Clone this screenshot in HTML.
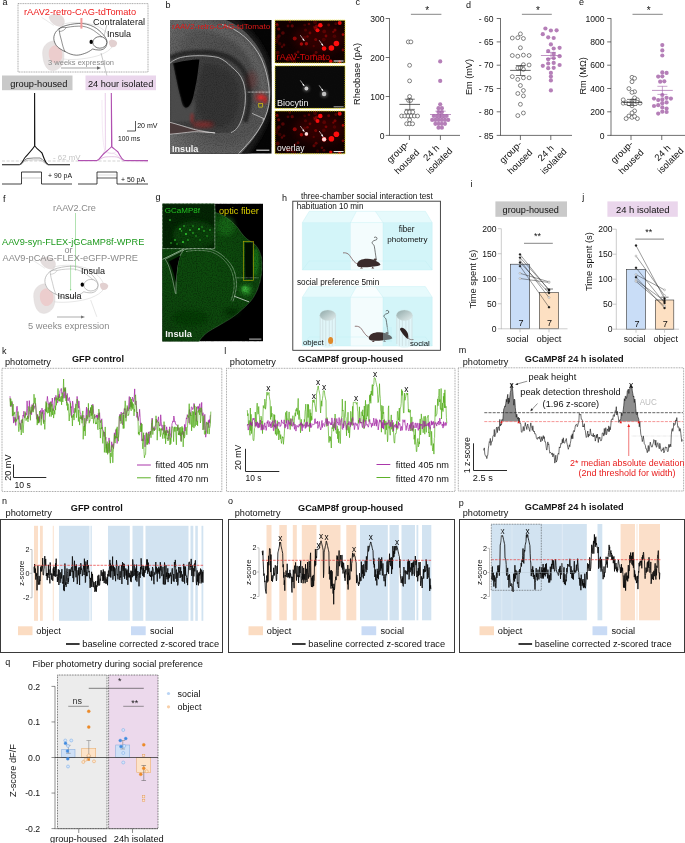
<!DOCTYPE html>
<html lang="en"><head><meta charset="utf-8"><title>Figure</title>
<style>
html,body{margin:0;padding:0;background:#fff;}
body{width:685px;height:843px;overflow:hidden;}
svg{display:block;}
svg text{font-family:"Liberation Sans",Arial,Helvetica,sans-serif;}
</style></head><body>
<svg width="685" height="843" viewBox="0 0 685 843">
<rect x="0" y="0" width="685" height="843" fill="#ffffff"/>
<text x="2.50" y="5.20" font-size="9.00" fill="#111" text-anchor="start">a</text>
<rect x="18.00" y="3.60" width="130.00" height="68.40" fill="none" stroke="#666" stroke-width="0.55" stroke-dasharray="1.1 0.6"/>
<g transform="translate(0,0) scale(1.0)" opacity="1.0">
<path d="M48.7,17 C50,13.5 57,13 61.5,15.5 C65.5,18.5 65.8,24 62,26.6 C57,27.5 50.5,24 48.7,17 Z" fill="#e4dddd" stroke="none" stroke-width="0.6"/>
<path d="M42.6,53 C42.4,46 48,41 54,41 C58,41 61,43 62.5,47 C64.5,53 64.5,60 62,65 C59,70 53,72 48.5,69.5 C44.5,66.5 42.8,60 42.6,53 Z" fill="#e7e2e2" stroke="#d9d3d3" stroke-width="0.4"/>
<path d="M48.7,53 C48.7,48 53,44.5 57.5,45.5 C61.5,47.5 63,53 62,58 C60.5,62 57,64 53.5,63 C50.5,61.5 48.7,58 48.7,53 Z" fill="#eccdcd" stroke="none" stroke-width="0.6"/>
<path d="M109,41 C111,39 116,39.5 117.2,43 C117,46.5 113.5,48 111,47 C109.3,45.5 108.5,43 109,41 Z" fill="#e2d0d0" stroke="none" stroke-width="0.6"/>
<path d="M41.6,17.4 C46,20 50,23 53.8,25.5" fill="none" stroke="#cfcfcf" stroke-width="0.45"/>
<path d="M62,24.5 C72,21 88,22 98,26.5 C105,30 110,35.5 112,40" fill="none" stroke="#cfcfcf" stroke-width="0.5"/>
<path d="M63,59 C74,60.5 90,58.5 100,55 C106,52.5 110,50 112,47" fill="none" stroke="#cfcfcf" stroke-width="0.5"/>
<path d="M53.8,38.8 C53.5,33 58,27.5 66,25.5 C72,23.8 78,23.3 82.4,23.5 C88,24 93,26 96.7,28.6 C100,31 103,34 104.9,36.8 C106.3,38.8 107,40.5 107,41.9 C107,44.5 106.3,46.5 104.9,48 C103.3,49.5 101,50.2 98.8,50 C96.5,50 94.5,49.6 92.7,49 C90,51 87.5,52.5 84.5,53.5 C81.5,54.6 79,55.2 76.3,55.2 C72.5,55 69,53.8 66.1,52.1 C63.5,51 61,49.5 58.9,48 C57,46.5 55.6,44.8 54.9,42.9 C54.2,41.5 53.9,40.2 53.8,38.8 Z" fill="#fff" stroke="#222" stroke-width="0.6"/>
<path d="M58.9,28.8 C59.5,33 60.3,37 61.6,40.9 C62.5,45 63.5,49 65.2,52" fill="none" stroke="#222" stroke-width="0.5"/>
<path d="M58.9,28.8 C61,27.5 64,27 66,27.6 C72,26.3 78,26 82.4,26.2 C88,27 93,29.5 96.7,32.7 C100.5,35.5 104,38.5 106,40.9" fill="none" stroke="#222" stroke-width="0.5"/>
<path d="M59.3,31.5 C62,31.5 65,30 66,27.6" fill="none" stroke="#222" stroke-width="0.4"/>
<ellipse cx="99.8" cy="42.4" rx="7" ry="5.8" fill="#fff" stroke="#222" stroke-width="0.6"/>
<ellipse cx="91.2" cy="41.9" rx="1.7" ry="2.1" fill="#000"/>
</g>
<text x="24.00" y="15.00" font-size="9.22" fill="#ee1c1c">rAAV2-retro-CAG-tdTomato</text>
<line x1="81.40" y1="18.00" x2="81.40" y2="28.60" stroke="#f29a9a" stroke-width="2"/>
<text x="93.00" y="25.10" font-size="9.08" fill="#111">Contralateral</text>
<text x="107.00" y="36.50" font-size="8.99" fill="#111">Insula</text>
<text x="48.00" y="64.70" font-size="7.52" fill="#8a8a8a">3 weeks expression</text>
<line x1="61.00" y1="68.00" x2="98.00" y2="68.00" stroke="#666" stroke-width="0.6"/>
<path d="M97,66.3 L101,68 L97,69.7 Z" fill="#666" stroke="none" stroke-width="0.6"/>
<path d="M107,24.5 L104,36" fill="none" stroke="#777" stroke-width="0.4"/>
<path d="M101,53 L107,76" fill="none" stroke="#777" stroke-width="0.4"/>
<rect x="2.00" y="75.50" width="70.50" height="14.70" fill="#c9c9c9" stroke="none" stroke-width="0.6"/>
<text x="10.30" y="86.80" font-size="9.24" fill="#111">group-housed</text>
<rect x="85.50" y="75.50" width="70.50" height="14.70" fill="#ead6ec" stroke="none" stroke-width="0.6"/>
<text x="88.00" y="86.80" font-size="9.18" fill="#111">24 hour isolated</text>
<line x1="2.00" y1="161.00" x2="148.00" y2="161.00" stroke="#b5b5b5" stroke-width="0.6" stroke-dasharray="3 1.6"/>
<text x="53.00" y="159.50" font-size="7.85" fill="#c4c4c4">- 62 mV</text>
<path d="M2,164.8 L19,164.8 C22,164.5 23,160 25,157.5 C29,153 32,150 34.6,146 L34.6,93 L34.8,146 C37,149 40,151 42,153 C44,158 45,163 48,164.6 L70,164.8" fill="none" stroke="#111" stroke-width="1.1"/>
<path d="M19,164.8 C22,164 24,159.5 27,158.6 C31,158 36,157.8 40,158 C43,159 45,163.5 48,164.6" fill="none" stroke="#333" stroke-width="0.6"/>
<path d="M19,164.8 C22,164.5 24,161 27,160.2 C31,159.8 36,159.6 40,160 C43,161 45,164 48,164.7" fill="none" stroke="#999" stroke-width="0.5"/>
<path d="M78,161.5 L97,161.5 C99,160 101,156 103,154 C104,152 105,150 105.3,148 L105.3,93 L105.6,150 C108,153 111,154 114,153.5 C118,155 121,160 123,161.5 L148,161.8" fill="none" stroke="#ead0ea" stroke-width="0.7"/>
<path d="M102,100 C102,130 103,150 106,152.5 C109,154 113,153 116,152" fill="none" stroke="#f0dcf0" stroke-width="0.6"/>
<path d="M78,160.5 L97,160.5 C100,159.5 101,156 104,153.5 C107,151 110,148.5 111.6,146.5 L111.3,93 L111.9,147 C114,149 116,150 118,152 C120,156 122,160 124.5,160.5 L148,160.6" fill="none" stroke="#b050b0" stroke-width="1.1"/>
<path d="M97,160.5 C100,159.8 102,157.5 105,157 C110,156.6 114,156.6 117,157 C120,158 122,160 124.5,160.4" fill="none" stroke="#c68ac6" stroke-width="0.5"/>
<path d="M135.5,121 L135.5,131 L127,131" fill="none" stroke="#111" stroke-width="0.7"/>
<text x="137.20" y="128.30" font-size="7.06" fill="#111">20 mV</text>
<text x="118.00" y="140.70" font-size="6.71" fill="#111">100 ms</text>
<path d="M2,184 L21.5,184 L21.5,172 L41.5,172 L41.5,184 L72,184" fill="none" stroke="#111" stroke-width="0.8"/>
<line x1="21.50" y1="178.00" x2="41.50" y2="178.00" stroke="#888" stroke-width="0.5"/>
<text x="48.00" y="178.30" font-size="6.91" fill="#111">+ 90 pA</text>
<path d="M78,184 L97,184 L97,172 L117,172 L117,184 L148,184" fill="none" stroke="#111" stroke-width="0.8"/>
<path d="M97,178 L117,178" fill="none" stroke="#111" stroke-width="0.7"/>
<line x1="97.00" y1="175.00" x2="117.00" y2="175.00" stroke="#aaa" stroke-width="0.4"/>
<text x="121.00" y="181.70" font-size="6.91" fill="#111">+ 50 pA</text>
<text x="165.50" y="7.50" font-size="9.00" fill="#111" text-anchor="start">b</text>
<defs>
<clipPath id="cb"><rect x="170" y="20" width="101.7" height="133.7"/></clipPath>
<filter id="bl1" x="-30%" y="-30%" width="160%" height="160%"><feGaussianBlur stdDeviation="1"/></filter>
<filter id="bl2" x="-50%" y="-50%" width="200%" height="200%"><feGaussianBlur stdDeviation="2.2"/></filter>
<filter id="bl4" x="-50%" y="-50%" width="200%" height="200%"><feGaussianBlur stdDeviation="4"/></filter>
<filter id="bl05" x="-50%" y="-50%" width="200%" height="200%"><feGaussianBlur stdDeviation="0.55"/></filter>
<filter id="grain" x="0" y="0" width="100%" height="100%"><feTurbulence type="fractalNoise" baseFrequency="0.9" numOctaves="2" seed="3"/><feColorMatrix type="matrix" values="0 0 0 0 0  0 0 0 0 0  0 0 0 0 0  0 0 0 1.4 -0.55"/></filter>
<radialGradient id="gbr" cx="0.55" cy="0.45" r="0.75"><stop offset="0" stop-color="#484848"/><stop offset="0.6" stop-color="#565656"/><stop offset="1" stop-color="#707070"/></radialGradient>
</defs>
<g clip-path="url(#cb)">
<rect x="170.00" y="20.00" width="101.70" height="133.70" fill="#050505" stroke="none" stroke-width="0.6"/>
<path d="M170,16 L232,16 C250,26 266,46 272,70 C278,96 272,126 246,158 L170,158 Z" fill="#1c1c1c" stroke="none" stroke-width="0.6" filter="url(#bl2)"/>
<path d="M170,20 L226,20 C242,26 257,41 264.5,60 C270,75 272,92 269,106 C266,122 257,136 241,153.7 L170,153.7 Z" fill="url(#gbr)" stroke="none" stroke-width="0.6" filter="url(#bl05)"/>
<path d="M170,24 C195,22 225,26 245,45 C258,60 264,80 264,95" fill="none" stroke="#6a6a6a" stroke-width="9" filter="url(#bl2)" opacity="0.7"/>
<path d="M170,58 C180,53 195,51.5 210,52.5 C228,54 243,63 247.5,80 C250,92 250,108 245,122" fill="none" stroke="#262626" stroke-width="5" filter="url(#bl1)" opacity="0.9"/>
<path d="M170,63.2 C173,60.5 177,58.5 180.6,57.5 C187,56 193,55.7 199.4,55.7 C206,55.7 212,56.2 218.3,57.5 C223,59.5 227.5,62.5 230.8,66.3 C236,70.5 241,75 243.3,82 C246.5,92 246.3,108 241,121 C238,128 235,131 231,132.5 L215,133 L170,122.3 Z" fill="#404040" stroke="none" stroke-width="0.6"/>
<path d="M203,64 C222,63 236,73 239,90 C241,108 234,124 222,128 C207,127 198,118 196,105 C197,90 200,76 203,64 Z" fill="#363636" stroke="none" stroke-width="0.6" filter="url(#bl2)"/>
<rect x="170.00" y="20.00" width="101.70" height="133.70" fill="#d8d8d8" stroke="none" stroke-width="0.6" filter="url(#grain)" opacity="0.35"/>
<path d="M170,122.3 C178,124.5 186,127 193.1,129.2 C200,131 208,132.3 215.1,132.9 C208,132.5 200,131.5 193.1,131.7 C186,132.5 178,133.5 170,134.2 Z" fill="#4a3a3a" stroke="none" stroke-width="0.6"/>
<path d="M173,63.5 C180,61 192,59.5 199.4,59.4 C198.8,65 198,70 197.5,75.1 C196.5,82 195.2,88 193.8,94 C193,98 192,101.5 190.6,104 C189.3,106.5 187.5,108 185.6,107.8 C184.3,107.5 183.2,106.5 182.5,105.3 C181.7,103 181,100.5 180.6,97.8 C179,92 177.7,86.5 176.8,81.4 C175.3,75 174,69 173,63.5 Z" fill="#020202" stroke="none" stroke-width="0.6" filter="url(#bl05)"/>
<path d="M170,64 L173,63.5 C175,75 178,90 181,100 C182.5,105 184,108 186,109 C190,108 192,104 194,98 C196,108 194,116 192,121 L170,122 Z" fill="#4e4e4e" stroke="none" stroke-width="0.6" filter="url(#bl1)" opacity="0.85"/>
<ellipse cx="260.5" cy="97.5" rx="5.5" ry="4.5" fill="#e81818" opacity="0.5" filter="url(#bl2)"/>
<ellipse cx="261" cy="97.5" rx="2.6" ry="2.1" fill="#ff2a2a" opacity="0.7" filter="url(#bl1)"/>
<ellipse cx="265" cy="100" rx="2" ry="4" fill="#f01010" opacity="0.45" filter="url(#bl1)"/>
<ellipse cx="203" cy="124.5" rx="11" ry="2.4" fill="#e01010" opacity="0.45" filter="url(#bl2)"/>
<ellipse cx="192" cy="118" rx="2" ry="5" fill="#e01010" opacity="0.3" filter="url(#bl1)"/>
<ellipse cx="252" cy="80" rx="5" ry="9" fill="#a01010" opacity="0.18" filter="url(#bl2)"/>
<path d="M222,24.5 C238,28.5 253,42 261,58 C267.5,72 270.8,90 268.8,105 C265.5,122 256,136 238.5,153.7" fill="none" stroke="#f2f2f2" stroke-width="0.6"/>
<path d="M170,63.2 C173,60.5 177,58.5 180.6,57.5 C187,56 193,55.7 199.4,55.7 C206,55.7 212,56.2 218.3,57.5 C223,59.5 227.5,62.5 230.8,66.3 C236,70.5 241,75 243.3,82 C246.5,92 246.3,108 241,121 C238,128 235,131 231,132.5" fill="none" stroke="#f2f2f2" stroke-width="0.6"/>
<path d="M170,122.3 C178,124.5 186,127 193.1,129.2 C200,131 208,132.3 215.1,132.9 C208,132.5 200,131.5 193.1,131.7 C186,132.5 178,133.5 170,134.2" fill="none" stroke="#f2f2f2" stroke-width="0.6"/>
<line x1="247.80" y1="92.10" x2="269.40" y2="92.10" stroke="#fff" stroke-width="0.7" stroke-dasharray="0.9 0.5"/>
<rect x="258.80" y="103.30" width="3.80" height="3.80" fill="none" stroke="#f0e000" stroke-width="0.6"/>
<path d="M252.2,113.4 L263.7,118.6 L262.8,120.3" fill="none" stroke="#f2f2f2" stroke-width="0.6"/>
<text x="172.00" y="28.60" font-size="8.08" fill="#e01818">rAAV2-retro-CAG-tdTomato</text>
<text x="172.00" y="151.80" font-size="9.10" fill="#f4f4f4" font-weight="bold">Insula</text>
<line x1="256.30" y1="150.20" x2="269.40" y2="150.20" stroke="#fff" stroke-width="1"/>
</g>
<defs><clipPath id="cb1"><rect x="275" y="20.2" width="70" height="42.8"/></clipPath><clipPath id="cb2"><rect x="275" y="65.8" width="70" height="42.6"/></clipPath><clipPath id="cb3"><rect x="275" y="111" width="70" height="42.8"/></clipPath></defs>
<g clip-path="url(#cb1)">
<rect x="275.00" y="20.20" width="70.00" height="42.80" fill="#120000" stroke="none" stroke-width="0.6"/>
<rect x="275.00" y="20.20" width="70.00" height="42.80" fill="#c00000" stroke="none" stroke-width="0.6" filter="url(#grain)" opacity="0.4"/>
<ellipse cx="320" cy="38.2" rx="26" ry="14" fill="#a00000" opacity="0.22" filter="url(#bl4)"/>
<circle cx="320.3" cy="25.2" r="2.3" fill="#ff1010" opacity="1" filter="url(#bl05)"/>
<circle cx="317.5" cy="30.2" r="2.0" fill="#ff1010" opacity="0.95" filter="url(#bl05)"/>
<circle cx="339.7" cy="23" r="2.0" fill="#ff1010" opacity="0.9" filter="url(#bl05)"/>
<circle cx="336.4" cy="43.5" r="2.8" fill="#ff1010" opacity="1" filter="url(#bl05)"/>
<circle cx="331.4" cy="48" r="2.8" fill="#ff1010" opacity="1" filter="url(#bl05)"/>
<circle cx="324.1" cy="48.5" r="2.3" fill="#ff1010" opacity="1" filter="url(#bl05)"/>
<circle cx="294.7" cy="38.5" r="2.0" fill="#ff1010" opacity="0.5" filter="url(#bl05)"/>
<circle cx="301.4" cy="44" r="1.7" fill="#ff1010" opacity="0.6" filter="url(#bl05)"/>
<circle cx="306.4" cy="43.7" r="1.7" fill="#ff1010" opacity="0.55" filter="url(#bl05)"/>
<circle cx="330.8" cy="61.3" r="1.7" fill="#ff1010" opacity="0.9" filter="url(#bl05)"/>
<circle cx="339.7" cy="61.8" r="1.5" fill="#ff1010" opacity="0.7" filter="url(#bl05)"/>
<circle cx="278.7" cy="29" r="1.6" fill="#ff1010" opacity="0.35" filter="url(#bl05)"/>
<circle cx="343" cy="34.6" r="1.3" fill="#ff1010" opacity="0.6" filter="url(#bl05)"/>
<circle cx="288" cy="26" r="1.4" fill="#ff1010" opacity="0.25" filter="url(#bl05)"/>
<circle cx="310" cy="33" r="1.4" fill="#ff1010" opacity="0.3" filter="url(#bl05)"/>
<circle cx="298" cy="52" r="1.5" fill="#ff1010" opacity="0.3" filter="url(#bl05)"/>
<circle cx="314" cy="55" r="1.5" fill="#ff1010" opacity="0.3" filter="url(#bl05)"/>
<circle cx="326" cy="36" r="1.4" fill="#ff1010" opacity="0.35" filter="url(#bl05)"/>
<circle cx="284" cy="45" r="1.4" fill="#ff1010" opacity="0.25" filter="url(#bl05)"/>
<circle cx="335" cy="30" r="1.5" fill="#ff1010" opacity="0.35" filter="url(#bl05)"/>
<circle cx="309" cy="24" r="1.3" fill="#ff1010" opacity="0.3" filter="url(#bl05)"/>
<circle cx="322" cy="57" r="1.3" fill="#ff1010" opacity="0.3" filter="url(#bl05)"/>
<circle cx="343" cy="50" r="1.4" fill="#ff1010" opacity="0.4" filter="url(#bl05)"/>
<circle cx="291" cy="58" r="1.3" fill="#ff1010" opacity="0.25" filter="url(#bl05)"/>
<circle cx="307.5" cy="36.4" r="1.24" fill="#ff1010" opacity="0.31" filter="url(#bl05)"/>
<circle cx="276.4" cy="41.6" r="2.0" fill="#ff1010" opacity="0.14" filter="url(#bl05)"/>
<circle cx="313.7" cy="46.2" r="1.14" fill="#ff1010" opacity="0.2" filter="url(#bl05)"/>
<circle cx="323.8" cy="39.6" r="1.83" fill="#ff1010" opacity="0.15" filter="url(#bl05)"/>
<circle cx="292.2" cy="25.9" r="1.61" fill="#ff1010" opacity="0.32" filter="url(#bl05)"/>
<circle cx="316.1" cy="52.5" r="1.48" fill="#ff1010" opacity="0.28" filter="url(#bl05)"/>
<circle cx="282.9" cy="33.1" r="1.77" fill="#ff1010" opacity="0.28" filter="url(#bl05)"/>
<circle cx="304.7" cy="25.0" r="1.37" fill="#ff1010" opacity="0.17" filter="url(#bl05)"/>
<circle cx="295.1" cy="53.9" r="1.3" fill="#ff1010" opacity="0.32" filter="url(#bl05)"/>
<circle cx="335.8" cy="23.7" r="1.48" fill="#ff1010" opacity="0.23" filter="url(#bl05)"/>
<circle cx="277.6" cy="38.5" r="2.01" fill="#ff1010" opacity="0.14" filter="url(#bl05)"/>
<circle cx="316.6" cy="26.3" r="1.68" fill="#ff1010" opacity="0.32" filter="url(#bl05)"/>
<circle cx="289.8" cy="21.8" r="1.18" fill="#ff1010" opacity="0.24" filter="url(#bl05)"/>
<circle cx="277.2" cy="24.9" r="1.6" fill="#ff1010" opacity="0.32" filter="url(#bl05)"/>
<circle cx="304.6" cy="37.4" r="1.74" fill="#ff1010" opacity="0.14" filter="url(#bl05)"/>
<circle cx="315.4" cy="28.4" r="1.71" fill="#ff1010" opacity="0.33" filter="url(#bl05)"/>
<circle cx="279.7" cy="43.7" r="1.71" fill="#ff1010" opacity="0.15" filter="url(#bl05)"/>
<circle cx="294.2" cy="61.3" r="2.1" fill="#ff1010" opacity="0.15" filter="url(#bl05)"/>
<circle cx="324.0" cy="59.5" r="1.34" fill="#ff1010" opacity="0.25" filter="url(#bl05)"/>
<circle cx="278.9" cy="36.1" r="1.77" fill="#ff1010" opacity="0.25" filter="url(#bl05)"/>
<circle cx="328.7" cy="25.0" r="1.45" fill="#ff1010" opacity="0.31" filter="url(#bl05)"/>
<circle cx="315.7" cy="39.6" r="1.5" fill="#ff1010" opacity="0.34" filter="url(#bl05)"/>
<circle cx="315.1" cy="22.2" r="1.9" fill="#ff1010" opacity="0.19" filter="url(#bl05)"/>
<circle cx="305.5" cy="30.0" r="1.54" fill="#ff1010" opacity="0.19" filter="url(#bl05)"/>
<circle cx="282.0" cy="46.7" r="1.2" fill="#ff1010" opacity="0.29" filter="url(#bl05)"/>
<circle cx="277.7" cy="52.7" r="1.91" fill="#ff1010" opacity="0.23" filter="url(#bl05)"/>
<circle cx="324.2" cy="31.4" r="1.84" fill="#ff1010" opacity="0.21" filter="url(#bl05)"/>
<circle cx="291.7" cy="60.1" r="1.5" fill="#ff1010" opacity="0.2" filter="url(#bl05)"/>
<circle cx="334.5" cy="36.3" r="1.77" fill="#ff1010" opacity="0.16" filter="url(#bl05)"/>
<circle cx="333.3" cy="31.9" r="1.15" fill="#ff1010" opacity="0.33" filter="url(#bl05)"/>
<circle cx="287.7" cy="59.4" r="2.09" fill="#ff1010" opacity="0.25" filter="url(#bl05)"/>
<circle cx="276.8" cy="23.9" r="1.31" fill="#ff1010" opacity="0.21" filter="url(#bl05)"/>
<circle cx="317.6" cy="60.2" r="1.45" fill="#ff1010" opacity="0.15" filter="url(#bl05)"/>
<circle cx="314.2" cy="27.0" r="1.19" fill="#ff1010" opacity="0.24" filter="url(#bl05)"/>
</g>
<text x="276.40" y="60.40" font-size="9.25" fill="#d60808">rAAV-Tomato</text>
<line x1="333.60" y1="61.00" x2="343.60" y2="61.00" stroke="#fff" stroke-width="1"/>
<line x1="300.30" y1="35.20" x2="304.20" y2="40.70" stroke="#fff" stroke-width="0.6"/>
<path d="M304.49,41.11 L302.27,39.64 L303.83,38.53 Z" fill="#fff" stroke="none" stroke-width="0.6"/>
<line x1="319.20" y1="40.20" x2="323.00" y2="45.70" stroke="#fff" stroke-width="0.6"/>
<path d="M323.28,46.11 L321.09,44.61 L322.66,43.53 Z" fill="#fff" stroke="none" stroke-width="0.6"/>
<rect x="275.00" y="20.20" width="70.00" height="42.80" fill="none" stroke="#e8dc10" stroke-width="0.8" stroke-dasharray="1.4 0.7"/>
<g clip-path="url(#cb2)">
<rect x="275.00" y="65.80" width="70.00" height="42.60" fill="#0b0b0b" stroke="none" stroke-width="0.6"/>
<rect x="275.00" y="65.80" width="70.00" height="42.60" fill="#999" stroke="none" stroke-width="0.6" filter="url(#grain)" opacity="0.18"/>
<circle cx="306.4" cy="88.5" r="1.9" fill="#fff" filter="url(#bl05)"/><circle cx="306.4" cy="88.5" r="3.5" fill="#888" opacity="0.4" filter="url(#bl1)"/>
<circle cx="324.1" cy="94" r="2.2" fill="#e8e8e8" filter="url(#bl05)"/><circle cx="324.1" cy="94" r="3.8" fill="#888" opacity="0.4" filter="url(#bl1)"/>
</g>
<text x="277.00" y="106.10" font-size="9.02" fill="#f0f0f0">Biocytin</text>
<line x1="333.60" y1="106.80" x2="343.60" y2="106.80" stroke="#aaa" stroke-width="1"/>
<line x1="300.30" y1="80.40" x2="304.20" y2="85.90" stroke="#fff" stroke-width="0.6"/>
<path d="M304.49,86.31 L302.27,84.84 L303.83,83.73 Z" fill="#fff" stroke="none" stroke-width="0.6"/>
<line x1="319.20" y1="85.40" x2="323.00" y2="90.90" stroke="#fff" stroke-width="0.6"/>
<path d="M323.28,91.31 L321.09,89.81 L322.66,88.73 Z" fill="#fff" stroke="none" stroke-width="0.6"/>
<rect x="275.00" y="65.80" width="70.00" height="42.60" fill="none" stroke="#e8dc10" stroke-width="0.8" stroke-dasharray="1.4 0.7"/>
<g clip-path="url(#cb3)">
<rect x="275.00" y="111.00" width="70.00" height="42.80" fill="#120000" stroke="none" stroke-width="0.6"/>
<rect x="275.00" y="111.00" width="70.00" height="42.80" fill="#c00000" stroke="none" stroke-width="0.6" filter="url(#grain)" opacity="0.4"/>
<ellipse cx="320" cy="129" rx="26" ry="14" fill="#a00000" opacity="0.22" filter="url(#bl4)"/>
<circle cx="320.3" cy="116.0" r="2.3" fill="#ff1010" opacity="1" filter="url(#bl05)"/>
<circle cx="317.5" cy="121.0" r="2.0" fill="#ff1010" opacity="0.95" filter="url(#bl05)"/>
<circle cx="339.7" cy="113.8" r="2.0" fill="#ff1010" opacity="0.9" filter="url(#bl05)"/>
<circle cx="336.4" cy="134.3" r="2.8" fill="#ff1010" opacity="1" filter="url(#bl05)"/>
<circle cx="331.4" cy="138.8" r="2.8" fill="#ff1010" opacity="1" filter="url(#bl05)"/>
<circle cx="324.1" cy="139.3" r="2.3" fill="#ff1010" opacity="1" filter="url(#bl05)"/>
<circle cx="294.7" cy="129.3" r="2.0" fill="#ff1010" opacity="0.5" filter="url(#bl05)"/>
<circle cx="301.4" cy="134.8" r="1.7" fill="#ff1010" opacity="0.6" filter="url(#bl05)"/>
<circle cx="306.4" cy="134.5" r="1.7" fill="#ff1010" opacity="0.55" filter="url(#bl05)"/>
<circle cx="330.8" cy="152.1" r="1.7" fill="#ff1010" opacity="0.9" filter="url(#bl05)"/>
<circle cx="339.7" cy="152.6" r="1.5" fill="#ff1010" opacity="0.7" filter="url(#bl05)"/>
<circle cx="278.7" cy="119.8" r="1.6" fill="#ff1010" opacity="0.35" filter="url(#bl05)"/>
<circle cx="343" cy="125.4" r="1.3" fill="#ff1010" opacity="0.6" filter="url(#bl05)"/>
<circle cx="288" cy="116.8" r="1.4" fill="#ff1010" opacity="0.25" filter="url(#bl05)"/>
<circle cx="310" cy="123.8" r="1.4" fill="#ff1010" opacity="0.3" filter="url(#bl05)"/>
<circle cx="298" cy="142.8" r="1.5" fill="#ff1010" opacity="0.3" filter="url(#bl05)"/>
<circle cx="314" cy="145.8" r="1.5" fill="#ff1010" opacity="0.3" filter="url(#bl05)"/>
<circle cx="326" cy="126.8" r="1.4" fill="#ff1010" opacity="0.35" filter="url(#bl05)"/>
<circle cx="284" cy="135.8" r="1.4" fill="#ff1010" opacity="0.25" filter="url(#bl05)"/>
<circle cx="335" cy="120.8" r="1.5" fill="#ff1010" opacity="0.35" filter="url(#bl05)"/>
<circle cx="309" cy="114.8" r="1.3" fill="#ff1010" opacity="0.3" filter="url(#bl05)"/>
<circle cx="322" cy="147.8" r="1.3" fill="#ff1010" opacity="0.3" filter="url(#bl05)"/>
<circle cx="343" cy="140.8" r="1.4" fill="#ff1010" opacity="0.4" filter="url(#bl05)"/>
<circle cx="291" cy="148.8" r="1.3" fill="#ff1010" opacity="0.25" filter="url(#bl05)"/>
<circle cx="307.5" cy="127.19999999999999" r="1.24" fill="#ff1010" opacity="0.31" filter="url(#bl05)"/>
<circle cx="276.4" cy="132.4" r="2.0" fill="#ff1010" opacity="0.14" filter="url(#bl05)"/>
<circle cx="313.7" cy="137.0" r="1.14" fill="#ff1010" opacity="0.2" filter="url(#bl05)"/>
<circle cx="323.8" cy="130.4" r="1.83" fill="#ff1010" opacity="0.15" filter="url(#bl05)"/>
<circle cx="292.2" cy="116.69999999999999" r="1.61" fill="#ff1010" opacity="0.32" filter="url(#bl05)"/>
<circle cx="316.1" cy="143.3" r="1.48" fill="#ff1010" opacity="0.28" filter="url(#bl05)"/>
<circle cx="282.9" cy="123.9" r="1.77" fill="#ff1010" opacity="0.28" filter="url(#bl05)"/>
<circle cx="304.7" cy="115.8" r="1.37" fill="#ff1010" opacity="0.17" filter="url(#bl05)"/>
<circle cx="295.1" cy="144.7" r="1.3" fill="#ff1010" opacity="0.32" filter="url(#bl05)"/>
<circle cx="335.8" cy="114.5" r="1.48" fill="#ff1010" opacity="0.23" filter="url(#bl05)"/>
<circle cx="277.6" cy="129.3" r="2.01" fill="#ff1010" opacity="0.14" filter="url(#bl05)"/>
<circle cx="316.6" cy="117.1" r="1.68" fill="#ff1010" opacity="0.32" filter="url(#bl05)"/>
<circle cx="289.8" cy="112.6" r="1.18" fill="#ff1010" opacity="0.24" filter="url(#bl05)"/>
<circle cx="277.2" cy="115.69999999999999" r="1.6" fill="#ff1010" opacity="0.32" filter="url(#bl05)"/>
<circle cx="304.6" cy="128.2" r="1.74" fill="#ff1010" opacity="0.14" filter="url(#bl05)"/>
<circle cx="315.4" cy="119.19999999999999" r="1.71" fill="#ff1010" opacity="0.33" filter="url(#bl05)"/>
<circle cx="279.7" cy="134.5" r="1.71" fill="#ff1010" opacity="0.15" filter="url(#bl05)"/>
<circle cx="294.2" cy="152.1" r="2.1" fill="#ff1010" opacity="0.15" filter="url(#bl05)"/>
<circle cx="324.0" cy="150.3" r="1.34" fill="#ff1010" opacity="0.25" filter="url(#bl05)"/>
<circle cx="278.9" cy="126.9" r="1.77" fill="#ff1010" opacity="0.25" filter="url(#bl05)"/>
<circle cx="328.7" cy="115.8" r="1.45" fill="#ff1010" opacity="0.31" filter="url(#bl05)"/>
<circle cx="315.7" cy="130.4" r="1.5" fill="#ff1010" opacity="0.34" filter="url(#bl05)"/>
<circle cx="315.1" cy="113.0" r="1.9" fill="#ff1010" opacity="0.19" filter="url(#bl05)"/>
<circle cx="305.5" cy="120.8" r="1.54" fill="#ff1010" opacity="0.19" filter="url(#bl05)"/>
<circle cx="282.0" cy="137.5" r="1.2" fill="#ff1010" opacity="0.29" filter="url(#bl05)"/>
<circle cx="277.7" cy="143.5" r="1.91" fill="#ff1010" opacity="0.23" filter="url(#bl05)"/>
<circle cx="324.2" cy="122.19999999999999" r="1.84" fill="#ff1010" opacity="0.21" filter="url(#bl05)"/>
<circle cx="291.7" cy="150.9" r="1.5" fill="#ff1010" opacity="0.2" filter="url(#bl05)"/>
<circle cx="334.5" cy="127.1" r="1.77" fill="#ff1010" opacity="0.16" filter="url(#bl05)"/>
<circle cx="333.3" cy="122.69999999999999" r="1.15" fill="#ff1010" opacity="0.33" filter="url(#bl05)"/>
<circle cx="287.7" cy="150.2" r="2.09" fill="#ff1010" opacity="0.25" filter="url(#bl05)"/>
<circle cx="276.8" cy="114.69999999999999" r="1.31" fill="#ff1010" opacity="0.21" filter="url(#bl05)"/>
<circle cx="317.6" cy="151.0" r="1.45" fill="#ff1010" opacity="0.15" filter="url(#bl05)"/>
<circle cx="314.2" cy="117.8" r="1.19" fill="#ff1010" opacity="0.24" filter="url(#bl05)"/>
<circle cx="306.4" cy="133.9" r="1.8" fill="#ffe0e0" filter="url(#bl05)"/>
<circle cx="324.1" cy="139.4" r="2.1" fill="#ffd8d8" filter="url(#bl05)"/>
</g>
<text x="277.00" y="151.30" font-size="8.53" fill="#f0f0f0">overlay</text>
<line x1="333.60" y1="151.60" x2="343.60" y2="151.60" stroke="#fff" stroke-width="1"/>
<line x1="300.30" y1="126.00" x2="304.20" y2="131.50" stroke="#fff" stroke-width="0.6"/>
<path d="M304.49,131.91 L302.27,130.44 L303.83,129.33 Z" fill="#fff" stroke="none" stroke-width="0.6"/>
<line x1="319.20" y1="131.00" x2="323.00" y2="136.50" stroke="#fff" stroke-width="0.6"/>
<path d="M323.28,136.91 L321.09,135.41 L322.66,134.33 Z" fill="#fff" stroke="none" stroke-width="0.6"/>
<rect x="275.00" y="111.00" width="70.00" height="42.80" fill="none" stroke="#e8dc10" stroke-width="0.8" stroke-dasharray="1.4 0.7"/>
<text x="355.50" y="5.00" font-size="9.00" fill="#111" text-anchor="start">c</text>
<line x1="389.50" y1="18.20" x2="389.50" y2="135.40" stroke="#333" stroke-width="0.7"/>
<line x1="389.15" y1="135.40" x2="460.00" y2="135.40" stroke="#333" stroke-width="0.7"/>
<line x1="385.70" y1="18.50" x2="389.50" y2="18.50" stroke="#333" stroke-width="0.7"/>
<text x="384.50" y="21.60" font-size="8.60" fill="#111" text-anchor="end">300</text>
<line x1="385.70" y1="57.50" x2="389.50" y2="57.50" stroke="#333" stroke-width="0.7"/>
<text x="384.50" y="60.60" font-size="8.60" fill="#111" text-anchor="end">200</text>
<line x1="385.70" y1="96.50" x2="389.50" y2="96.50" stroke="#333" stroke-width="0.7"/>
<text x="384.50" y="99.60" font-size="8.60" fill="#111" text-anchor="end">100</text>
<line x1="385.70" y1="135.40" x2="389.50" y2="135.40" stroke="#333" stroke-width="0.7"/>
<text x="384.50" y="138.50" font-size="8.60" fill="#111" text-anchor="end">0</text>
<line x1="409.40" y1="135.40" x2="409.40" y2="140.00" stroke="#333" stroke-width="0.7"/>
<line x1="440.40" y1="135.40" x2="440.40" y2="140.00" stroke="#333" stroke-width="0.7"/>
<text transform="translate(360.00,105.00) rotate(-90)" font-size="9.22" fill="#111">Rheobase (pA)</text>
<line x1="410.90" y1="14.30" x2="441.40" y2="14.30" stroke="#333" stroke-width="0.6"/>
<text x="427.30" y="14.20" font-size="10.00" fill="#111" text-anchor="middle">*</text>
<text transform="translate(399.95,154.05) rotate(-45)" font-size="9.35" fill="#111" text-anchor="middle">group-</text>
<text transform="translate(409.10,164.00) rotate(-45)" font-size="9.35" fill="#111" text-anchor="middle">housed</text>
<text transform="translate(433.50,155.00) rotate(-45)" font-size="9.35" fill="#111" text-anchor="middle">24 h</text>
<text transform="translate(441.60,163.00) rotate(-45)" font-size="9.35" fill="#111" text-anchor="middle">isolated</text>
<circle cx="408.30" cy="41.90" r="1.95" fill="#fff" stroke="#222" stroke-width="0.55"/>
<circle cx="410.90" cy="41.90" r="1.95" fill="#fff" stroke="#222" stroke-width="0.55"/>
<circle cx="409.60" cy="65.30" r="1.95" fill="#fff" stroke="#222" stroke-width="0.55"/>
<circle cx="409.60" cy="80.90" r="1.95" fill="#fff" stroke="#222" stroke-width="0.55"/>
<circle cx="409.60" cy="96.50" r="1.95" fill="#fff" stroke="#222" stroke-width="0.55"/>
<circle cx="408.60" cy="100.40" r="1.95" fill="#fff" stroke="#222" stroke-width="0.55"/>
<circle cx="410.60" cy="100.40" r="1.95" fill="#fff" stroke="#222" stroke-width="0.55"/>
<circle cx="406.40" cy="112.10" r="1.95" fill="#fff" stroke="#222" stroke-width="0.55"/>
<circle cx="409.60" cy="112.10" r="1.95" fill="#fff" stroke="#222" stroke-width="0.55"/>
<circle cx="412.80" cy="112.10" r="1.95" fill="#fff" stroke="#222" stroke-width="0.55"/>
<circle cx="401.60" cy="116.00" r="1.95" fill="#fff" stroke="#222" stroke-width="0.55"/>
<circle cx="404.80" cy="116.00" r="1.95" fill="#fff" stroke="#222" stroke-width="0.55"/>
<circle cx="408.00" cy="116.00" r="1.95" fill="#fff" stroke="#222" stroke-width="0.55"/>
<circle cx="411.20" cy="116.00" r="1.95" fill="#fff" stroke="#222" stroke-width="0.55"/>
<circle cx="414.40" cy="116.00" r="1.95" fill="#fff" stroke="#222" stroke-width="0.55"/>
<circle cx="417.60" cy="116.00" r="1.95" fill="#fff" stroke="#222" stroke-width="0.55"/>
<circle cx="409.60" cy="119.90" r="1.95" fill="#fff" stroke="#222" stroke-width="0.55"/>
<circle cx="406.60" cy="123.80" r="1.95" fill="#fff" stroke="#222" stroke-width="0.55"/>
<circle cx="409.60" cy="123.80" r="1.95" fill="#fff" stroke="#222" stroke-width="0.55"/>
<circle cx="412.60" cy="123.80" r="1.95" fill="#fff" stroke="#222" stroke-width="0.55"/>
<line x1="399.40" y1="104.40" x2="420.00" y2="104.40" stroke="#222" stroke-width="0.7"/>
<line x1="404.80" y1="99.20" x2="414.80" y2="99.20" stroke="#222" stroke-width="0.6"/>
<line x1="404.80" y1="109.40" x2="414.80" y2="109.40" stroke="#222" stroke-width="0.6"/>
<line x1="409.80" y1="99.20" x2="409.80" y2="109.40" stroke="#222" stroke-width="0.6"/>
<circle cx="440.20" cy="61.40" r="2.1" fill="#b57fb8" stroke="none" stroke-width="0.6"/>
<circle cx="440.20" cy="80.90" r="2.1" fill="#b57fb8" stroke="none" stroke-width="0.6"/>
<circle cx="440.20" cy="104.30" r="2.1" fill="#b57fb8" stroke="none" stroke-width="0.6"/>
<circle cx="438.50" cy="108.20" r="2.1" fill="#b57fb8" stroke="none" stroke-width="0.6"/>
<circle cx="441.90" cy="108.20" r="2.1" fill="#b57fb8" stroke="none" stroke-width="0.6"/>
<circle cx="438.50" cy="112.10" r="2.1" fill="#b57fb8" stroke="none" stroke-width="0.6"/>
<circle cx="441.90" cy="112.10" r="2.1" fill="#b57fb8" stroke="none" stroke-width="0.6"/>
<circle cx="433.80" cy="116.00" r="2.1" fill="#b57fb8" stroke="none" stroke-width="0.6"/>
<circle cx="437.00" cy="116.00" r="2.1" fill="#b57fb8" stroke="none" stroke-width="0.6"/>
<circle cx="440.20" cy="116.00" r="2.1" fill="#b57fb8" stroke="none" stroke-width="0.6"/>
<circle cx="443.40" cy="116.00" r="2.1" fill="#b57fb8" stroke="none" stroke-width="0.6"/>
<circle cx="446.60" cy="116.00" r="2.1" fill="#b57fb8" stroke="none" stroke-width="0.6"/>
<circle cx="432.20" cy="119.90" r="2.1" fill="#b57fb8" stroke="none" stroke-width="0.6"/>
<circle cx="435.40" cy="119.90" r="2.1" fill="#b57fb8" stroke="none" stroke-width="0.6"/>
<circle cx="438.60" cy="119.90" r="2.1" fill="#b57fb8" stroke="none" stroke-width="0.6"/>
<circle cx="441.80" cy="119.90" r="2.1" fill="#b57fb8" stroke="none" stroke-width="0.6"/>
<circle cx="445.00" cy="119.90" r="2.1" fill="#b57fb8" stroke="none" stroke-width="0.6"/>
<circle cx="448.20" cy="119.90" r="2.1" fill="#b57fb8" stroke="none" stroke-width="0.6"/>
<circle cx="435.40" cy="123.80" r="2.1" fill="#b57fb8" stroke="none" stroke-width="0.6"/>
<circle cx="438.60" cy="123.80" r="2.1" fill="#b57fb8" stroke="none" stroke-width="0.6"/>
<circle cx="441.80" cy="123.80" r="2.1" fill="#b57fb8" stroke="none" stroke-width="0.6"/>
<circle cx="445.00" cy="123.80" r="2.1" fill="#b57fb8" stroke="none" stroke-width="0.6"/>
<circle cx="438.50" cy="127.70" r="2.1" fill="#b57fb8" stroke="none" stroke-width="0.6"/>
<circle cx="441.90" cy="127.70" r="2.1" fill="#b57fb8" stroke="none" stroke-width="0.6"/>
<line x1="430.00" y1="114.50" x2="451.00" y2="114.50" stroke="#a565ab" stroke-width="0.7"/>
<line x1="435.30" y1="111.20" x2="445.70" y2="111.20" stroke="#a565ab" stroke-width="0.6"/>
<line x1="435.30" y1="117.70" x2="445.70" y2="117.70" stroke="#a565ab" stroke-width="0.6"/>
<line x1="440.50" y1="111.20" x2="440.50" y2="117.70" stroke="#a565ab" stroke-width="0.6"/>
<text x="466.00" y="8.00" font-size="9.00" fill="#111" text-anchor="start">d</text>
<line x1="500.50" y1="18.20" x2="500.50" y2="135.40" stroke="#333" stroke-width="0.7"/>
<line x1="500.15" y1="135.40" x2="572.00" y2="135.40" stroke="#333" stroke-width="0.7"/>
<line x1="496.70" y1="18.50" x2="500.50" y2="18.50" stroke="#333" stroke-width="0.7"/>
<text x="493.50" y="21.60" font-size="8.60" fill="#111" text-anchor="end">- 60</text>
<line x1="496.70" y1="41.90" x2="500.50" y2="41.90" stroke="#333" stroke-width="0.7"/>
<text x="493.50" y="45.00" font-size="8.60" fill="#111" text-anchor="end">- 65</text>
<line x1="496.70" y1="65.20" x2="500.50" y2="65.20" stroke="#333" stroke-width="0.7"/>
<text x="493.50" y="68.30" font-size="8.60" fill="#111" text-anchor="end">- 70</text>
<line x1="496.70" y1="88.50" x2="500.50" y2="88.50" stroke="#333" stroke-width="0.7"/>
<text x="493.50" y="91.60" font-size="8.60" fill="#111" text-anchor="end">- 75</text>
<line x1="496.70" y1="111.80" x2="500.50" y2="111.80" stroke="#333" stroke-width="0.7"/>
<text x="493.50" y="114.90" font-size="8.60" fill="#111" text-anchor="end">- 80</text>
<line x1="496.70" y1="135.40" x2="500.50" y2="135.40" stroke="#333" stroke-width="0.7"/>
<text x="493.50" y="138.50" font-size="8.60" fill="#111" text-anchor="end">- 85</text>
<line x1="520.40" y1="135.40" x2="520.40" y2="140.00" stroke="#333" stroke-width="0.7"/>
<line x1="550.80" y1="135.40" x2="550.80" y2="140.00" stroke="#333" stroke-width="0.7"/>
<text transform="translate(472.30,95.00) rotate(-90)" font-size="9.13" fill="#111">Em (mV)</text>
<line x1="521.90" y1="14.30" x2="551.80" y2="14.30" stroke="#333" stroke-width="0.6"/>
<text x="538.00" y="14.20" font-size="10.00" fill="#111" text-anchor="middle">*</text>
<text transform="translate(512.85,154.45) rotate(-45)" font-size="9.35" fill="#111" text-anchor="middle">group-</text>
<text transform="translate(522.20,164.00) rotate(-45)" font-size="9.35" fill="#111" text-anchor="middle">housed</text>
<text transform="translate(547.90,155.20) rotate(-45)" font-size="9.35" fill="#111" text-anchor="middle">24 h</text>
<text transform="translate(555.90,163.40) rotate(-45)" font-size="9.35" fill="#111" text-anchor="middle">isolated</text>
<circle cx="520.40" cy="33.90" r="1.95" fill="#fff" stroke="#222" stroke-width="0.55"/>
<circle cx="512.30" cy="38.00" r="1.95" fill="#fff" stroke="#222" stroke-width="0.55"/>
<circle cx="517.80" cy="37.70" r="1.95" fill="#fff" stroke="#222" stroke-width="0.55"/>
<circle cx="523.40" cy="38.50" r="1.95" fill="#fff" stroke="#222" stroke-width="0.55"/>
<circle cx="520.40" cy="47.80" r="1.95" fill="#fff" stroke="#222" stroke-width="0.55"/>
<circle cx="512.30" cy="55.50" r="1.95" fill="#fff" stroke="#222" stroke-width="0.55"/>
<circle cx="517.80" cy="56.20" r="1.95" fill="#fff" stroke="#222" stroke-width="0.55"/>
<circle cx="523.40" cy="55.10" r="1.95" fill="#fff" stroke="#222" stroke-width="0.55"/>
<circle cx="529.10" cy="55.50" r="1.95" fill="#fff" stroke="#222" stroke-width="0.55"/>
<circle cx="523.40" cy="64.70" r="1.95" fill="#fff" stroke="#222" stroke-width="0.55"/>
<circle cx="529.10" cy="65.00" r="1.95" fill="#fff" stroke="#222" stroke-width="0.55"/>
<circle cx="517.80" cy="68.10" r="1.95" fill="#fff" stroke="#222" stroke-width="0.55"/>
<circle cx="523.40" cy="69.30" r="1.95" fill="#fff" stroke="#222" stroke-width="0.55"/>
<circle cx="520.40" cy="67.80" r="1.95" fill="#fff" stroke="#222" stroke-width="0.55"/>
<circle cx="512.30" cy="76.60" r="1.95" fill="#fff" stroke="#222" stroke-width="0.55"/>
<circle cx="517.80" cy="79.40" r="1.95" fill="#fff" stroke="#222" stroke-width="0.55"/>
<circle cx="523.40" cy="77.80" r="1.95" fill="#fff" stroke="#222" stroke-width="0.55"/>
<circle cx="529.10" cy="77.80" r="1.95" fill="#fff" stroke="#222" stroke-width="0.55"/>
<circle cx="520.40" cy="85.50" r="1.95" fill="#fff" stroke="#222" stroke-width="0.55"/>
<circle cx="523.40" cy="90.50" r="1.95" fill="#fff" stroke="#222" stroke-width="0.55"/>
<circle cx="517.80" cy="93.50" r="1.95" fill="#fff" stroke="#222" stroke-width="0.55"/>
<circle cx="523.40" cy="95.90" r="1.95" fill="#fff" stroke="#222" stroke-width="0.55"/>
<circle cx="520.40" cy="104.30" r="1.95" fill="#fff" stroke="#222" stroke-width="0.55"/>
<circle cx="523.40" cy="113.00" r="1.95" fill="#fff" stroke="#222" stroke-width="0.55"/>
<circle cx="517.80" cy="115.60" r="1.95" fill="#fff" stroke="#222" stroke-width="0.55"/>
<line x1="510.10" y1="70.40" x2="530.70" y2="70.40" stroke="#222" stroke-width="0.7"/>
<line x1="515.80" y1="65.50" x2="525.40" y2="65.50" stroke="#222" stroke-width="0.6"/>
<line x1="515.80" y1="75.50" x2="525.40" y2="75.50" stroke="#222" stroke-width="0.6"/>
<line x1="520.60" y1="65.50" x2="520.60" y2="75.50" stroke="#222" stroke-width="0.6"/>
<circle cx="545.40" cy="28.50" r="2.1" fill="#b57fb8" stroke="none" stroke-width="0.6"/>
<circle cx="550.90" cy="30.50" r="2.1" fill="#b57fb8" stroke="none" stroke-width="0.6"/>
<circle cx="556.60" cy="30.30" r="2.1" fill="#b57fb8" stroke="none" stroke-width="0.6"/>
<circle cx="542.80" cy="34.20" r="2.1" fill="#b57fb8" stroke="none" stroke-width="0.6"/>
<circle cx="548.20" cy="37.30" r="2.1" fill="#b57fb8" stroke="none" stroke-width="0.6"/>
<circle cx="553.70" cy="38.00" r="2.1" fill="#b57fb8" stroke="none" stroke-width="0.6"/>
<circle cx="550.90" cy="44.40" r="2.1" fill="#b57fb8" stroke="none" stroke-width="0.6"/>
<circle cx="553.70" cy="48.50" r="2.1" fill="#b57fb8" stroke="none" stroke-width="0.6"/>
<circle cx="559.60" cy="47.80" r="2.1" fill="#b57fb8" stroke="none" stroke-width="0.6"/>
<circle cx="548.20" cy="51.10" r="2.1" fill="#b57fb8" stroke="none" stroke-width="0.6"/>
<circle cx="553.70" cy="53.90" r="2.1" fill="#b57fb8" stroke="none" stroke-width="0.6"/>
<circle cx="559.60" cy="56.20" r="2.1" fill="#b57fb8" stroke="none" stroke-width="0.6"/>
<circle cx="553.70" cy="58.10" r="2.1" fill="#b57fb8" stroke="none" stroke-width="0.6"/>
<circle cx="548.20" cy="59.30" r="2.1" fill="#b57fb8" stroke="none" stroke-width="0.6"/>
<circle cx="548.20" cy="63.50" r="2.1" fill="#b57fb8" stroke="none" stroke-width="0.6"/>
<circle cx="553.70" cy="62.90" r="2.1" fill="#b57fb8" stroke="none" stroke-width="0.6"/>
<circle cx="542.80" cy="65.80" r="2.1" fill="#b57fb8" stroke="none" stroke-width="0.6"/>
<circle cx="559.60" cy="65.00" r="2.1" fill="#b57fb8" stroke="none" stroke-width="0.6"/>
<circle cx="548.20" cy="68.20" r="2.1" fill="#b57fb8" stroke="none" stroke-width="0.6"/>
<circle cx="553.70" cy="67.80" r="2.1" fill="#b57fb8" stroke="none" stroke-width="0.6"/>
<circle cx="550.90" cy="72.90" r="2.1" fill="#b57fb8" stroke="none" stroke-width="0.6"/>
<circle cx="550.90" cy="76.60" r="2.1" fill="#b57fb8" stroke="none" stroke-width="0.6"/>
<circle cx="550.90" cy="80.40" r="2.1" fill="#b57fb8" stroke="none" stroke-width="0.6"/>
<circle cx="550.90" cy="90.40" r="2.1" fill="#b57fb8" stroke="none" stroke-width="0.6"/>
<line x1="540.90" y1="55.50" x2="561.30" y2="55.50" stroke="#a565ab" stroke-width="0.7"/>
<line x1="546.00" y1="52.40" x2="556.00" y2="52.40" stroke="#a565ab" stroke-width="0.6"/>
<line x1="546.00" y1="58.50" x2="556.00" y2="58.50" stroke="#a565ab" stroke-width="0.6"/>
<line x1="551.00" y1="52.40" x2="551.00" y2="58.50" stroke="#a565ab" stroke-width="0.6"/>
<text x="579.00" y="4.50" font-size="9.00" fill="#111" text-anchor="start">e</text>
<line x1="611.00" y1="18.20" x2="611.00" y2="135.40" stroke="#333" stroke-width="0.7"/>
<line x1="610.65" y1="135.40" x2="686.00" y2="135.40" stroke="#333" stroke-width="0.7"/>
<line x1="607.20" y1="18.50" x2="611.00" y2="18.50" stroke="#333" stroke-width="0.7"/>
<text x="604.50" y="21.60" font-size="8.60" fill="#111" text-anchor="end">1000</text>
<line x1="607.20" y1="41.90" x2="611.00" y2="41.90" stroke="#333" stroke-width="0.7"/>
<text x="604.50" y="45.00" font-size="8.60" fill="#111" text-anchor="end">800</text>
<line x1="607.20" y1="65.20" x2="611.00" y2="65.20" stroke="#333" stroke-width="0.7"/>
<text x="604.50" y="68.30" font-size="8.60" fill="#111" text-anchor="end">600</text>
<line x1="607.20" y1="88.50" x2="611.00" y2="88.50" stroke="#333" stroke-width="0.7"/>
<text x="604.50" y="91.60" font-size="8.60" fill="#111" text-anchor="end">400</text>
<line x1="607.20" y1="111.80" x2="611.00" y2="111.80" stroke="#333" stroke-width="0.7"/>
<text x="604.50" y="114.90" font-size="8.60" fill="#111" text-anchor="end">200</text>
<line x1="607.20" y1="135.40" x2="611.00" y2="135.40" stroke="#333" stroke-width="0.7"/>
<text x="604.50" y="138.50" font-size="8.60" fill="#111" text-anchor="end">0</text>
<line x1="631.00" y1="135.40" x2="631.00" y2="140.00" stroke="#333" stroke-width="0.7"/>
<line x1="661.75" y1="135.40" x2="661.75" y2="140.00" stroke="#333" stroke-width="0.7"/>
<text transform="translate(586.00,94.50) rotate(-90)" font-size="9.19" fill="#111">Rm (MΩ)</text>
<line x1="632.50" y1="14.30" x2="662.75" y2="14.30" stroke="#333" stroke-width="0.6"/>
<text x="648.77" y="14.20" font-size="10.00" fill="#111" text-anchor="middle">*</text>
<text transform="translate(624.15,154.25) rotate(-45)" font-size="9.35" fill="#111" text-anchor="middle">group-</text>
<text transform="translate(633.40,164.00) rotate(-45)" font-size="9.35" fill="#111" text-anchor="middle">housed</text>
<text transform="translate(664.70,155.00) rotate(-45)" font-size="9.35" fill="#111" text-anchor="middle">24 h</text>
<text transform="translate(672.70,162.80) rotate(-45)" font-size="9.35" fill="#111" text-anchor="middle">isolated</text>
<circle cx="632.00" cy="77.30" r="1.95" fill="#fff" stroke="#222" stroke-width="0.55"/>
<circle cx="634.60" cy="78.30" r="1.95" fill="#fff" stroke="#222" stroke-width="0.55"/>
<circle cx="632.00" cy="81.70" r="1.95" fill="#fff" stroke="#222" stroke-width="0.55"/>
<circle cx="628.90" cy="88.60" r="1.95" fill="#fff" stroke="#222" stroke-width="0.55"/>
<circle cx="634.60" cy="91.70" r="1.95" fill="#fff" stroke="#222" stroke-width="0.55"/>
<circle cx="632.00" cy="92.40" r="1.95" fill="#fff" stroke="#222" stroke-width="0.55"/>
<circle cx="634.60" cy="97.80" r="1.95" fill="#fff" stroke="#222" stroke-width="0.55"/>
<circle cx="623.20" cy="99.80" r="1.95" fill="#fff" stroke="#222" stroke-width="0.55"/>
<circle cx="637.40" cy="99.80" r="1.95" fill="#fff" stroke="#222" stroke-width="0.55"/>
<circle cx="632.00" cy="100.90" r="1.95" fill="#fff" stroke="#222" stroke-width="0.55"/>
<circle cx="623.20" cy="103.20" r="1.95" fill="#fff" stroke="#222" stroke-width="0.55"/>
<circle cx="626.10" cy="102.90" r="1.95" fill="#fff" stroke="#222" stroke-width="0.55"/>
<circle cx="628.90" cy="103.70" r="1.95" fill="#fff" stroke="#222" stroke-width="0.55"/>
<circle cx="632.00" cy="102.90" r="1.95" fill="#fff" stroke="#222" stroke-width="0.55"/>
<circle cx="637.40" cy="102.40" r="1.95" fill="#fff" stroke="#222" stroke-width="0.55"/>
<circle cx="640.10" cy="103.20" r="1.95" fill="#fff" stroke="#222" stroke-width="0.55"/>
<circle cx="632.00" cy="105.80" r="1.95" fill="#fff" stroke="#222" stroke-width="0.55"/>
<circle cx="634.60" cy="110.90" r="1.95" fill="#fff" stroke="#222" stroke-width="0.55"/>
<circle cx="632.00" cy="112.90" r="1.95" fill="#fff" stroke="#222" stroke-width="0.55"/>
<circle cx="628.90" cy="116.00" r="1.95" fill="#fff" stroke="#222" stroke-width="0.55"/>
<circle cx="632.00" cy="117.40" r="1.95" fill="#fff" stroke="#222" stroke-width="0.55"/>
<circle cx="626.10" cy="118.60" r="1.95" fill="#fff" stroke="#222" stroke-width="0.55"/>
<circle cx="637.40" cy="118.60" r="1.95" fill="#fff" stroke="#222" stroke-width="0.55"/>
<circle cx="634.60" cy="116.30" r="1.95" fill="#fff" stroke="#222" stroke-width="0.55"/>
<line x1="622.30" y1="102.50" x2="642.00" y2="102.50" stroke="#222" stroke-width="0.7"/>
<line x1="627.00" y1="99.40" x2="637.00" y2="99.40" stroke="#222" stroke-width="0.6"/>
<line x1="627.00" y1="105.50" x2="637.00" y2="105.50" stroke="#222" stroke-width="0.6"/>
<line x1="632.00" y1="99.40" x2="632.00" y2="105.50" stroke="#222" stroke-width="0.6"/>
<circle cx="662.30" cy="45.10" r="2.1" fill="#b57fb8" stroke="none" stroke-width="0.6"/>
<circle cx="662.30" cy="50.40" r="2.1" fill="#b57fb8" stroke="none" stroke-width="0.6"/>
<circle cx="662.30" cy="55.50" r="2.1" fill="#b57fb8" stroke="none" stroke-width="0.6"/>
<circle cx="662.30" cy="72.40" r="2.1" fill="#b57fb8" stroke="none" stroke-width="0.6"/>
<circle cx="666.60" cy="72.90" r="2.1" fill="#b57fb8" stroke="none" stroke-width="0.6"/>
<circle cx="658.20" cy="76.60" r="2.1" fill="#b57fb8" stroke="none" stroke-width="0.6"/>
<circle cx="662.30" cy="76.30" r="2.1" fill="#b57fb8" stroke="none" stroke-width="0.6"/>
<circle cx="660.20" cy="81.70" r="2.1" fill="#b57fb8" stroke="none" stroke-width="0.6"/>
<circle cx="664.30" cy="81.30" r="2.1" fill="#b57fb8" stroke="none" stroke-width="0.6"/>
<circle cx="662.30" cy="95.00" r="2.1" fill="#b57fb8" stroke="none" stroke-width="0.6"/>
<circle cx="654.00" cy="98.60" r="2.1" fill="#b57fb8" stroke="none" stroke-width="0.6"/>
<circle cx="658.20" cy="100.10" r="2.1" fill="#b57fb8" stroke="none" stroke-width="0.6"/>
<circle cx="662.30" cy="99.40" r="2.1" fill="#b57fb8" stroke="none" stroke-width="0.6"/>
<circle cx="666.60" cy="97.80" r="2.1" fill="#b57fb8" stroke="none" stroke-width="0.6"/>
<circle cx="670.90" cy="98.60" r="2.1" fill="#b57fb8" stroke="none" stroke-width="0.6"/>
<circle cx="662.30" cy="103.20" r="2.1" fill="#b57fb8" stroke="none" stroke-width="0.6"/>
<circle cx="666.60" cy="102.40" r="2.1" fill="#b57fb8" stroke="none" stroke-width="0.6"/>
<circle cx="654.00" cy="106.00" r="2.1" fill="#b57fb8" stroke="none" stroke-width="0.6"/>
<circle cx="658.20" cy="105.20" r="2.1" fill="#b57fb8" stroke="none" stroke-width="0.6"/>
<circle cx="662.30" cy="107.40" r="2.1" fill="#b57fb8" stroke="none" stroke-width="0.6"/>
<circle cx="666.60" cy="108.60" r="2.1" fill="#b57fb8" stroke="none" stroke-width="0.6"/>
<circle cx="658.20" cy="113.60" r="2.1" fill="#b57fb8" stroke="none" stroke-width="0.6"/>
<circle cx="662.30" cy="111.70" r="2.1" fill="#b57fb8" stroke="none" stroke-width="0.6"/>
<circle cx="666.60" cy="112.00" r="2.1" fill="#b57fb8" stroke="none" stroke-width="0.6"/>
<line x1="652.00" y1="90.40" x2="672.80" y2="90.40" stroke="#a565ab" stroke-width="0.7"/>
<line x1="657.40" y1="86.30" x2="667.40" y2="86.30" stroke="#a565ab" stroke-width="0.6"/>
<line x1="657.40" y1="94.40" x2="667.40" y2="94.40" stroke="#a565ab" stroke-width="0.6"/>
<line x1="662.40" y1="86.30" x2="662.40" y2="94.40" stroke="#a565ab" stroke-width="0.6"/>
<text x="3.00" y="202.00" font-size="9.00" fill="#111" text-anchor="start">f</text>
<text x="53.00" y="210.50" font-size="9.14" fill="#8a8a8a">rAAV2.Cre</text>
<g transform="translate(-8.9,242.8) scale(1.0)" opacity="1.0">
<path d="M48.7,17 C50,13.5 57,13 61.5,15.5 C65.5,18.5 65.8,24 62,26.6 C57,27.5 50.5,24 48.7,17 Z" fill="#e4dddd" stroke="none" stroke-width="0.6"/>
<path d="M42.6,53 C42.4,46 48,41 54,41 C58,41 61,43 62.5,47 C64.5,53 64.5,60 62,65 C59,70 53,72 48.5,69.5 C44.5,66.5 42.8,60 42.6,53 Z" fill="#e7e2e2" stroke="#d9d3d3" stroke-width="0.4"/>
<path d="M48.7,53 C48.7,48 53,44.5 57.5,45.5 C61.5,47.5 63,53 62,58 C60.5,62 57,64 53.5,63 C50.5,61.5 48.7,58 48.7,53 Z" fill="#eccdcd" stroke="none" stroke-width="0.6"/>
<path d="M109,41 C111,39 116,39.5 117.2,43 C117,46.5 113.5,48 111,47 C109.3,45.5 108.5,43 109,41 Z" fill="#e2d0d0" stroke="none" stroke-width="0.6"/>
<path d="M41.6,17.4 C46,20 50,23 53.8,25.5" fill="none" stroke="#cfcfcf" stroke-width="0.45"/>
<path d="M62,24.5 C72,21 88,22 98,26.5 C105,30 110,35.5 112,40" fill="none" stroke="#cfcfcf" stroke-width="0.5"/>
<path d="M63,59 C74,60.5 90,58.5 100,55 C106,52.5 110,50 112,47" fill="none" stroke="#cfcfcf" stroke-width="0.5"/>
<path d="M53.8,38.8 C53.5,33 58,27.5 66,25.5 C72,23.8 78,23.3 82.4,23.5 C88,24 93,26 96.7,28.6 C100,31 103,34 104.9,36.8 C106.3,38.8 107,40.5 107,41.9 C107,44.5 106.3,46.5 104.9,48 C103.3,49.5 101,50.2 98.8,50 C96.5,50 94.5,49.6 92.7,49 C90,51 87.5,52.5 84.5,53.5 C81.5,54.6 79,55.2 76.3,55.2 C72.5,55 69,53.8 66.1,52.1 C63.5,51 61,49.5 58.9,48 C57,46.5 55.6,44.8 54.9,42.9 C54.2,41.5 53.9,40.2 53.8,38.8 Z" fill="#fff" stroke="#9a9a9a" stroke-width="0.6"/>
<path d="M58.9,28.8 C59.5,33 60.3,37 61.6,40.9 C62.5,45 63.5,49 65.2,52" fill="none" stroke="#9a9a9a" stroke-width="0.5"/>
<path d="M58.9,28.8 C61,27.5 64,27 66,27.6 C72,26.3 78,26 82.4,26.2 C88,27 93,29.5 96.7,32.7 C100.5,35.5 104,38.5 106,40.9" fill="none" stroke="#9a9a9a" stroke-width="0.5"/>
<path d="M59.3,31.5 C62,31.5 65,30 66,27.6" fill="none" stroke="#9a9a9a" stroke-width="0.4"/>
<ellipse cx="99.8" cy="42.4" rx="7" ry="5.8" fill="#fff" stroke="#9a9a9a" stroke-width="0.6"/>
<ellipse cx="91.2" cy="41.9" rx="1.7" ry="2.1" fill="#000"/>
</g>
<line x1="75.50" y1="213.00" x2="75.50" y2="270.50" stroke="#7ccf7c" stroke-width="0.6"/>
<line x1="70.60" y1="265.40" x2="70.60" y2="289.50" stroke="#7ccf7c" stroke-width="0.6"/>
<circle cx="70.60" cy="289.80" r="0.7" fill="#7ccf7c" stroke="none" stroke-width="0.6"/>
<text x="2.00" y="244.80" font-size="9.20" fill="#1e9a1e">AAV9-syn-FLEX-jGCaMP8f-WPRE</text>
<text x="64.50" y="252.50" font-size="9.00" fill="#8a8a8a">or</text>
<text x="2.50" y="261.00" font-size="9.25" fill="#8a8a8a">AAV9-pCAG-FLEX-eGFP-WPRE</text>
<text x="81.00" y="273.50" font-size="8.99" fill="#111">Insula</text>
<text x="57.50" y="299.00" font-size="8.99" fill="#111">Insula</text>
<line x1="57.00" y1="317.00" x2="82.00" y2="317.00" stroke="#777" stroke-width="0.6"/>
<path d="M81,315.4 L85,317 L81,318.6 Z" fill="#777" stroke="none" stroke-width="0.6"/>
<path d="M90.7,300 L96.8,316.8" fill="none" stroke="#c0c0c0" stroke-width="0.4"/>
<text x="28.00" y="329.00" font-size="9.28" fill="#8a8a8a">5 weeks expression</text>
<text x="155.50" y="199.50" font-size="9.00" fill="#111" text-anchor="start">g</text>
<defs>
<clipPath id="cg"><rect x="162.3" y="203.6" width="100.7" height="137.8"/></clipPath>
<clipPath id="cgi"><rect x="162.3" y="203.6" width="52.5" height="45"/></clipPath>
<filter id="graing" x="0" y="0" width="100%" height="100%"><feTurbulence type="fractalNoise" baseFrequency="0.8" numOctaves="2" seed="7"/><feColorMatrix type="matrix" values="0 0 0 0 0  0 0 0 0 0  0 0 0 0 0  0 0 0 1.5 -0.6"/></filter>
<radialGradient id="ggr" cx="0.45" cy="0.5" r="0.7"><stop offset="0" stop-color="#0b4c0b"/><stop offset="0.7" stop-color="#0a450a"/><stop offset="1" stop-color="#083808"/></radialGradient>
</defs>
<g clip-path="url(#cg)">
<rect x="162.30" y="203.60" width="100.70" height="137.80" fill="#000" stroke="none" stroke-width="0.6"/>
<path d="M162,203 L214,203 L216,212.5 C222,214 230,219 238,228 C242,234 245,238 250,241 C256,244 260,250 261.5,258 C263,268 261,280 258,288 C255,296 252,300 248,304 C242,310 236,315 230,319 C222,324 214,328 208,332 C204,335 201,338 199,342 L162,342 Z" fill="url(#ggr)" stroke="none" stroke-width="0.6" filter="url(#bl05)"/>
<ellipse cx="226" cy="226" rx="9" ry="10" fill="#1d7a1d" opacity="0.6" filter="url(#bl2)"/>
<ellipse cx="246" cy="290" rx="5.5" ry="5" fill="#35b035" opacity="0.75" filter="url(#bl2)"/>
<ellipse cx="245" cy="289" rx="2.5" ry="2.2" fill="#50d050" opacity="0.7" filter="url(#bl1)"/>
<ellipse cx="256" cy="262" rx="3" ry="14" fill="#1f8a1f" opacity="0.6" filter="url(#bl1)"/>
<ellipse cx="190" cy="318" rx="18" ry="8" fill="#063806" opacity="0.6" filter="url(#bl2)"/>
<ellipse cx="232" cy="312" rx="8" ry="4" fill="#042a04" opacity="0.7" filter="url(#bl2)"/>
<rect x="162.30" y="203.60" width="100.70" height="137.80" fill="#021a02" stroke="none" stroke-width="0.6" filter="url(#graing)" opacity="0.5"/>
<path d="M245,243 L252.5,243 L252.5,279 L245.5,279 Z" fill="#010801" stroke="none" stroke-width="0.6" filter="url(#bl05)"/>
<path d="M165.2,259.3 C169,264 172,275 175.3,293 L176,293.8 C176,280 176.5,268 178.5,260 C180,255 182,252 183.7,250 Z" fill="#052c05" stroke="#dcefdc" stroke-width="0.45"/>
<path d="M168.8,261.5 L180.5,255.5 C177.8,262 176.6,270 176.2,283 C174,273 171.5,266.5 168.8,261.5 Z" fill="#000" stroke="none" stroke-width="0.6" filter="url(#bl05)"/>
<path d="M215.5,212.5 C222,214 230,219 238,228 C242,234 245,238 250,241 C256,244 260,250 261.5,258 C263,268 261,280 258,288 C255,296 252,300 248,304 C242,310 236,315 230,319 C222,324 214,328 208,332 C204,335 201,338 199,341.4" fill="none" stroke="#8fbf8f" stroke-width="0.4" stroke-dasharray="0.7 0.5"/>
<path d="M183.7,249.8 C193,248 203,248 211.3,249.5 C220,252 228,259 233,268 C237,277 237,286 235.5,292 C234.8,296 233.8,299 232.8,301.5" fill="none" stroke="#e8f4e8" stroke-width="0.55" stroke-dasharray="0.9 0.4"/>
<path d="M186,251.6 C194,250 203,250 210.5,251.6 C218.5,254 226,260.5 230.7,269 C234.5,277.5 234.8,286 233.4,292 C232.8,295.5 231.8,298.5 231,300.5" fill="none" stroke="#e8f4e8" stroke-width="0.45" stroke-dasharray="0.9 0.4"/>
<path d="M162.3,259.5 L183.3,249.2" fill="none" stroke="#e8f4e8" stroke-width="0.55"/>
<line x1="236.90" y1="277.80" x2="258.50" y2="277.80" stroke="#cfe8cf" stroke-width="0.45" stroke-dasharray="0.9 0.4"/>
<path d="M234.2,296.2 L249.1,301.9" fill="none" stroke="#f2f2f2" stroke-width="0.7"/>
<rect x="243.60" y="241.60" width="10.00" height="38.80" fill="none" stroke="#b8ac00" stroke-width="0.6"/>
<text x="165.30" y="336.90" font-size="9.21" fill="#f4f4f4" font-weight="bold">Insula</text>
<line x1="249.10" y1="339.10" x2="261.40" y2="339.10" stroke="#ddd" stroke-width="0.9"/>
</g>
<g clip-path="url(#cgi)">
<rect x="162.30" y="203.60" width="52.50" height="45.00" fill="#042604" stroke="none" stroke-width="0.6"/>
<ellipse cx="195" cy="235" rx="22" ry="14" fill="#0b4a0b" opacity="0.8" filter="url(#bl2)"/>
<rect x="162.30" y="203.60" width="52.50" height="45.00" fill="#0a5a0a" stroke="none" stroke-width="0.6" filter="url(#graing)" opacity="0.5"/>
<circle cx="180" cy="229" r="0.95" fill="#38e038" opacity="0.95"/>
<circle cx="181.5" cy="231" r="0.75" fill="#38e038" opacity="0.7"/>
<circle cx="184" cy="226" r="0.75" fill="#38e038" opacity="0.95"/>
<circle cx="190" cy="230" r="0.95" fill="#38e038" opacity="0.7"/>
<circle cx="193" cy="233" r="0.75" fill="#38e038" opacity="0.95"/>
<circle cx="196" cy="236" r="0.75" fill="#38e038" opacity="0.7"/>
<circle cx="199" cy="229" r="0.95" fill="#38e038" opacity="0.95"/>
<circle cx="202" cy="227" r="0.75" fill="#38e038" opacity="0.7"/>
<circle cx="204" cy="231" r="0.75" fill="#38e038" opacity="0.95"/>
<circle cx="175" cy="240" r="0.95" fill="#38e038" opacity="0.7"/>
<circle cx="171" cy="243" r="0.75" fill="#38e038" opacity="0.95"/>
<circle cx="177" cy="244" r="0.75" fill="#38e038" opacity="0.7"/>
<circle cx="183" cy="242" r="0.95" fill="#38e038" opacity="0.95"/>
<circle cx="207" cy="236" r="0.75" fill="#38e038" opacity="0.7"/>
<circle cx="210" cy="230" r="0.75" fill="#38e038" opacity="0.95"/>
<circle cx="170" cy="220" r="0.95" fill="#38e038" opacity="0.7"/>
<circle cx="188" cy="240" r="0.75" fill="#38e038" opacity="0.95"/>
<circle cx="193" cy="226" r="0.75" fill="#38e038" opacity="0.7"/>
<circle cx="186" cy="234" r="0.95" fill="#38e038" opacity="0.95"/>
<circle cx="200" cy="240" r="0.75" fill="#38e038" opacity="0.7"/>
</g>
<rect x="162.30" y="203.60" width="52.50" height="45.00" fill="none" stroke="#e8f4e8" stroke-width="0.6" stroke-dasharray="0.9 0.45"/>
<text x="164.70" y="212.90" font-size="8.04" fill="#22c222">GCaMP8f</text>
<text x="218.90" y="213.50" font-size="9.23" fill="#d8cc00">optic fiber</text>
<text x="282.00" y="200.50" font-size="9.00" fill="#111" text-anchor="start">h</text>
<text x="301.00" y="198.90" font-size="8.19" fill="#111">three-chamber social interaction test</text>
<rect x="292.80" y="201.20" width="147.60" height="149.10" fill="#fff" stroke="#333" stroke-width="0.9"/>
<text x="296.80" y="208.50" font-size="8.16" fill="#111">habituation 10 min</text>
<path d="M302.4,222.6 L309.2,211.3 L425.4,211.3 L432.2,222.6 Z" fill="#e6fafc" stroke="none" stroke-width="0.6"/>
<rect x="302.40" y="222.60" width="48.10" height="47.40" fill="#d3f5f9" stroke="none" stroke-width="0.6"/>
<rect x="383.00" y="222.60" width="49.20" height="47.40" fill="#d3f5f9" stroke="none" stroke-width="0.6"/>
<rect x="350.50" y="222.60" width="32.50" height="47.40" fill="#f3fcfd" stroke="none" stroke-width="0.6"/>
<path d="M350.5,222.6 L356.4,211.3 L375.4,211.3 L383,222.6 Z" fill="#f8feff" stroke="none" stroke-width="0.6"/>
<path d="M302.4,222.6 L432.2,222.6" fill="none" stroke="#bfeef3" stroke-width="0.4"/>
<path d="M302.4,222.6 L309.2,211.3 L425.4,211.3 L432.2,222.6" fill="none" stroke="#bfeef3" stroke-width="0.4"/>
<path d="M350.5,222.6 L350.5,270" fill="none" stroke="#bfeef3" stroke-width="0.4"/>
<path d="M383,222.6 L383,270" fill="none" stroke="#bfeef3" stroke-width="0.4"/>
<path d="M350.5,222.6 L356.4,211.3" fill="none" stroke="#bfeef3" stroke-width="0.4"/>
<path d="M383,222.6 L375.4,211.3" fill="none" stroke="#bfeef3" stroke-width="0.4"/>
<path d="M302.4,222.6 L302.4,270 L432.2,270 L432.2,222.6" fill="none" stroke="#bfeef3" stroke-width="0.4"/>
<path d="M302.4,270 L309.2,261 L425.4,261 L432.2,270" fill="none" stroke="#bfeef3" stroke-width="0.4"/>
<text x="406.60" y="232.00" font-size="8.15" fill="#111" text-anchor="middle">fiber</text>
<text x="387.30" y="242.30" font-size="8.06" fill="#111">photometry</text>
<g transform="translate(367.5,263.2) scale(1.0)">
<path d="M-9,1 C-14,0 -16,-6 -19,-9 C-21,-10.5 -23,-10.5 -24.5,-10.3" fill="none" stroke="#7a5a5a" stroke-width="0.8"/>
<path d="M-10.5,1.5 C-10.5,-2.5 -5,-4.6 0,-4.4 C4,-4.4 7,-3.5 9,-2 C11,-1.2 12.5,0.2 13,1.6 C11.5,2.8 9,3.2 6.5,3.4 C2,4.2 -4,4.4 -8,3.8 C-10,3.4 -10.5,2.5 -10.5,1.5 Z" fill="#3a2b2b" stroke="none" stroke-width="0.6"/>
<ellipse cx="7.6" cy="-3.4" rx="1.5" ry="1.3" fill="#4a3838"/>
<path d="M-6,3.8 L-7.5,5.3 L-4.5,5.3 Z M5,3.4 L4,5.2 L6.8,5.2 Z" fill="#5a4545" stroke="none" stroke-width="0.6"/>
<path d="M8.8,-3.5 C8,-9 7.5,-13 6.8,-17 C6,-20 3.5,-19 5,-21.5 C6.5,-23.5 9.5,-22.5 9.5,-24.5 C9.5,-26.5 7.5,-26.5 6.5,-25.5" fill="none" stroke="#222" stroke-width="0.6"/>
</g>
<text x="297.00" y="284.50" font-size="8.18" fill="#111">social preference 5min</text>
<path d="M302.4,297.2 L309.2,286.6 L425.4,286.6 L432.2,297.2 Z" fill="#e6fafc" stroke="none" stroke-width="0.6"/>
<rect x="302.40" y="297.20" width="48.10" height="48.80" fill="#d3f5f9" stroke="none" stroke-width="0.6"/>
<rect x="383.00" y="297.20" width="49.20" height="48.80" fill="#d3f5f9" stroke="none" stroke-width="0.6"/>
<rect x="350.50" y="297.20" width="32.50" height="48.80" fill="#f3fcfd" stroke="none" stroke-width="0.6"/>
<path d="M350.5,297.2 L356.4,286.6 L375.4,286.6 L383,297.2 Z" fill="#f8feff" stroke="none" stroke-width="0.6"/>
<path d="M302.4,297.2 L432.2,297.2" fill="none" stroke="#bfeef3" stroke-width="0.4"/>
<path d="M302.4,297.2 L309.2,286.6 L425.4,286.6 L432.2,297.2" fill="none" stroke="#bfeef3" stroke-width="0.4"/>
<path d="M350.5,297.2 L350.5,346" fill="none" stroke="#bfeef3" stroke-width="0.4"/>
<path d="M383,297.2 L383,346" fill="none" stroke="#bfeef3" stroke-width="0.4"/>
<path d="M350.5,297.2 L356.4,286.6" fill="none" stroke="#bfeef3" stroke-width="0.4"/>
<path d="M383,297.2 L375.4,286.6" fill="none" stroke="#bfeef3" stroke-width="0.4"/>
<path d="M302.4,297.2 L302.4,346 L432.2,346 L432.2,297.2" fill="none" stroke="#bfeef3" stroke-width="0.4"/>
<path d="M302.4,346 L309.2,337 L425.4,337 L432.2,346" fill="none" stroke="#bfeef3" stroke-width="0.4"/>
<defs><linearGradient id="cyl327" x1="0" y1="0" x2="1" y2="1"><stop offset="0" stop-color="#8fa8a8"/><stop offset="1" stop-color="#e4eeee"/></linearGradient></defs>
<path d="M319.8,315.2 L319.8,343.5 A8,4.16 0 0 0 335.8,343.5 L335.8,315.2 Z" fill="#e2f6f8" stroke="none" stroke-width="0.6" opacity="0.9"/>
<line x1="320.20" y1="315.20" x2="320.20" y2="344.00" stroke="#b8c6c8" stroke-width="0.4"/>
<line x1="322.80" y1="318.32" x2="322.80" y2="346.00" stroke="#b8c6c8" stroke-width="0.4"/>
<line x1="325.80" y1="318.32" x2="325.80" y2="346.00" stroke="#b8c6c8" stroke-width="0.4"/>
<line x1="329.30" y1="318.32" x2="329.30" y2="346.00" stroke="#b8c6c8" stroke-width="0.4"/>
<line x1="332.30" y1="318.32" x2="332.30" y2="346.00" stroke="#b8c6c8" stroke-width="0.4"/>
<line x1="335.40" y1="315.20" x2="335.40" y2="344.00" stroke="#b8c6c8" stroke-width="0.4"/>
<ellipse cx="327.8" cy="315.2" rx="8" ry="5.2" fill="url(#cyl327)" stroke="#c8d8d8" stroke-width="0.3"/>
<defs><linearGradient id="cyl404" x1="0" y1="0" x2="1" y2="1"><stop offset="0" stop-color="#8fa8a8"/><stop offset="1" stop-color="#e4eeee"/></linearGradient></defs>
<path d="M396.4,315.2 L396.4,343.5 A8,4.16 0 0 0 412.4,343.5 L412.4,315.2 Z" fill="#e2f6f8" stroke="none" stroke-width="0.6" opacity="0.9"/>
<line x1="396.80" y1="315.20" x2="396.80" y2="344.00" stroke="#b8c6c8" stroke-width="0.4"/>
<line x1="399.40" y1="318.32" x2="399.40" y2="346.00" stroke="#b8c6c8" stroke-width="0.4"/>
<line x1="402.40" y1="318.32" x2="402.40" y2="346.00" stroke="#b8c6c8" stroke-width="0.4"/>
<line x1="405.90" y1="318.32" x2="405.90" y2="346.00" stroke="#b8c6c8" stroke-width="0.4"/>
<line x1="408.90" y1="318.32" x2="408.90" y2="346.00" stroke="#b8c6c8" stroke-width="0.4"/>
<line x1="412.00" y1="315.20" x2="412.00" y2="344.00" stroke="#b8c6c8" stroke-width="0.4"/>
<ellipse cx="404.4" cy="315.2" rx="8" ry="5.2" fill="url(#cyl404)" stroke="#c8d8d8" stroke-width="0.3"/>
<ellipse cx="330.6" cy="340.6" rx="2.5" ry="3.5" fill="#e08a2a"/>
<g transform="translate(379.3,336.6) scale(1.0)">
<path d="M-9,1 C-14,0 -16,-6 -19,-9 C-21,-10.5 -23,-10.5 -24.5,-10.3" fill="none" stroke="#7a5a5a" stroke-width="0.8"/>
<path d="M-10.5,1.5 C-10.5,-2.5 -5,-4.6 0,-4.4 C4,-4.4 7,-3.5 9,-2 C11,-1.2 12.5,0.2 13,1.6 C11.5,2.8 9,3.2 6.5,3.4 C2,4.2 -4,4.4 -8,3.8 C-10,3.4 -10.5,2.5 -10.5,1.5 Z" fill="#3a2b2b" stroke="none" stroke-width="0.6"/>
<ellipse cx="7.6" cy="-3.4" rx="1.5" ry="1.3" fill="#4a3838"/>
<path d="M-6,3.8 L-7.5,5.3 L-4.5,5.3 Z M5,3.4 L4,5.2 L6.8,5.2 Z" fill="#5a4545" stroke="none" stroke-width="0.6"/>
<path d="M8.8,-3.5 C8,-9 7.5,-13 6.8,-17 C6,-20 3.5,-19 5,-21.5 C6.5,-23.5 9.5,-22.5 9.5,-24.5 C9.5,-26.5 7.5,-26.5 6.5,-25.5" fill="none" stroke="#222" stroke-width="0.6"/>
</g>
<rect x="383.00" y="327.00" width="9.00" height="15.00" fill="#bfeef3" stroke="none" stroke-width="0.6" opacity="0.35"/>
<g transform="translate(404.5,332.5) rotate(55) scale(0.55)">
<path d="M-10.5,1.5 C-10.5,-2.5 -5,-4.6 0,-4.4 C4,-4.4 7,-3.5 9,-2 C11,-1.2 12.5,0.2 13,1.6 C11.5,2.8 9,3.2 6.5,3.4 C2,4.2 -4,4.4 -8,3.8 C-10,3.4 -10.5,2.5 -10.5,1.5 Z" fill="#2e2222" stroke="none" stroke-width="0.6"/>
</g>
<path d="M407,337 C409,339.5 411,340 413.5,339.5" fill="none" stroke="#5a4545" stroke-width="0.6"/>
<text x="303.00" y="344.90" font-size="7.72" fill="#111">object</text>
<text x="410.00" y="345.80" font-size="7.74" fill="#111">social</text>
<text x="470.50" y="187.00" font-size="9.00" fill="#111" text-anchor="start">i</text>
<rect x="495.40" y="201.40" width="71.60" height="15.40" fill="#c9c9c9" stroke="none" stroke-width="0.6"/>
<text x="502.60" y="212.50" font-size="9.15" fill="#111">group-housed</text>
<rect x="510.40" y="264.20" width="19.20" height="64.60" fill="#c9ddf7" stroke="#333" stroke-width="0.6"/>
<rect x="539.40" y="292.50" width="19.20" height="36.30" fill="#fde0c2" stroke="#333" stroke-width="0.6"/>
<line x1="501.30" y1="228.70" x2="501.30" y2="328.80" stroke="#a8a8a8" stroke-width="0.6"/>
<line x1="501.00" y1="328.80" x2="567.50" y2="328.80" stroke="#a8a8a8" stroke-width="0.6"/>
<line x1="497.80" y1="228.70" x2="501.30" y2="228.70" stroke="#a8a8a8" stroke-width="0.6"/>
<text x="496.50" y="231.80" font-size="8.60" fill="#111" text-anchor="end">200</text>
<line x1="497.80" y1="253.72" x2="501.30" y2="253.72" stroke="#a8a8a8" stroke-width="0.6"/>
<text x="496.50" y="256.82" font-size="8.60" fill="#111" text-anchor="end">150</text>
<line x1="497.80" y1="278.75" x2="501.30" y2="278.75" stroke="#a8a8a8" stroke-width="0.6"/>
<text x="496.50" y="281.85" font-size="8.60" fill="#111" text-anchor="end">100</text>
<line x1="497.80" y1="303.77" x2="501.30" y2="303.77" stroke="#a8a8a8" stroke-width="0.6"/>
<text x="496.50" y="306.88" font-size="8.60" fill="#111" text-anchor="end">50</text>
<line x1="497.80" y1="328.80" x2="501.30" y2="328.80" stroke="#a8a8a8" stroke-width="0.6"/>
<text x="496.50" y="331.90" font-size="8.60" fill="#111" text-anchor="end">0</text>
<line x1="520.00" y1="328.80" x2="520.00" y2="332.30" stroke="#a8a8a8" stroke-width="0.6"/>
<line x1="549.00" y1="328.80" x2="549.00" y2="332.30" stroke="#a8a8a8" stroke-width="0.6"/>
<text transform="translate(475.50,308.50) rotate(-90)" font-size="9.25" fill="#111">Time spent (s)</text>
<line x1="549.00" y1="289.00" x2="549.00" y2="292.50" stroke="#222" stroke-width="0.6"/>
<line x1="545.00" y1="289.00" x2="553.00" y2="289.00" stroke="#222" stroke-width="0.6"/>
<line x1="520.00" y1="254.40" x2="549.00" y2="290.30" stroke="#222" stroke-width="0.45"/>
<line x1="520.00" y1="257.60" x2="549.00" y2="289.60" stroke="#222" stroke-width="0.45"/>
<line x1="520.00" y1="260.20" x2="549.00" y2="297.50" stroke="#222" stroke-width="0.45"/>
<line x1="520.00" y1="262.50" x2="549.00" y2="293.00" stroke="#222" stroke-width="0.45"/>
<line x1="520.00" y1="266.10" x2="549.00" y2="307.20" stroke="#222" stroke-width="0.45"/>
<line x1="520.00" y1="273.30" x2="549.00" y2="281.80" stroke="#222" stroke-width="0.45"/>
<line x1="520.00" y1="278.50" x2="549.00" y2="282.50" stroke="#222" stroke-width="0.45"/>
<circle cx="520.00" cy="254.40" r="0.95" fill="#111" stroke="#111" stroke-width="0.4"/>
<circle cx="520.00" cy="257.60" r="0.95" fill="#111" stroke="#111" stroke-width="0.4"/>
<circle cx="520.00" cy="260.20" r="0.95" fill="#fff" stroke="#777" stroke-width="0.4"/>
<circle cx="520.00" cy="262.50" r="0.95" fill="#111" stroke="#111" stroke-width="0.4"/>
<circle cx="520.00" cy="266.10" r="0.95" fill="#111" stroke="#111" stroke-width="0.4"/>
<circle cx="520.00" cy="273.30" r="0.95" fill="#fff" stroke="#777" stroke-width="0.4"/>
<circle cx="520.00" cy="278.50" r="0.95" fill="#fff" stroke="#777" stroke-width="0.4"/>
<circle cx="549.00" cy="290.30" r="0.95" fill="#111" stroke="#111" stroke-width="0.4"/>
<circle cx="549.00" cy="289.60" r="0.95" fill="#111" stroke="#111" stroke-width="0.4"/>
<circle cx="549.00" cy="297.50" r="0.95" fill="#fff" stroke="#777" stroke-width="0.4"/>
<circle cx="549.00" cy="293.00" r="0.95" fill="#111" stroke="#111" stroke-width="0.4"/>
<circle cx="549.00" cy="307.20" r="0.95" fill="#111" stroke="#111" stroke-width="0.4"/>
<circle cx="549.00" cy="281.80" r="0.95" fill="#fff" stroke="#777" stroke-width="0.4"/>
<circle cx="549.00" cy="282.50" r="0.95" fill="#fff" stroke="#777" stroke-width="0.4"/>
<text x="521.00" y="326.20" font-size="9.00" fill="#111" text-anchor="middle">7</text>
<text x="549.60" y="326.20" font-size="9.00" fill="#111" text-anchor="middle">7</text>
<line x1="524.00" y1="243.30" x2="552.80" y2="243.30" stroke="#333" stroke-width="0.6"/>
<text x="537.40" y="238.80" font-size="9.00" fill="#111" text-anchor="middle">**</text>
<text x="506.50" y="341.50" font-size="8.60" fill="#111">social</text>
<text x="536.50" y="341.50" font-size="9.37" fill="#111">object</text>
<text x="582.20" y="199.50" font-size="9.00" fill="#111" text-anchor="start">j</text>
<rect x="607.40" y="201.40" width="70.40" height="15.40" fill="#ead6ec" stroke="none" stroke-width="0.6"/>
<text x="616.00" y="212.50" font-size="9.45" fill="#111">24 h isolated</text>
<rect x="626.50" y="269.40" width="19.00" height="59.80" fill="#c9ddf7" stroke="#333" stroke-width="0.6"/>
<rect x="655.30" y="300.00" width="18.50" height="29.20" fill="#fde0c2" stroke="#333" stroke-width="0.6"/>
<line x1="616.30" y1="229.20" x2="616.30" y2="329.20" stroke="#a8a8a8" stroke-width="0.6"/>
<line x1="616.00" y1="329.20" x2="679.00" y2="329.20" stroke="#a8a8a8" stroke-width="0.6"/>
<line x1="612.80" y1="229.20" x2="616.30" y2="229.20" stroke="#a8a8a8" stroke-width="0.6"/>
<text x="612.50" y="232.30" font-size="8.60" fill="#111" text-anchor="end">200</text>
<line x1="612.80" y1="254.20" x2="616.30" y2="254.20" stroke="#a8a8a8" stroke-width="0.6"/>
<text x="612.50" y="257.30" font-size="8.60" fill="#111" text-anchor="end">150</text>
<line x1="612.80" y1="279.20" x2="616.30" y2="279.20" stroke="#a8a8a8" stroke-width="0.6"/>
<text x="612.50" y="282.30" font-size="8.60" fill="#111" text-anchor="end">100</text>
<line x1="612.80" y1="304.20" x2="616.30" y2="304.20" stroke="#a8a8a8" stroke-width="0.6"/>
<text x="612.50" y="307.30" font-size="8.60" fill="#111" text-anchor="end">50</text>
<line x1="612.80" y1="329.20" x2="616.30" y2="329.20" stroke="#a8a8a8" stroke-width="0.6"/>
<text x="612.50" y="332.30" font-size="8.60" fill="#111" text-anchor="end">0</text>
<line x1="636.00" y1="329.20" x2="636.00" y2="332.70" stroke="#a8a8a8" stroke-width="0.6"/>
<line x1="664.55" y1="329.20" x2="664.55" y2="332.70" stroke="#a8a8a8" stroke-width="0.6"/>
<text transform="translate(591.50,291.00) rotate(-90)" font-size="9.25" fill="#111">Time spent (s)</text>
<line x1="664.55" y1="297.20" x2="664.55" y2="300.00" stroke="#222" stroke-width="0.6"/>
<line x1="660.55" y1="297.20" x2="668.55" y2="297.20" stroke="#222" stroke-width="0.6"/>
<line x1="636.00" y1="245.50" x2="664.55" y2="298.80" stroke="#222" stroke-width="0.45"/>
<line x1="636.00" y1="256.00" x2="664.55" y2="295.50" stroke="#222" stroke-width="0.45"/>
<line x1="636.00" y1="267.80" x2="664.55" y2="303.00" stroke="#222" stroke-width="0.45"/>
<line x1="636.00" y1="274.60" x2="664.55" y2="289.90" stroke="#222" stroke-width="0.45"/>
<line x1="636.00" y1="277.20" x2="664.55" y2="308.00" stroke="#222" stroke-width="0.45"/>
<line x1="636.00" y1="281.40" x2="664.55" y2="306.00" stroke="#222" stroke-width="0.45"/>
<line x1="636.00" y1="280.00" x2="664.55" y2="301.00" stroke="#222" stroke-width="0.45"/>
<circle cx="636.00" cy="245.50" r="0.95" fill="#111" stroke="#111" stroke-width="0.4"/>
<circle cx="636.00" cy="256.00" r="0.95" fill="#fff" stroke="#777" stroke-width="0.4"/>
<circle cx="636.00" cy="267.80" r="0.95" fill="#111" stroke="#111" stroke-width="0.4"/>
<circle cx="636.00" cy="274.60" r="0.95" fill="#fff" stroke="#777" stroke-width="0.4"/>
<circle cx="636.00" cy="277.20" r="0.95" fill="#111" stroke="#111" stroke-width="0.4"/>
<circle cx="636.00" cy="281.40" r="0.95" fill="#fff" stroke="#777" stroke-width="0.4"/>
<circle cx="636.00" cy="280.00" r="0.95" fill="#fff" stroke="#777" stroke-width="0.4"/>
<circle cx="664.55" cy="298.80" r="0.95" fill="#111" stroke="#111" stroke-width="0.4"/>
<circle cx="664.55" cy="295.50" r="0.95" fill="#fff" stroke="#777" stroke-width="0.4"/>
<circle cx="664.55" cy="303.00" r="0.95" fill="#111" stroke="#111" stroke-width="0.4"/>
<circle cx="664.55" cy="289.90" r="0.95" fill="#fff" stroke="#777" stroke-width="0.4"/>
<circle cx="664.55" cy="308.00" r="0.95" fill="#111" stroke="#111" stroke-width="0.4"/>
<circle cx="664.55" cy="306.00" r="0.95" fill="#fff" stroke="#777" stroke-width="0.4"/>
<circle cx="664.55" cy="301.00" r="0.95" fill="#111" stroke="#111" stroke-width="0.4"/>
<text x="637.00" y="326.60" font-size="9.00" fill="#111" text-anchor="middle">7</text>
<text x="665.15" y="326.60" font-size="9.00" fill="#111" text-anchor="middle">7</text>
<line x1="635.30" y1="239.10" x2="664.00" y2="239.10" stroke="#333" stroke-width="0.6"/>
<text x="648.65" y="234.60" font-size="9.00" fill="#111" text-anchor="middle">**</text>
<text x="623.75" y="341.50" font-size="8.51" fill="#111">social</text>
<text x="653.50" y="341.50" font-size="9.18" fill="#111">object</text>
<text x="2.00" y="353.60" font-size="9.00" fill="#111" text-anchor="start">k</text>
<text x="5.00" y="365.30" font-size="9.20" fill="#111">photometry</text>
<text x="72.00" y="362.30" font-size="9.12" fill="#111" font-weight="bold">GFP control</text>
<rect x="2.00" y="368.30" width="219.80" height="123.20" fill="none" stroke="#555" stroke-width="0.6" stroke-dasharray="0.8 0.8"/>
<polyline points="10.0,396.2 10.4,401.5 10.9,406.8 11.3,405.9 11.8,404.6 12.2,402.4 12.7,410.6 13.1,414.6 13.6,423.1 14.0,417.1 14.5,421.4 14.9,420.0 15.4,417.5 15.8,425.5 16.3,413.5 16.7,406.8 17.2,406.2 17.6,410.8 18.1,415.7 18.5,419.3 19.0,415.6 19.4,421.1 19.9,424.1 20.3,423.8 20.8,429.7 21.2,420.6 21.7,420.1 22.1,423.0 22.6,419.7 23.0,415.1 23.5,416.3 23.9,411.2 24.4,417.8 24.8,416.9 25.3,416.1 25.7,413.0 26.2,415.2 26.6,412.9 27.1,400.9 27.5,408.7 28.0,413.9 28.4,418.6 28.9,416.3 29.3,400.6 29.8,408.7 30.2,414.2 30.7,411.8 31.1,410.5 31.6,414.7 32.0,404.6 32.5,410.2 32.9,411.3 33.4,403.2 33.8,409.4 34.3,406.4 34.7,407.3 35.2,406.3 35.6,403.4 36.1,409.5 36.5,418.7 37.0,419.4 37.5,414.3 37.9,420.7 38.4,416.7 38.8,422.8 39.3,416.3 39.7,421.7 40.2,413.3 40.6,410.4 41.1,414.2 41.5,418.8 42.0,408.1 42.4,413.9 42.9,410.9 43.3,410.2 43.8,422.2 44.2,415.1 44.7,412.2 45.1,409.1 45.6,411.1 46.0,407.6 46.5,404.1 46.9,401.8 47.4,396.4 47.8,400.2 48.3,402.9 48.7,405.6 49.2,409.3 49.6,402.5 50.1,411.3 50.5,404.9 51.0,401.3 51.4,406.4 51.9,403.1 52.3,398.0 52.8,402.8 53.2,410.9 53.7,408.9 54.1,407.2 54.6,397.4 55.0,400.4 55.5,397.6 55.9,395.3 56.4,397.4 56.8,397.9 57.3,403.1 57.7,402.6 58.2,395.8 58.6,398.6 59.1,394.2 59.5,397.7 60.0,390.7 60.4,390.4 60.9,389.9 61.3,388.4 61.8,393.2 62.2,392.4 62.7,393.9 63.1,398.4 63.6,395.0 64.0,387.4 64.5,395.0 64.9,398.2 65.4,389.8 65.8,396.8 66.3,398.8 66.7,403.0 67.2,393.4 67.6,398.7 68.1,400.9 68.5,399.2 69.0,397.7 69.4,397.4 69.9,402.3 70.3,401.5 70.8,408.0 71.2,406.5 71.7,417.4 72.1,408.8 72.6,401.1 73.0,404.0 73.5,412.7 73.9,413.2 74.4,413.2 74.8,412.2 75.3,411.0 75.7,407.5 76.2,402.8 76.6,402.7 77.1,396.4 77.5,400.0 78.0,400.9 78.4,408.1 78.9,401.1 79.3,405.3 79.8,409.6 80.2,413.1 80.7,413.1 81.1,416.7 81.6,419.4 82.0,415.6 82.5,420.2 82.9,415.3 83.4,416.1 83.8,415.7 84.3,427.1 84.7,426.2 85.2,423.2 85.6,422.8 86.1,413.1 86.5,407.1 87.0,420.9 87.4,409.8 87.9,409.5 88.3,408.0 88.8,411.5 89.2,417.3 89.7,410.6 90.1,413.0 90.6,408.2 91.0,411.5 91.5,413.4 91.9,415.0 92.4,413.3 92.8,404.2 93.3,408.3 93.7,413.8 94.2,414.4 94.6,418.5 95.1,417.0 95.5,416.5 96.0,416.9 96.4,414.9 96.9,417.8 97.3,415.0 97.8,419.4 98.2,413.5 98.7,414.5 99.1,417.4 99.6,412.7 100.0,420.2 100.5,422.7 100.9,420.8 101.4,419.8 101.8,418.8 102.3,424.9 102.7,430.3 103.2,430.3 103.6,433.1 104.1,436.6 104.5,431.9 105.0,434.8 105.4,439.6 105.9,437.2 106.3,448.4 106.8,443.7 107.2,446.8 107.7,453.1 108.1,452.7 108.6,449.4 109.0,437.9 109.5,444.1 109.9,451.1 110.4,451.6 110.8,451.5 111.3,448.7 111.7,441.8 112.2,447.3 112.6,445.2 113.1,443.8 113.5,448.8 114.0,443.0 114.4,432.8 114.9,438.8 115.3,437.1 115.8,429.6 116.2,431.0 116.7,435.3 117.1,443.5 117.6,436.9 118.0,437.5 118.5,436.9 118.9,431.1 119.4,417.4 119.8,414.4 120.3,421.1 120.7,417.5 121.2,412.1 121.6,415.2 122.1,423.7 122.5,424.7 123.0,419.6 123.4,412.5 123.9,414.0 124.3,408.7 124.8,410.0 125.2,408.5 125.7,417.8 126.1,415.8 126.6,413.0 127.0,410.1 127.5,407.3 127.9,411.1 128.4,410.6 128.8,402.8 129.3,396.5 129.7,408.8 130.2,403.8 130.6,401.9 131.1,406.9 131.5,404.9 132.0,400.6 132.4,397.2 132.9,398.8 133.3,401.7 133.8,399.5 134.2,397.4 134.7,388.9 135.1,403.1 135.6,404.7 136.0,400.9 136.5,405.3 136.9,417.4 137.4,412.1 137.8,417.2 138.3,420.7 138.7,416.6 139.2,416.4 139.6,409.3 140.1,417.2 140.5,425.4 141.0,422.8 141.4,433.0 141.9,440.9 142.3,438.8 142.8,441.0 143.2,440.1 143.7,440.2 144.1,435.1 144.6,439.9 145.0,446.9 145.5,441.4 145.9,433.5 146.4,432.6 146.8,435.4 147.3,439.7 147.7,440.5 148.2,433.1 148.6,431.9 149.1,444.2 149.5,436.8 150.0,431.7 150.4,434.2 150.8,434.4 151.3,430.2 151.7,420.9 152.2,418.0 152.6,430.3 153.1,430.7 153.5,429.8 154.0,426.7 154.4,430.4 154.9,429.1 155.3,429.0 155.8,429.4 156.2,419.0 156.7,420.2 157.1,422.5 157.6,420.2 158.0,420.0 158.5,416.8 158.9,422.7 159.4,425.9 159.8,424.9 160.3,425.5 160.7,414.8 161.2,421.8 161.6,426.5 162.1,427.8 162.5,430.4 163.0,424.9 163.4,429.0 163.9,432.9 164.3,430.2 164.8,425.0 165.2,435.2 165.7,431.4 166.1,433.5 166.6,426.8 167.0,429.5 167.5,432.7 167.9,430.8 168.4,431.4 168.8,439.6 169.3,435.0 169.7,426.8 170.2,432.7 170.6,435.0 171.1,437.5 171.5,434.8 172.0,423.7 172.4,423.2 172.9,420.9 173.3,421.8 173.8,416.0 174.2,417.3 174.7,422.1 175.1,421.5 175.6,424.3 176.0,424.3 176.5,424.6 176.9,425.4 177.4,425.3 177.8,429.5 178.3,427.5 178.7,430.3 179.2,434.8 179.6,431.5 180.1,432.5 180.5,432.9 181.0,440.8 181.4,435.2 181.9,432.5 182.3,434.6 182.8,431.0 183.2,431.4 183.7,436.6 184.1,435.0 184.6,424.4 185.0,430.9 185.5,427.9 185.9,423.2 186.4,417.8 186.8,419.0 187.3,414.6 187.7,416.5 188.2,417.2 188.6,417.1 189.1,423.1 189.5,409.4 190.0,413.8 190.4,414.7 190.9,415.5 191.3,407.1 191.8,406.8 192.2,407.6 192.7,409.6 193.1,408.9 193.6,407.4 194.0,403.4 194.5,407.2 194.9,406.0 195.4,415.0 195.8,412.6 196.3,421.4 196.7,414.4 197.2,407.7 197.6,406.5 198.1,408.6 198.5,406.5 199.0,411.3 199.4,404.9 199.9,403.7 200.3,410.5 200.8,412.3 201.2,411.9 201.7,402.4 202.1,413.9 202.6,415.7 203.0,412.7 203.5,424.9 203.9,429.7 204.4,423.2 204.8,414.3 205.3,425.8 205.7,437.2 206.2,432.8 206.6,432.0 207.1,423.2 207.5,423.4 208.0,424.4 208.4,420.4 208.9,427.8 209.3,419.5 209.8,422.8 210.2,415.4 210.7,415.1" fill="none" stroke="#a020a0" stroke-width="0.7" stroke-linejoin="round"/>
<polyline points="10.0,398.2 10.4,406.2 10.8,398.7 11.2,405.2 11.6,401.9 12.0,400.9 12.4,416.1 12.8,409.1 13.2,404.1 13.6,415.5 14.0,413.6 14.4,414.0 14.8,411.9 15.2,422.5 15.6,420.5 16.0,418.9 16.4,421.4 16.8,419.6 17.2,419.5 17.6,417.3 18.0,411.6 18.4,426.1 18.8,431.7 19.2,428.7 19.6,422.7 20.0,423.2 20.4,424.4 20.8,425.8 21.2,435.0 21.6,432.6 22.0,419.4 22.4,419.0 22.8,431.3 23.2,432.8 23.6,424.9 24.0,420.1 24.4,417.4 24.8,415.1 25.2,411.7 25.6,418.4 26.0,420.7 26.4,420.1 26.8,417.9 27.2,419.0 27.6,415.9 28.0,421.9 28.4,409.9 28.8,406.4 29.2,408.1 29.6,411.1 30.0,411.9 30.4,420.3 30.8,408.7 31.2,406.7 31.6,412.6 32.0,411.7 32.4,405.9 32.8,404.8 33.2,412.2 33.6,408.5 34.0,394.2 34.4,402.5 34.8,403.6 35.2,397.8 35.6,405.4 36.0,411.3 36.4,415.4 36.8,415.9 37.2,425.1 37.6,415.2 38.0,423.2 38.4,417.6 38.8,423.2 39.2,415.9 39.6,411.0 40.0,413.5 40.4,415.8 40.8,416.6 41.2,425.3 41.6,413.8 42.0,411.9 42.4,412.2 42.8,418.4 43.2,420.4 43.6,423.7 44.0,419.9 44.4,424.2 44.8,429.4 45.2,422.3 45.6,411.9 46.0,401.5 46.4,412.0 46.8,403.2 47.2,413.1 47.6,413.2 48.0,407.4 48.4,407.8 48.8,412.9 49.2,403.8 49.6,416.5 50.0,410.8 50.4,411.7 50.8,402.0 51.2,416.6 51.6,410.7 52.0,404.2 52.4,415.0 52.8,408.6 53.2,410.6 53.6,418.1 54.0,414.3 54.4,410.4 54.8,414.3 55.2,405.6 55.6,410.1 56.0,397.3 56.4,405.3 56.8,398.2 57.2,400.0 57.6,399.2 58.0,388.4 58.4,396.5 58.8,401.2 59.2,399.1 59.6,401.2 60.0,397.2 60.4,401.5 60.8,400.4 61.2,396.1 61.6,404.9 62.0,393.0 62.4,396.1 62.8,402.0 63.2,390.2 63.6,379.0 64.0,391.8 64.4,390.9 64.8,388.5 65.2,391.1 65.6,387.5 66.0,401.0 66.4,395.3 66.8,405.5 67.2,402.5 67.6,410.3 68.0,403.7 68.4,406.7 68.8,413.2 69.2,421.0 69.6,414.2 70.0,412.2 70.4,402.8 70.8,415.3 71.2,415.4 71.6,417.4 72.0,416.8 72.4,426.0 72.8,415.5 73.2,417.4 73.6,413.8 74.0,420.1 74.4,416.8 74.8,408.2 75.2,412.5 75.6,406.2 76.0,404.0 76.4,417.7 76.8,413.5 77.2,399.2 77.6,404.1 78.0,409.7 78.4,421.5 78.8,409.9 79.2,415.7 79.6,425.1 80.0,417.3 80.4,418.9 80.8,415.4 81.2,418.0 81.6,417.4 82.0,423.3 82.4,418.2 82.8,410.9 83.2,439.3 83.6,427.7 84.0,426.2 84.4,431.1 84.8,418.1 85.2,435.9 85.6,424.7 86.0,423.6 86.4,420.9 86.8,415.2 87.2,418.3 87.6,418.6 88.0,415.0 88.4,403.3 88.8,417.5 89.2,423.2 89.6,420.4 90.0,421.2 90.4,411.7 90.8,407.1 91.2,416.1 91.6,404.9 92.0,419.0 92.4,416.9 92.8,405.5 93.2,417.8 93.6,423.4 94.0,417.8 94.4,415.1 94.8,414.5 95.2,419.9 95.6,424.1 96.0,422.7 96.4,424.0 96.8,421.0 97.2,418.0 97.6,428.6 98.0,429.8 98.4,420.6 98.8,409.1 99.2,411.7 99.6,428.8 100.0,428.0 100.4,438.1 100.8,426.5 101.2,420.1 101.6,429.0 102.0,427.1 102.4,437.9 102.8,443.4 103.2,431.5 103.6,432.6 104.0,435.6 104.4,452.4 104.8,446.1 105.2,426.9 105.6,441.1 106.0,452.7 106.4,444.5 106.8,452.6 107.2,441.6 107.6,454.4 108.0,452.4 108.4,443.4 108.8,443.7 109.2,452.7 109.6,440.6 110.0,459.4 110.4,463.2 110.8,453.0 111.2,456.8 111.6,446.4 112.0,445.3 112.4,448.6 112.8,462.8 113.2,452.6 113.6,446.6 114.0,441.3 114.4,434.4 114.8,441.7 115.2,443.1 115.6,436.3 116.0,438.1 116.4,428.5 116.8,438.2 117.2,426.8 117.6,435.2 118.0,438.9 118.4,441.2 118.8,431.7 119.2,416.2 119.6,416.6 120.0,418.4 120.4,414.5 120.8,423.6 121.2,423.1 121.6,421.6 122.0,414.4 122.4,413.8 122.8,412.9 123.2,428.6 123.6,415.0 124.0,428.4 124.4,409.0 124.8,406.9 125.2,400.8 125.6,406.0 126.0,421.3 126.4,413.7 126.8,410.0 127.2,405.5 127.6,407.4 128.0,415.9 128.4,414.5 128.8,414.8 129.2,410.9 129.6,407.4 130.0,406.8 130.4,397.2 130.8,409.1 131.2,410.9 131.6,399.1 132.0,408.3 132.4,402.3 132.8,409.4 133.2,403.7 133.6,406.4 134.0,415.9 134.4,409.2 134.8,411.6 135.2,396.0 135.6,394.8 136.0,403.7 136.4,406.0 136.8,412.8 137.2,412.0 137.6,418.4 138.0,418.4 138.4,434.1 138.8,431.9 139.2,435.2 139.6,431.8 140.0,425.7 140.4,426.5 140.8,432.0 141.2,423.2 141.6,431.5 142.0,424.1 142.4,442.7 142.8,448.9 143.2,442.5 143.6,432.7 144.0,451.6 144.4,457.8 144.8,455.5 145.2,454.8 145.6,454.6 146.0,442.8 146.4,432.8 146.8,444.6 147.2,438.6 147.6,444.6 148.0,433.5 148.4,442.9 148.8,438.5 149.2,436.5 149.6,434.7 150.0,434.8 150.4,431.0 150.8,437.6 151.2,437.6 151.6,423.6 152.0,423.9 152.4,419.3 152.8,434.6 153.2,428.2 153.6,429.0 154.0,428.5 154.4,430.9 154.8,427.6 155.2,425.5 155.6,425.6 156.0,415.8 156.4,422.4 156.8,420.7 157.2,440.2 157.6,431.0 158.0,423.2 158.4,421.8 158.8,423.5 159.2,431.0 159.6,428.1 160.0,432.0 160.4,436.7 160.8,428.7 161.2,430.3 161.6,428.4 162.0,435.1 162.4,434.9 162.8,438.7 163.2,432.8 163.6,434.3 164.0,421.6 164.4,426.1 164.8,438.4 165.2,430.5 165.6,443.8 166.0,433.7 166.4,435.4 166.8,430.1 167.2,438.9 167.6,437.9 168.0,441.0 168.4,434.2 168.8,435.9 169.2,429.4 169.6,434.4 170.0,445.0 170.4,437.6 170.8,443.8 171.2,440.4 171.6,432.0 172.0,426.6 172.4,426.7 172.8,427.1 173.2,428.3 173.6,441.7 174.0,429.4 174.4,426.9 174.8,431.6 175.2,426.8 175.6,429.6 176.0,437.1 176.4,444.8 176.8,427.1 177.2,431.0 177.6,429.3 178.0,424.7 178.4,434.9 178.8,432.9 179.2,435.1 179.6,427.6 180.0,434.2 180.4,436.1 180.8,427.1 181.2,441.8 181.6,430.3 182.0,426.3 182.4,432.4 182.8,427.6 183.2,446.9 183.6,433.0 184.0,431.7 184.4,438.2 184.8,436.4 185.2,431.0 185.6,430.2 186.0,427.0 186.4,429.0 186.8,434.8 187.2,428.7 187.6,425.2 188.0,415.5 188.4,417.5 188.8,409.8 189.2,403.7 189.6,410.2 190.0,424.5 190.4,412.5 190.8,415.8 191.2,415.1 191.6,430.9 192.0,413.1 192.4,411.2 192.8,427.2 193.2,421.0 193.6,411.6 194.0,428.1 194.4,404.5 194.8,414.9 195.2,426.4 195.6,422.0 196.0,415.1 196.4,406.8 196.8,424.9 197.2,420.9 197.6,425.9 198.0,411.3 198.4,412.4 198.8,409.6 199.2,411.1 199.6,414.8 200.0,407.9 200.4,423.0 200.8,420.5 201.2,407.7 201.6,409.2 202.0,416.2 202.4,416.3 202.8,429.9 203.2,427.5 203.6,417.2 204.0,415.5 204.4,433.8 204.8,434.5 205.2,431.1 205.6,433.8 206.0,424.3 206.4,421.9 206.8,425.1 207.2,426.9 207.6,433.7 208.0,422.2 208.4,424.0 208.8,427.3 209.2,434.1 209.6,428.4 210.0,426.8 210.4,424.4 210.8,411.6" fill="none" stroke="#4aa810" stroke-width="0.65" stroke-linejoin="round"/>
<path d="M13.5,464.5 L13.5,477.5 L46.3,477.5" fill="none" stroke="#2a2a2a" stroke-width="1"/>
<text transform="translate(10.50,480.75) rotate(-90)" font-size="9.08" fill="#111">20 mV</text>
<text x="14.50" y="487.50" font-size="8.62" fill="#111">10 s</text>
<line x1="137.00" y1="465.00" x2="150.80" y2="465.00" stroke="#a020a0" stroke-width="0.9"/>
<line x1="137.00" y1="477.80" x2="150.80" y2="477.80" stroke="#4aa810" stroke-width="0.9"/>
<text x="155.50" y="468.30" font-size="9.17" fill="#111">fitted 405 nm</text>
<text x="155.50" y="481.80" font-size="9.17" fill="#111">fitted 470 nm</text>
<text x="224.30" y="353.50" font-size="9.00" fill="#111" text-anchor="start">l</text>
<text x="229.80" y="365.30" font-size="9.24" fill="#111">photometry</text>
<text x="298.00" y="362.30" font-size="9.20" fill="#111" font-weight="bold">GCaMP8f group-housed</text>
<rect x="226.50" y="368.30" width="228.50" height="123.20" fill="none" stroke="#555" stroke-width="0.6" stroke-dasharray="0.8 0.8"/>
<polyline points="247.3,410.1 247.7,415.9 248.1,413.6 248.4,425.3 248.8,423.7 249.2,420.4 249.6,430.4 250.0,435.3 250.3,408.0 250.7,430.7 251.1,414.3 251.5,433.6 251.9,424.2 252.2,421.8 252.6,426.8 253.0,439.2 253.4,440.5 253.8,440.7 254.1,437.7 254.5,428.5 254.9,427.5 255.3,412.0 255.7,421.3 256.0,420.6 256.4,425.5 256.8,407.2 257.2,403.1 257.6,410.7 257.9,414.2 258.3,413.7 258.7,406.5 259.1,413.7 259.5,417.9 259.8,427.3 260.2,423.1 260.6,424.4 261.0,416.1 261.4,417.7 261.7,423.6 262.1,421.0 262.5,433.6 262.9,416.7 263.3,405.5 263.6,407.9 264.0,408.2 264.4,408.2 264.8,399.1 265.2,401.7 265.5,409.2 265.9,406.6 266.3,401.6 266.7,392.3 267.1,392.3 267.4,392.3 267.8,395.3 268.2,393.5 268.6,393.4 269.0,392.4 269.3,396.4 269.7,399.1 270.1,401.0 270.5,419.5 270.9,414.3 271.2,406.3 271.6,416.8 272.0,413.2 272.4,425.1 272.8,427.3 273.1,423.3 273.5,426.1 273.9,414.3 274.3,422.6 274.7,414.9 275.0,427.3 275.4,434.3 275.8,425.3 276.2,431.0 276.6,435.6 276.9,430.9 277.3,420.6 277.7,434.3 278.1,433.6 278.5,428.8 278.8,440.0 279.2,430.7 279.6,430.9 280.0,437.1 280.4,438.9 280.7,434.6 281.1,440.8 281.5,443.4 281.9,440.6 282.3,436.5 282.6,437.8 283.0,437.0 283.4,444.3 283.8,439.9 284.2,435.9 284.5,429.9 284.9,426.1 285.3,417.0 285.7,412.4 286.1,415.7 286.4,423.1 286.8,410.9 287.2,419.4 287.6,418.8 288.0,420.5 288.3,421.3 288.7,421.0 289.1,411.9 289.5,425.9 289.9,426.1 290.2,429.6 290.6,418.5 291.0,421.5 291.4,426.1 291.8,422.2 292.1,419.9 292.5,420.2 292.9,415.7 293.3,421.9 293.7,423.6 294.0,425.4 294.4,420.2 294.8,415.3 295.2,412.7 295.6,416.2 295.9,409.5 296.3,411.2 296.7,408.0 297.1,408.3 297.5,414.5 297.8,407.2 298.2,398.4 298.6,416.3 299.0,419.6 299.4,410.5 299.7,416.5 300.1,418.9 300.5,432.8 300.9,427.2 301.3,419.3 301.6,424.5 302.0,425.5 302.4,423.7 302.8,425.5 303.2,424.9 303.5,425.4 303.9,425.8 304.3,419.4 304.7,421.8 305.1,411.2 305.4,409.7 305.8,404.1 306.2,416.0 306.6,423.9 307.0,426.2 307.3,412.3 307.7,404.2 308.1,417.6 308.5,404.5 308.9,413.6 309.2,425.0 309.6,431.7 310.0,409.4 310.4,425.9 310.8,412.8 311.1,420.7 311.5,416.2 311.9,419.8 312.3,408.1 312.7,400.0 313.0,400.4 313.4,402.4 313.8,399.8 314.2,399.8 314.6,403.3 314.9,405.2 315.3,407.1 315.7,409.0 316.1,411.8 316.5,394.4 316.8,392.5 317.2,390.6 317.6,388.7 318.0,386.0 318.4,386.1 318.7,389.4 319.1,390.8 319.5,393.2 319.9,395.1 320.3,407.9 320.6,413.0 321.0,406.5 321.4,400.8 321.8,406.3 322.2,400.2 322.5,398.3 322.9,395.7 323.3,390.8 323.7,390.8 324.1,390.8 324.4,390.8 324.8,395.1 325.2,397.0 325.6,398.9 326.0,400.8 326.3,425.2 326.7,426.4 327.1,417.6 327.5,420.4 327.9,425.2 328.2,426.3 328.6,436.4 329.0,442.6 329.4,436.3 329.8,437.6 330.1,441.1 330.5,436.7 330.9,440.5 331.3,448.0 331.7,433.3 332.0,427.5 332.4,428.8 332.8,424.6 333.2,424.2 333.6,431.2 333.9,427.5 334.3,422.4 334.7,428.3 335.1,414.0 335.5,423.0 335.8,428.0 336.2,433.1 336.6,433.6 337.0,425.6 337.4,426.5 337.7,438.8 338.1,428.8 338.5,442.7 338.9,431.7 339.3,431.2 339.6,433.5 340.0,443.6 340.4,443.4 340.8,425.8 341.2,422.6 341.5,416.9 341.9,417.0 342.3,399.1 342.7,411.1 343.1,410.0 343.4,424.7 343.8,426.3 344.2,425.1 344.6,414.0 345.0,410.4 345.3,400.9 345.7,416.6 346.1,418.2 346.5,435.8 346.9,425.3 347.2,430.3 347.6,422.4 348.0,412.2 348.4,427.7 348.8,433.0 349.1,426.6 349.5,437.7 349.9,430.7 350.3,426.5 350.7,411.3 351.0,412.5 351.4,424.1 351.8,418.5 352.2,425.6 352.6,406.3 352.9,420.6 353.3,402.3 353.7,402.3 354.1,402.3 354.5,402.6 354.8,402.3 355.2,402.3 355.6,402.3 356.0,402.6 356.4,404.3 356.7,403.7 357.1,402.3 357.5,410.0 357.9,411.9 358.3,423.5 358.6,420.2 359.0,422.3 359.4,406.8 359.8,417.5 360.2,422.6 360.5,422.8 360.9,423.1 361.3,411.9 361.7,412.0 362.1,412.4 362.4,416.0 362.8,409.8 363.2,423.3 363.6,415.6 364.0,428.9 364.3,406.0 364.7,421.6 365.1,410.0 365.5,400.3 365.9,421.2 366.2,418.3 366.6,419.0 367.0,404.3 367.4,416.3 367.8,408.4 368.1,405.7 368.5,404.3 368.9,421.6 369.3,404.7 369.7,395.2 370.0,401.3 370.4,393.8 370.8,403.3 371.2,391.0 371.6,394.8 371.9,389.4 372.3,384.5 372.7,395.7 373.1,385.0 373.5,385.5 373.8,384.8 374.2,377.9 374.6,377.8 375.0,377.8 375.4,378.8 375.7,380.7 376.1,382.6 376.5,384.5 376.9,386.4 377.3,387.4 377.6,394.2 378.0,402.6 378.4,402.1 378.8,397.1 379.2,393.6 379.5,383.7 379.9,394.1 380.3,398.5 380.7,410.8 381.1,411.9 381.4,432.2 381.8,405.3 382.2,419.5 382.6,414.7 383.0,406.1 383.3,413.7 383.7,412.2 384.1,425.2 384.5,419.6 384.9,428.5 385.2,434.4 385.6,421.7 386.0,420.8 386.4,429.9 386.8,423.3 387.1,431.5 387.5,441.8 387.9,438.8 388.3,408.1 388.7,405.8 389.0,428.4 389.4,426.1 389.8,430.9 390.2,435.2 390.6,421.9 390.9,420.1 391.3,414.9 391.7,429.3 392.1,426.1 392.5,423.4 392.8,431.8 393.2,422.4 393.6,433.0 394.0,441.2 394.4,443.1 394.7,443.0 395.1,435.4 395.5,433.5 395.9,433.8 396.3,432.8 396.6,421.3 397.0,429.6 397.4,411.5 397.8,411.2 398.2,417.1 398.5,420.3 398.9,416.6 399.3,408.0 399.7,421.6 400.1,409.8 400.4,407.9 400.8,406.9 401.2,403.3 401.6,389.4 402.0,395.4 402.3,390.8 402.7,393.1 403.1,403.9 403.5,413.1 403.9,412.7 404.2,403.0 404.6,393.1 405.0,400.3 405.4,398.4 405.8,396.5 406.1,394.6 406.5,393.1 406.9,393.1 407.3,395.0 407.7,393.1 408.0,401.4 408.4,412.1 408.8,409.0 409.2,412.3 409.6,411.5 409.9,412.3 410.3,409.9 410.7,431.0 411.1,425.9 411.5,425.7 411.8,416.9 412.2,430.1 412.6,428.5 413.0,431.4 413.4,425.6 413.7,430.4 414.1,439.3 414.5,434.9 414.9,444.4 415.3,429.2 415.6,438.1 416.0,445.2 416.4,451.8 416.8,451.4 417.2,443.3 417.5,441.3 417.9,438.4 418.3,446.9 418.7,445.9 419.1,441.6 419.4,444.1 419.8,424.0 420.2,418.9 420.6,434.9 421.0,429.6 421.3,413.9 421.7,418.7 422.1,418.5 422.5,422.4 422.9,430.3 423.2,432.8 423.6,428.7 424.0,416.4 424.4,427.9 424.8,434.2 425.1,416.2 425.5,416.3 425.9,429.0 426.3,432.3 426.7,425.4 427.0,418.7 427.4,416.8 427.8,416.7 428.2,415.2 428.6,432.9 428.9,431.9 429.3,437.0 429.7,432.0 430.1,427.0 430.5,432.7 430.8,437.1 431.2,445.4 431.6,431.3 432.0,439.3 432.4,447.1 432.7,450.9 433.1,449.6 433.5,443.6 433.9,454.1 434.3,438.3 434.6,437.5 435.0,414.7 435.4,405.3 435.8,416.4 436.2,415.2 436.5,414.8 436.9,413.9 437.3,407.5 437.7,398.9 438.1,405.7 438.4,396.9 438.8,395.6 439.2,389.0 439.6,402.0 440.0,399.5 440.3,409.2 440.7,409.6 441.1,388.5 441.5,418.9 441.9,408.4 442.2,410.1 442.6,402.9 443.0,411.6 443.4,396.3 443.8,402.7 444.1,393.0 444.5,407.9 444.9,389.8 445.3,403.8 445.7,407.9 446.0,406.3 446.4,417.5 446.8,423.2" fill="none" stroke="#4aa810" stroke-width="0.65" stroke-linejoin="round"/>
<polyline points="247.3,425.6 247.8,424.0 248.2,430.1 248.6,428.7 249.1,426.0 249.5,426.0 250.0,423.0 250.4,421.5 250.9,424.9 251.3,422.9 251.8,426.2 252.2,424.0 252.7,418.6 253.1,418.4 253.6,419.7 254.0,418.0 254.5,421.6 254.9,422.4 255.4,426.4 255.8,422.1 256.3,422.8 256.7,425.5 257.2,426.8 257.6,421.8 258.1,428.1 258.5,423.4 259.0,427.6 259.4,424.2 259.9,422.9 260.3,420.0 260.8,422.5 261.2,430.2 261.7,424.3 262.1,428.9 262.6,429.7 263.0,424.7 263.5,427.8 263.9,429.6 264.4,424.9 264.8,422.8 265.3,427.3 265.7,426.3 266.2,430.4 266.6,427.8 267.1,421.8 267.5,423.4 268.0,420.4 268.4,425.5 268.9,426.9 269.3,423.9 269.8,421.5 270.2,426.3 270.7,423.8 271.1,428.0 271.6,422.5 272.0,423.0 272.5,422.4 272.9,420.7 273.4,430.6 273.8,430.6 274.3,424.8 274.7,427.1 275.2,419.8 275.6,427.0 276.1,428.7 276.5,424.8 277.0,423.6 277.4,425.1 277.9,426.2 278.3,424.0 278.8,421.9 279.2,423.0 279.7,422.9 280.1,426.6 280.6,425.6 281.0,425.7 281.5,419.9 281.9,422.1 282.4,422.8 282.8,422.6 283.3,423.8 283.7,423.6 284.2,419.8 284.6,426.2 285.1,428.1 285.5,424.3 286.0,426.6 286.4,422.6 286.9,420.3 287.3,422.9 287.8,429.1 288.2,425.9 288.7,420.5 289.1,424.4 289.6,423.1 290.0,422.2 290.5,425.3 290.9,419.7 291.4,418.9 291.8,418.9 292.3,426.4 292.7,425.8 293.2,423.4 293.6,422.5 294.1,426.4 294.5,429.3 295.0,424.2 295.4,425.7 295.9,431.1 296.3,429.3 296.8,425.4 297.2,426.3 297.7,425.9 298.1,427.4 298.6,427.0 299.0,424.2 299.5,424.5 299.9,426.2 300.4,423.4 300.8,424.9 301.3,422.3 301.7,428.1 302.2,430.9 302.6,424.2 303.1,427.5 303.5,426.4 304.0,425.9 304.4,424.6 304.9,425.8 305.3,428.5 305.8,422.4 306.2,427.5 306.7,425.0 307.1,421.8 307.6,424.0 308.0,426.7 308.5,425.3 308.9,426.1 309.4,424.4 309.8,423.2 310.3,427.6 310.7,423.0 311.2,427.5 311.6,426.8 312.1,424.7 312.5,424.2 313.0,423.9 313.4,424.5 313.9,424.7 314.3,424.4 314.8,418.9 315.2,418.6 315.7,423.5 316.1,422.5 316.6,422.4 317.0,423.6 317.5,421.1 317.9,428.4 318.4,425.9 318.8,424.6 319.3,421.5 319.7,426.4 320.2,427.4 320.6,430.0 321.1,429.0 321.5,423.5 322.0,420.4 322.4,427.5 322.9,423.4 323.3,423.9 323.8,423.9 324.2,425.9 324.7,426.6 325.1,422.0 325.6,421.8 326.0,418.4 326.5,424.3 326.9,423.9 327.4,419.1 327.8,425.9 328.3,424.9 328.7,421.4 329.2,422.2 329.6,421.9 330.1,423.9 330.5,424.7 331.0,422.6 331.4,425.0 331.9,417.9 332.3,420.9 332.8,425.1 333.2,427.3 333.7,427.5 334.1,422.0 334.6,418.3 335.0,421.3 335.5,429.9 335.9,426.6 336.4,422.6 336.8,418.5 337.3,422.8 337.7,422.2 338.2,424.9 338.6,424.8 339.1,417.6 339.5,421.5 340.0,425.5 340.4,422.6 340.9,419.9 341.3,419.1 341.8,418.4 342.2,428.8 342.7,429.5 343.1,423.7 343.6,427.9 344.0,421.8 344.5,421.5 344.9,420.8 345.4,422.3 345.8,425.3 346.3,429.6 346.7,427.9 347.2,424.6 347.6,424.5 348.1,423.2 348.5,424.7 349.0,421.4 349.4,423.8 349.9,425.1 350.3,426.9 350.8,422.2 351.2,424.5 351.7,424.8 352.1,421.6 352.6,417.4 353.0,420.1 353.5,425.2 353.9,423.3 354.4,429.6 354.8,427.4 355.3,422.7 355.7,423.1 356.2,424.9 356.6,425.5 357.1,423.6 357.5,425.1 358.0,429.7 358.4,429.3 358.9,425.9 359.3,423.0 359.8,418.2 360.2,422.7 360.7,422.3 361.1,423.2 361.6,422.0 362.0,425.6 362.5,427.6 362.9,422.9 363.4,419.5 363.8,423.5 364.3,428.0 364.7,426.4 365.2,426.1 365.6,420.5 366.1,421.3 366.5,424.9 367.0,425.4 367.4,424.4 367.9,425.9 368.3,427.2 368.8,425.3 369.2,422.4 369.7,419.4 370.1,423.4 370.6,423.4 371.0,423.5 371.5,427.3 371.9,423.2 372.4,423.2 372.8,425.9 373.3,422.2 373.7,418.1 374.2,420.6 374.6,425.7 375.1,423.0 375.5,423.3 376.0,418.6 376.4,426.2 376.9,419.8 377.3,421.1 377.8,423.0 378.2,429.9 378.7,426.5 379.1,423.0 379.6,419.7 380.0,422.2 380.5,420.3 380.9,421.5 381.4,423.9 381.8,428.1 382.3,422.4 382.7,428.1 383.2,420.0 383.6,429.1 384.1,424.2 384.5,423.5 385.0,423.0 385.4,425.0 385.9,424.7 386.3,423.8 386.8,422.5 387.2,422.6 387.7,424.4 388.1,423.2 388.6,422.4 389.0,419.9 389.5,423.5 389.9,426.0 390.4,422.3 390.8,427.1 391.3,425.5 391.7,425.5 392.2,420.1 392.6,425.4 393.1,428.9 393.5,431.0 394.0,425.3 394.4,425.0 394.9,427.2 395.3,427.3 395.8,423.9 396.2,424.9 396.7,427.9 397.1,427.6 397.6,425.7 398.0,428.4 398.5,421.7 398.9,425.4 399.4,423.3 399.8,423.5 400.3,427.0 400.7,430.8 401.2,428.2 401.6,426.4 402.1,430.4 402.5,428.9 403.0,419.7 403.4,421.7 403.9,422.1 404.3,422.2 404.8,419.8 405.2,425.4 405.7,425.7 406.1,430.4 406.6,425.8 407.0,425.6 407.5,423.0 407.9,427.4 408.4,429.5 408.8,430.9 409.3,429.9 409.7,424.7 410.2,428.5 410.6,423.3 411.1,422.6 411.5,423.7 412.0,430.7 412.4,424.5 412.9,421.9 413.3,424.6 413.8,428.2 414.2,427.5 414.7,427.2 415.1,423.0 415.6,423.1 416.0,428.0 416.5,426.0 416.9,423.2 417.4,423.2 417.8,428.1 418.3,430.4 418.7,427.6 419.2,423.1 419.6,429.0 420.1,423.9 420.5,424.6 421.0,425.7 421.4,424.8 421.9,424.0 422.3,429.0 422.8,426.6 423.2,420.8 423.7,421.5 424.1,427.3 424.6,424.6 425.0,421.3 425.5,426.0 425.9,426.1 426.4,424.8 426.8,425.9 427.3,423.5 427.7,424.4 428.2,425.8 428.6,422.9 429.1,427.2 429.5,421.8 430.0,429.3 430.4,425.7 430.9,425.5 431.3,420.8 431.8,425.1 432.2,421.7 432.7,424.6 433.1,424.0 433.6,421.4 434.0,428.1 434.5,425.5 434.9,422.7 435.4,422.3 435.8,424.1 436.3,423.9 436.7,426.1 437.2,422.6 437.6,423.9 438.1,422.2 438.5,421.0 439.0,425.1 439.4,421.6 439.9,418.1 440.3,423.7 440.8,422.0 441.2,424.6 441.7,425.3 442.1,425.4 442.6,424.2 443.0,428.1 443.5,421.7 443.9,426.3 444.4,423.8 444.8,424.3 445.3,422.4 445.7,425.6 446.2,425.4 446.6,422.7" fill="none" stroke="#a020a0" stroke-width="0.7" stroke-linejoin="round"/>
<text x="268.40" y="391.20" font-size="8.40" fill="#000" text-anchor="middle">x</text>
<text x="313.90" y="398.70" font-size="8.40" fill="#000" text-anchor="middle">x</text>
<text x="318.10" y="384.90" font-size="8.40" fill="#000" text-anchor="middle">x</text>
<text x="324.00" y="389.70" font-size="8.40" fill="#000" text-anchor="middle">x</text>
<text x="356.00" y="401.20" font-size="8.40" fill="#000" text-anchor="middle">x</text>
<text x="375.20" y="376.70" font-size="8.40" fill="#000" text-anchor="middle">x</text>
<text x="406.40" y="392.00" font-size="8.40" fill="#000" text-anchor="middle">x</text>
<path d="M245.5,448.8 L245.5,471.5 L279.3,471.5" fill="none" stroke="#2a2a2a" stroke-width="1"/>
<text transform="translate(241.30,470.00) rotate(-90)" font-size="8.82" fill="#111">20 mV</text>
<text x="245.50" y="480.50" font-size="8.46" fill="#111">10 s</text>
<line x1="376.50" y1="464.50" x2="390.30" y2="464.50" stroke="#a020a0" stroke-width="0.9"/>
<line x1="376.50" y1="477.50" x2="390.30" y2="477.50" stroke="#4aa810" stroke-width="0.9"/>
<text x="395.80" y="468.30" font-size="9.20" fill="#111">fitted 405 nm</text>
<text x="395.80" y="481.80" font-size="9.20" fill="#111">fitted 470 nm</text>
<text x="458.70" y="353.00" font-size="9.00" fill="#111" text-anchor="start">m</text>
<text x="462.80" y="364.50" font-size="9.10" fill="#111">photometry</text>
<text x="524.80" y="361.50" font-size="9.18" fill="#111" font-weight="bold">GCaMP8f 24 h isolated</text>
<rect x="458.30" y="367.80" width="225.30" height="123.20" fill="none" stroke="#555" stroke-width="0.6" stroke-dasharray="0.8 0.8"/>
<polyline points="501.3,421.6 501.3,421.6 501.8,419.7 502.3,419.6 502.8,420.3 503.3,413.4 503.8,408.8 504.3,408.1 504.8,405.9 505.3,406.7 505.8,403.3 506.3,399.3 506.8,401.9 507.3,397.2 507.8,394.3 508.3,403.8 508.8,398.0 509.3,402.3 509.8,396.9 510.3,392.4 510.8,390.8 511.3,385.2 511.8,383.7 512.3,387.2 512.8,391.3 513.3,398.8 513.8,405.2 514.3,399.0 514.8,399.8 515.3,407.6 515.8,412.2 516.3,417.2 516.8,414.1 517.3,417.4 517.8,419.2 518.3,417.1 518.8,421.6 518.8,421.6" fill="#8e8e8e" stroke="none" stroke-width="0" stroke-linejoin="round"/>
<polyline points="620.6,421.6 620.8,418.6 621.3,412.9 621.8,415.7 622.3,413.5 622.8,412.7 623.3,409.5 623.8,405.2 624.3,398.7 624.8,400.9 625.3,396.4 625.8,395.9 626.3,398.5 626.8,397.2 627.3,390.8 627.8,390.7 628.3,389.1 628.8,393.5 629.3,389.7 629.8,388.6 630.3,385.5 630.8,384.7 631.3,388.0 631.8,386.0 632.3,390.9 632.8,393.6 633.3,396.8 633.8,396.0 634.3,402.5 634.8,399.0 635.3,402.3 635.8,408.7 636.3,414.3 636.8,414.6 637.3,412.3 637.8,416.5 638.3,417.8 638.8,419.1 638.9,421.6" fill="#8e8e8e" stroke="none" stroke-width="0" stroke-linejoin="round"/>
<line x1="484.30" y1="412.70" x2="683.00" y2="412.70" stroke="#222" stroke-width="0.7" stroke-dasharray="3 1.2"/>
<line x1="484.30" y1="421.60" x2="683.00" y2="421.60" stroke="#f06a6a" stroke-width="0.7" stroke-dasharray="3 1.2"/>
<line x1="631.80" y1="436.00" x2="683.00" y2="436.00" stroke="#aaa" stroke-width="0.4" stroke-dasharray="0.6 0.6"/>
<polyline points="483.3,450.3 483.8,450.0 484.3,447.9 484.8,454.1 485.3,455.4 485.8,456.3 486.3,455.8 486.8,458.6 487.3,456.4 487.8,455.0 488.3,448.9 488.8,445.3 489.3,441.7 489.8,442.5 490.3,438.4 490.8,445.4 491.3,443.1 491.8,441.0 492.3,441.2 492.8,436.5 493.3,435.7 493.8,436.2 494.3,429.5 494.8,436.8 495.3,434.1 495.8,433.9 496.3,428.3 496.8,427.1 497.3,432.6 497.8,427.8 498.3,426.7 498.8,428.3 499.3,430.6 499.8,419.4 500.3,426.1 500.8,424.2 501.3,425.1 501.8,419.7 502.3,419.6 502.8,420.3 503.3,413.4 503.8,408.8 504.3,408.1 504.8,405.9 505.3,406.7 505.8,403.3 506.3,399.3 506.8,401.9 507.3,397.2 507.8,394.3 508.3,403.8 508.8,398.0 509.3,402.3 509.8,396.9 510.3,392.4 510.8,390.8 511.3,385.2 511.8,383.7 512.3,387.2 512.8,391.3 513.3,398.8 513.8,405.2 514.3,399.0 514.8,399.8 515.3,407.6 515.8,412.2 516.3,417.2 516.8,414.1 517.3,417.4 517.8,419.2 518.3,417.1 518.8,422.0 519.3,418.0 519.8,423.3 520.3,422.8 520.8,424.2 521.3,431.5 521.8,432.4 522.3,430.7 522.8,430.1 523.3,426.5 523.8,431.1 524.3,430.6 524.8,426.2 525.3,422.6 525.8,426.1 526.3,426.5 526.8,429.5 527.3,425.0 527.8,424.0 528.3,427.3 528.8,427.4 529.3,429.9 529.8,431.4 530.3,426.5 530.8,422.9 531.3,427.1 531.8,427.2 532.3,430.5 532.8,425.8 533.3,429.4 533.8,432.0 534.3,431.2 534.8,434.0 535.3,433.7 535.8,434.1 536.3,437.5 536.8,438.8 537.3,439.4 537.8,437.7 538.3,437.0 538.8,438.5 539.3,438.8 539.8,436.4 540.3,439.2 540.8,441.9 541.3,439.3 541.8,436.7 542.3,440.7 542.8,438.2 543.3,435.6 543.8,438.7 544.3,436.7 544.8,441.7 545.3,441.5 545.8,443.8 546.3,448.2 546.8,450.1 547.3,447.7 547.8,441.9 548.3,444.7 548.8,443.9 549.3,449.4 549.8,453.2 550.3,452.4 550.8,452.6 551.3,453.2 551.8,454.6 552.3,452.9 552.8,456.9 553.3,455.6 553.8,453.7 554.3,457.2 554.8,463.1 555.3,460.3 555.8,455.2 556.3,462.1 556.8,460.8 557.3,459.6 557.8,454.4 558.3,453.3 558.8,454.3 559.3,446.9 559.8,448.0 560.3,447.5 560.8,443.3 561.3,443.9 561.8,444.1 562.3,439.3 562.8,443.0 563.3,437.8 563.8,442.8 564.3,443.2 564.8,442.9 565.3,440.5 565.8,440.4 566.3,438.5 566.8,442.6 567.3,444.5 567.8,447.2 568.3,449.3 568.8,447.5 569.3,444.8 569.8,446.7 570.3,443.3 570.8,440.8 571.3,435.5 571.8,438.8 572.3,433.8 572.8,438.7 573.3,431.7 573.8,430.5 574.3,431.8 574.8,429.5 575.3,426.0 575.8,424.9 576.3,424.3 576.8,424.5 577.3,426.7 577.8,425.3 578.3,422.8 578.8,422.5 579.3,413.4 579.8,414.6 580.3,415.1 580.8,414.3 581.3,419.4 581.8,419.3 582.3,419.7 582.8,426.9 583.3,425.8 583.8,426.9 584.3,423.7 584.8,430.0 585.3,430.4 585.8,435.3 586.3,437.5 586.8,437.0 587.3,433.3 587.8,431.0 588.3,437.2 588.8,434.1 589.3,435.7 589.8,435.3 590.3,428.9 590.8,432.5 591.3,434.8 591.8,435.9 592.3,435.4 592.8,436.5 593.3,433.4 593.8,437.0 594.3,435.0 594.8,436.3 595.3,441.1 595.8,438.7 596.3,434.8 596.8,437.8 597.3,434.0 597.8,437.7 598.3,442.5 598.8,437.4 599.3,438.6 599.8,437.1 600.3,439.7 600.8,440.9 601.3,440.7 601.8,438.9 602.3,433.0 602.8,433.0 603.3,433.3 603.8,436.1 604.3,428.5 604.8,434.6 605.3,431.4 605.8,427.7 606.3,434.8 606.8,433.4 607.3,428.9 607.8,430.5 608.3,431.5 608.8,425.9 609.3,431.6 609.8,427.3 610.3,429.8 610.8,425.4 611.3,419.7 611.8,419.4 612.3,418.6 612.8,419.8 613.3,415.2 613.8,414.6 614.3,416.5 614.8,413.5 615.3,410.7 615.8,411.5 616.3,406.7 616.8,415.0 617.3,411.3 617.8,415.3 618.3,417.0 618.8,422.4 619.3,421.0 619.8,419.8 620.3,420.6 620.8,418.6 621.3,412.9 621.8,415.7 622.3,413.5 622.8,412.7 623.3,409.5 623.8,405.2 624.3,398.7 624.8,400.9 625.3,396.4 625.8,395.9 626.3,398.5 626.8,397.2 627.3,390.8 627.8,390.7 628.3,389.1 628.8,393.5 629.3,389.7 629.8,388.6 630.3,385.5 630.8,384.7 631.3,388.0 631.8,386.0 632.3,390.9 632.8,393.6 633.3,396.8 633.8,396.0 634.3,402.5 634.8,399.0 635.3,402.3 635.8,408.7 636.3,414.3 636.8,414.6 637.3,412.3 637.8,416.5 638.3,417.8 638.8,419.1 639.3,426.8 639.8,421.5 640.3,428.3 640.8,434.2 641.3,435.8 641.8,437.4 642.3,441.6 642.8,439.7 643.3,435.9 643.8,439.5 644.3,443.8 644.8,444.4 645.3,445.3 645.8,448.6 646.3,448.6 646.8,450.7 647.3,452.7 647.8,449.6 648.3,445.5 648.8,451.4 649.3,449.9 649.8,445.6 650.3,442.1 650.8,444.7 651.3,446.1 651.8,447.2 652.3,446.9 652.8,444.3 653.3,443.2 653.8,439.6 654.3,440.3 654.8,441.0 655.3,445.3 655.8,440.1 656.3,447.3 656.8,447.0 657.3,443.5 657.8,442.7 658.3,445.2 658.8,446.9 659.3,448.8 659.8,443.3 660.3,445.8 660.8,449.2 661.3,451.4 661.8,451.0 662.3,449.3 662.8,449.8 663.3,447.6 663.8,452.9 664.3,452.1 664.8,450.3 665.3,446.9 665.8,447.1 666.3,448.1 666.8,447.4 667.3,451.2 667.8,451.8 668.3,450.9 668.8,444.4 669.3,447.4 669.8,444.9 670.3,444.1 670.8,446.8 671.3,434.9 671.8,429.8 672.3,428.5 672.8,431.3 673.3,429.0 673.8,422.9 674.3,425.4 674.8,424.8 675.3,424.3 675.8,419.9 676.3,421.0 676.8,417.6 677.3,422.5 677.8,427.3 678.3,426.7 678.8,427.0 679.3,431.2 679.8,428.3 680.3,428.7 680.8,433.3 681.3,437.9 681.8,441.5 682.3,439.4" fill="none" stroke="#111" stroke-width="0.6" stroke-linejoin="round"/>
<path d="M500.3,423.2 L502.7,423.2 L501.5,420.6 Z" fill="#e81c1c" stroke="none" stroke-width="0.6"/>
<path d="M517.4,423.2 L519.8000000000001,423.2 L518.6,420.6 Z" fill="#e81c1c" stroke="none" stroke-width="0.6"/>
<path d="M619.5999999999999,423.2 L622.0,423.2 L620.8,420.6 Z" fill="#e81c1c" stroke="none" stroke-width="0.6"/>
<path d="M637.5,423.2 L639.9000000000001,423.2 L638.7,420.6 Z" fill="#e81c1c" stroke="none" stroke-width="0.6"/>
<text x="511.70" y="387.70" font-size="8.40" fill="#000" text-anchor="middle">x</text>
<text x="631.10" y="387.70" font-size="8.40" fill="#000" text-anchor="middle">x</text>
<text x="528.50" y="380.30" font-size="9.24" fill="#111">peak height</text>
<line x1="527.20" y1="381.20" x2="516.50" y2="384.20" stroke="#222" stroke-width="0.5"/>
<path d="M515,384.7 L517.6,382.9 L518.1,385 Z" fill="#222" stroke="none" stroke-width="0.6"/>
<text x="520.30" y="395.40" font-size="9.22" fill="#111">peak detection threshold</text>
<text x="542.60" y="406.70" font-size="9.18" fill="#111">(1.96 z-score)</text>
<line x1="537.50" y1="403.50" x2="531.50" y2="410.00" stroke="#222" stroke-width="0.5"/>
<path d="M530.4,411.3 L531.2,408.3 L533.2,410 Z" fill="#222" stroke="none" stroke-width="0.6"/>
<text x="639.70" y="405.00" font-size="8.15" fill="#bcbcbc">AUC</text>
<line x1="628.75" y1="456.00" x2="628.75" y2="426.00" stroke="#e81c1c" stroke-width="0.6"/>
<path d="M628.75,423.8 L627.4,427 L630.1,427 Z" fill="#e81c1c" stroke="none" stroke-width="0.6"/>
<text x="570.00" y="465.50" font-size="8.92" fill="#e81c1c">2* median absolute deviation</text>
<text x="578.50" y="476.30" font-size="9.00" fill="#e81c1c">(2nd threshold for width)</text>
<path d="M473.5,443.3 L473.5,470.5 L507,470.5" fill="none" stroke="#2a2a2a" stroke-width="1"/>
<text transform="translate(469.50,473.25) rotate(-90)" font-size="8.81" fill="#111">1 z-score</text>
<text x="472.80" y="480.50" font-size="9.23" fill="#111">2.5 s</text>
<text x="2.00" y="503.80" font-size="9.00" fill="#111" text-anchor="start">n</text>
<text x="5.50" y="515.80" font-size="9.26" fill="#111">photometry</text>
<text x="70.80" y="510.50" font-size="9.15" fill="#111" font-weight="bold">GFP control</text>
<rect x="0.50" y="519.50" width="222.00" height="133.00" fill="#fff" stroke="#3a3a3a" stroke-width="1"/>
<rect x="34.00" y="525.80" width="4.00" height="95.00" fill="#fbdfc9" stroke="none" stroke-width="0.6"/>
<rect x="40.00" y="525.80" width="2.80" height="95.00" fill="#fbdfc9" stroke="none" stroke-width="0.6"/>
<rect x="52.80" y="525.80" width="0.90" height="95.00" fill="#fbdfc9" stroke="none" stroke-width="0.6"/>
<rect x="59.00" y="525.80" width="30.50" height="95.00" fill="#d2e3f1" stroke="none" stroke-width="0.6"/>
<rect x="90.50" y="525.80" width="1.30" height="95.00" fill="#d2e3f1" stroke="none" stroke-width="0.6"/>
<rect x="108.00" y="525.80" width="21.80" height="95.00" fill="#d2e3f1" stroke="none" stroke-width="0.6"/>
<rect x="132.50" y="525.80" width="10.80" height="95.00" fill="#d2e3f1" stroke="none" stroke-width="0.6"/>
<rect x="145.50" y="525.80" width="43.00" height="95.00" fill="#d2e3f1" stroke="none" stroke-width="0.6"/>
<rect x="190.50" y="525.80" width="2.80" height="95.00" fill="#d2e3f1" stroke="none" stroke-width="0.6"/>
<rect x="195.30" y="525.80" width="2.50" height="95.00" fill="#d2e3f1" stroke="none" stroke-width="0.6"/>
<rect x="201.50" y="525.80" width="1.80" height="95.00" fill="#d2e3f1" stroke="none" stroke-width="0.6"/>
<line x1="32.00" y1="549.50" x2="32.00" y2="597.80" stroke="#999" stroke-width="0.6"/>
<line x1="30.00" y1="549.50" x2="32.00" y2="549.50" stroke="#999" stroke-width="0.6"/>
<text x="29.50" y="552.10" font-size="7.20" fill="#111" text-anchor="end">2</text>
<line x1="30.00" y1="573.30" x2="32.00" y2="573.30" stroke="#999" stroke-width="0.6"/>
<text x="29.50" y="575.90" font-size="7.20" fill="#111" text-anchor="end">0</text>
<line x1="30.00" y1="597.80" x2="32.00" y2="597.80" stroke="#999" stroke-width="0.6"/>
<text x="29.50" y="600.40" font-size="7.20" fill="#111" text-anchor="end">-2</text>
<text transform="translate(24.00,585.75) rotate(-90)" font-size="7.63" fill="#111">z-score</text>
<polyline points="34.0,566.8 34.3,572.7 34.6,564.0 34.9,567.5 35.2,573.2 35.5,568.6 35.8,579.6 36.1,572.9 36.4,576.2 36.7,573.7 37.0,590.3 37.3,582.2 37.6,575.6 37.9,565.6 38.2,582.0 38.5,584.6 38.8,580.3 39.1,575.9 39.4,578.1 39.7,584.6 40.0,579.9 40.3,580.6 40.6,567.3 40.9,571.2 41.2,565.6 41.5,571.4 41.8,570.6 42.1,569.1 42.4,568.1 42.7,558.1 43.0,574.4 43.3,575.0 43.6,575.2 43.9,569.8 44.2,568.2 44.5,559.3 44.8,556.1 45.1,563.3 45.4,565.6 45.7,558.9 46.0,566.3 46.3,576.0 46.6,573.0 46.9,575.8 47.2,580.1 47.5,573.1 47.8,576.8 48.1,577.7 48.4,564.8 48.7,574.9 49.0,569.5 49.3,576.5 49.6,578.6 49.9,583.4 50.2,562.5 50.5,570.1 50.8,574.8 51.1,573.5 51.4,574.9 51.7,579.6 52.0,573.6 52.3,577.7 52.6,580.6 52.9,580.8 53.2,568.5 53.5,575.6 53.8,566.6 54.1,572.2 54.4,570.9 54.7,576.1 55.0,567.0 55.3,576.8 55.6,563.3 55.9,568.3 56.2,558.7 56.5,570.1 56.8,576.2 57.1,574.5 57.4,582.0 57.7,577.2 58.0,580.1 58.3,569.3 58.6,577.3 58.9,585.0 59.2,569.9 59.5,575.2 59.8,578.8 60.1,582.8 60.4,581.4 60.7,572.4 61.0,574.5 61.3,578.5 61.6,573.6 61.9,569.1 62.2,582.4 62.5,583.3 62.8,582.3 63.1,583.6 63.4,575.3 63.7,590.2 64.0,585.1 64.3,591.1 64.6,574.8 64.9,563.5 65.2,570.7 65.5,585.0 65.8,582.5 66.1,586.9 66.4,581.7 66.7,570.9 67.0,568.5 67.3,571.5 67.6,573.2 67.9,584.0 68.2,578.1 68.5,581.9 68.8,577.0 69.1,569.1 69.4,576.1 69.7,572.0 70.0,571.2 70.3,569.8 70.6,575.9 70.9,568.7 71.2,568.9 71.5,568.4 71.8,567.2 72.1,572.1 72.4,556.4 72.7,561.2 73.0,578.1 73.3,570.9 73.6,581.8 73.9,579.4 74.2,568.8 74.5,560.8 74.8,569.8 75.1,570.6 75.4,566.1 75.7,568.7 76.0,577.3 76.3,564.5 76.6,569.3 76.9,576.0 77.2,584.1 77.5,582.0 77.8,574.2 78.1,570.2 78.4,575.3 78.7,567.6 79.0,572.8 79.3,574.8 79.6,585.0 79.9,567.2 80.2,574.1 80.5,570.8 80.8,563.2 81.1,565.2 81.4,569.8 81.7,568.6 82.0,572.4 82.3,576.1 82.6,573.8 82.9,569.7 83.2,569.5 83.5,565.8 83.8,567.9 84.1,575.0 84.4,558.7 84.7,572.1 85.0,564.3 85.3,582.6 85.6,581.9 85.9,561.5 86.2,569.4 86.5,576.1 86.8,571.9 87.1,576.1 87.4,560.0 87.7,568.7 88.0,568.0 88.3,565.0 88.6,567.4 88.9,572.3 89.2,570.9 89.5,578.1 89.8,579.4 90.1,587.9 90.4,577.9 90.7,581.6 91.0,586.6 91.3,580.7 91.6,571.8 91.9,587.0 92.2,583.1 92.5,573.9 92.8,581.8 93.1,581.4 93.4,582.5 93.7,587.2 94.0,582.0 94.3,585.2 94.6,589.3 94.9,591.9 95.2,588.8 95.5,581.2 95.8,590.8 96.1,585.4 96.4,591.7 96.7,585.6 97.0,586.8 97.3,580.9 97.6,585.3 97.9,575.7 98.2,585.6 98.5,582.0 98.8,574.8 99.1,577.9 99.4,585.5 99.7,585.2 100.0,579.8 100.3,578.7 100.6,580.7 100.9,570.6 101.2,570.2 101.5,571.1 101.8,575.9 102.1,572.3 102.4,572.5 102.7,580.9 103.0,579.8 103.3,569.5 103.6,580.5 103.9,571.1 104.2,583.1 104.5,576.4 104.8,572.2 105.1,571.6 105.4,575.7 105.7,583.6 106.0,578.6 106.3,579.4 106.6,581.2 106.9,583.8 107.2,576.9 107.5,585.2 107.8,574.2 108.1,576.5 108.4,570.8 108.7,570.6 109.0,576.0 109.3,569.4 109.6,566.6 109.9,559.9 110.2,577.0 110.5,563.6 110.8,577.6 111.1,572.5 111.4,565.4 111.7,570.3 112.0,571.1 112.3,566.5 112.6,556.6 112.9,579.7 113.2,574.7 113.5,565.5 113.8,571.3 114.1,567.0 114.4,576.0 114.7,568.0 115.0,568.7 115.3,577.4 115.6,581.2 115.9,569.0 116.2,568.9 116.5,560.2 116.8,563.9 117.1,574.7 117.4,575.4 117.7,574.0 118.0,579.4 118.3,569.0 118.6,568.0 118.9,565.9 119.2,575.2 119.5,576.8 119.8,580.0 120.1,571.2 120.4,575.7 120.7,577.6 121.0,575.5 121.3,567.8 121.6,565.2 121.9,584.0 122.2,569.2 122.5,562.1 122.8,567.8 123.1,570.9 123.4,567.6 123.7,563.4 124.0,576.8 124.3,564.2 124.6,578.8 124.9,575.4 125.2,571.6 125.5,570.7 125.8,568.4 126.1,575.6 126.4,570.5 126.7,579.8 127.0,569.5 127.3,570.4 127.6,578.4 127.9,584.8 128.2,574.9 128.5,564.9 128.8,577.3 129.1,572.9 129.4,574.0 129.7,577.4 130.0,575.4 130.3,575.0 130.6,581.3 130.9,570.7 131.2,582.1 131.5,572.5 131.8,572.9 132.1,570.9 132.4,577.2 132.7,559.4 133.0,562.9 133.3,575.8 133.6,576.0 133.9,570.8 134.2,564.6 134.5,572.7 134.8,575.6 135.1,573.7 135.4,569.2 135.7,580.3 136.0,567.6 136.3,578.0 136.6,564.6 136.9,581.7 137.2,576.8 137.5,576.0 137.8,571.0 138.1,573.0 138.4,573.3 138.7,575.3 139.0,586.3 139.3,576.0 139.6,572.2 139.9,575.9 140.2,577.8 140.5,567.0 140.8,574.3 141.1,558.3 141.4,563.5 141.7,569.4 142.0,565.7 142.3,571.4 142.6,575.8 142.9,571.4 143.2,568.1 143.5,576.5 143.8,565.9 144.1,577.2 144.4,575.2 144.7,570.1 145.0,572.8 145.3,571.6 145.6,566.3 145.9,570.4 146.2,570.1 146.5,566.9 146.8,559.4 147.1,569.8 147.4,559.6 147.7,573.8 148.0,567.4 148.3,562.6 148.6,571.6 148.9,567.8 149.2,569.8 149.5,575.9 149.8,571.6 150.1,574.5 150.4,576.7 150.7,574.8 151.0,577.0 151.3,570.8 151.6,580.5 151.9,571.8 152.2,576.4 152.5,567.0 152.8,568.3 153.1,568.7 153.4,573.5 153.7,581.5 154.0,584.2 154.3,572.5 154.6,573.0 154.9,574.8 155.2,572.0 155.5,570.7 155.8,562.0 156.1,573.6 156.4,566.9 156.7,572.1 157.0,574.4 157.3,581.6 157.6,568.4 157.9,572.6 158.2,570.0 158.5,572.2 158.8,566.8 159.1,574.1 159.4,568.5 159.7,578.5 160.0,577.5 160.3,562.2 160.6,568.7 160.9,570.5 161.2,566.2 161.5,572.2 161.8,576.1 162.1,575.0 162.4,572.9 162.7,571.0 163.0,566.8 163.3,584.2 163.6,574.5 163.9,580.3 164.2,584.7 164.5,562.5 164.8,566.0 165.1,575.7 165.4,584.4 165.7,579.1 166.0,565.2 166.3,577.0 166.6,572.5 166.9,579.2 167.2,579.3 167.5,574.5 167.8,568.3 168.1,582.1 168.4,573.0 168.7,578.6 169.0,573.4 169.3,577.7 169.6,574.8 169.9,575.3 170.2,575.5 170.5,572.6 170.8,576.3 171.1,575.1 171.4,583.9 171.7,575.5 172.0,569.8 172.3,568.3 172.6,574.4 172.9,575.4 173.2,581.2 173.5,580.7 173.8,574.0 174.1,581.8 174.4,562.0 174.7,566.4 175.0,566.7 175.3,559.9 175.6,563.6 175.9,578.8 176.2,571.2 176.5,569.6 176.8,582.0 177.1,573.5 177.4,572.7 177.7,585.4 178.0,584.2 178.3,578.5 178.6,567.0 178.9,568.5 179.2,567.1 179.5,572.6 179.8,571.3 180.1,578.0 180.4,571.4 180.7,567.2 181.0,577.1 181.3,571.1 181.6,573.7 181.9,574.7 182.2,581.2 182.5,574.5 182.8,579.8 183.1,581.9 183.4,576.1 183.7,563.9 184.0,568.9 184.3,566.4 184.6,583.5 184.9,567.9 185.2,575.7 185.5,566.6 185.8,574.2 186.1,575.0 186.4,575.7 186.7,577.8 187.0,582.8 187.3,578.0 187.6,585.1 187.9,577.0 188.2,574.1 188.5,567.9 188.8,562.6 189.1,562.1 189.4,561.8 189.7,564.6 190.0,570.1 190.3,564.4 190.6,566.9 190.9,565.7 191.2,558.9 191.5,567.7 191.8,575.9 192.1,566.8 192.4,565.5 192.7,571.2 193.0,582.1 193.3,568.2 193.6,569.7 193.9,576.3 194.2,564.7 194.5,563.5 194.8,571.4 195.1,562.1 195.4,560.3 195.7,567.2 196.0,568.7 196.3,581.9 196.6,585.1 196.9,577.7 197.2,570.4 197.5,581.6 197.8,574.6 198.1,581.6 198.4,585.3 198.7,572.6 199.0,583.3 199.3,573.9 199.6,575.5 199.9,571.8 200.2,574.3 200.5,568.6 200.8,579.6 201.1,583.4 201.4,581.4 201.7,569.7 202.0,582.0 202.3,577.7 202.6,571.8 202.9,582.7 203.2,571.5 203.5,570.4" fill="none" stroke="#0a0a0a" stroke-width="0.85" stroke-linejoin="round"/>
<line x1="34.00" y1="565.30" x2="203.50" y2="565.30" stroke="#e83a3a" stroke-width="0.7" stroke-dasharray="2.6 1.1"/>
<rect x="18.00" y="626.30" width="14.50" height="8.90" fill="#fbdcc2" stroke="none" stroke-width="0.6"/>
<text x="36.30" y="633.90" font-size="9.18" fill="#111">object</text>
<rect x="131.00" y="626.30" width="14.70" height="8.90" fill="#c9dbf5" stroke="none" stroke-width="0.6"/>
<text x="150.00" y="633.90" font-size="9.23" fill="#111">social</text>
<line x1="66.00" y1="644.00" x2="79.60" y2="644.00" stroke="#0a0a0a" stroke-width="1.6"/>
<text x="82.30" y="647.30" font-size="9.25" fill="#111">baseline corrected z-scored trace</text>
<text x="228.00" y="504.00" font-size="9.00" fill="#111" text-anchor="start">o</text>
<text x="234.80" y="515.50" font-size="9.14" fill="#111">photometry</text>
<text x="298.00" y="510.50" font-size="9.20" fill="#111" font-weight="bold">GCaMP8f group-housed</text>
<rect x="228.50" y="519.50" width="226.00" height="133.00" fill="#fff" stroke="#3a3a3a" stroke-width="1"/>
<rect x="266.50" y="525.00" width="5.00" height="95.30" fill="#fbdfc9" stroke="none" stroke-width="0.6"/>
<rect x="279.30" y="525.00" width="7.50" height="95.30" fill="#fbdfc9" stroke="none" stroke-width="0.6"/>
<rect x="292.80" y="525.00" width="4.00" height="95.30" fill="#fbdfc9" stroke="none" stroke-width="0.6"/>
<rect x="301.80" y="525.00" width="14.70" height="95.30" fill="#fbdfc9" stroke="none" stroke-width="0.6"/>
<rect x="319.80" y="525.00" width="20.70" height="95.30" fill="#fbdfc9" stroke="none" stroke-width="0.6"/>
<rect x="346.30" y="525.00" width="10.00" height="95.30" fill="#fbdfc9" stroke="none" stroke-width="0.6"/>
<rect x="360.00" y="525.00" width="27.80" height="95.30" fill="#d2e3f1" stroke="none" stroke-width="0.6"/>
<rect x="389.50" y="525.00" width="9.30" height="95.30" fill="#d2e3f1" stroke="none" stroke-width="0.6"/>
<rect x="401.50" y="525.00" width="13.50" height="95.30" fill="#d2e3f1" stroke="none" stroke-width="0.6"/>
<rect x="416.50" y="525.00" width="1.80" height="95.30" fill="#d2e3f1" stroke="none" stroke-width="0.6"/>
<rect x="422.00" y="525.00" width="9.30" height="95.30" fill="#d2e3f1" stroke="none" stroke-width="0.6"/>
<line x1="259.00" y1="547.80" x2="259.00" y2="596.50" stroke="#999" stroke-width="0.6"/>
<line x1="257.00" y1="547.80" x2="259.00" y2="547.80" stroke="#999" stroke-width="0.6"/>
<text x="256.50" y="550.40" font-size="7.20" fill="#111" text-anchor="end">2</text>
<line x1="257.00" y1="572.00" x2="259.00" y2="572.00" stroke="#999" stroke-width="0.6"/>
<text x="256.50" y="574.60" font-size="7.20" fill="#111" text-anchor="end">0</text>
<line x1="257.00" y1="596.50" x2="259.00" y2="596.50" stroke="#999" stroke-width="0.6"/>
<text x="256.50" y="599.10" font-size="7.20" fill="#111" text-anchor="end">-2</text>
<text transform="translate(251.00,585.00) rotate(-90)" font-size="7.78" fill="#111">z-score</text>
<polyline points="262.0,551.1 262.3,551.8 262.6,555.1 262.9,550.7 263.2,561.8 263.5,569.1 263.8,575.7 264.1,573.6 264.4,575.6 264.7,582.1 265.0,580.8 265.3,588.1 265.6,591.3 265.9,592.1 266.2,593.5 266.5,578.3 266.8,575.5 267.1,582.5 267.4,580.3 267.7,562.1 268.0,581.4 268.3,570.4 268.6,555.8 268.9,565.3 269.2,556.3 269.5,548.5 269.8,549.3 270.1,548.8 270.4,553.6 270.7,572.1 271.0,554.6 271.3,572.8 271.6,581.0 271.9,578.0 272.2,575.3 272.5,581.7 272.8,578.5 273.1,578.5 273.4,575.4 273.7,567.8 274.0,575.9 274.3,573.4 274.6,574.7 274.9,569.2 275.2,565.2 275.5,565.7 275.8,569.0 276.1,577.8 276.4,580.9 276.7,579.2 277.0,565.9 277.3,573.9 277.6,564.3 277.9,552.9 278.2,551.5 278.5,550.2 278.8,548.8 279.1,547.5 279.4,546.1 279.7,542.1 280.0,543.4 280.3,542.5 280.6,542.1 280.9,545.2 281.2,546.6 281.5,547.9 281.8,549.3 282.1,550.6 282.4,552.0 282.7,553.3 283.0,567.2 283.3,564.4 283.6,577.6 283.9,572.3 284.2,584.9 284.5,580.4 284.8,590.7 285.1,575.1 285.4,576.5 285.7,574.5 286.0,570.6 286.3,572.3 286.6,575.7 286.9,577.1 287.2,563.8 287.5,572.7 287.8,577.4 288.1,576.8 288.4,573.1 288.7,576.8 289.0,572.9 289.3,578.2 289.6,575.3 289.9,569.9 290.2,576.7 290.5,573.3 290.8,574.4 291.1,578.1 291.4,576.8 291.7,588.8 292.0,592.5 292.3,576.8 292.6,580.3 292.9,582.0 293.2,569.7 293.5,570.9 293.8,582.6 294.1,588.2 294.4,567.9 294.7,565.6 295.0,573.6 295.3,568.0 295.6,562.4 295.9,572.5 296.2,573.4 296.5,580.5 296.8,569.9 297.1,565.9 297.4,576.4 297.7,575.7 298.0,576.8 298.3,575.4 298.6,583.0 298.9,566.5 299.2,577.2 299.5,566.0 299.8,572.0 300.1,573.0 300.4,566.4 300.7,560.6 301.0,579.4 301.3,582.9 301.6,578.7 301.9,575.5 302.2,566.2 302.5,579.5 302.8,573.8 303.1,583.3 303.4,581.4 303.7,567.9 304.0,579.5 304.3,574.1 304.6,579.5 304.9,579.5 305.2,583.2 305.5,564.2 305.8,579.2 306.1,580.0 306.4,570.8 306.7,568.8 307.0,582.0 307.3,574.9 307.6,562.0 307.9,572.6 308.2,574.5 308.5,578.5 308.8,572.0 309.1,561.2 309.4,565.4 309.7,567.3 310.0,577.1 310.3,556.1 310.6,552.8 310.9,576.1 311.2,584.9 311.5,587.0 311.8,577.7 312.1,580.6 312.4,576.0 312.7,587.1 313.0,577.2 313.3,574.9 313.6,586.0 313.9,581.4 314.2,580.0 314.5,563.1 314.8,560.1 315.1,566.3 315.4,549.1 315.7,565.1 316.0,556.9 316.3,556.5 316.6,557.8 316.9,549.1 317.2,549.8 317.5,549.1 317.8,549.1 318.1,549.1 318.4,549.1 318.7,549.1 319.0,549.1 319.3,547.9 319.6,546.6 319.9,545.2 320.2,543.9 320.5,542.5 320.8,541.2 321.1,540.8 321.4,542.1 321.7,543.5 322.0,544.8 322.3,546.2 322.6,547.5 322.9,548.9 323.2,550.2 323.5,577.7 323.8,573.6 324.1,552.1 324.4,550.7 324.7,549.4 325.0,548.0 325.3,546.1 325.6,545.3 325.9,544.0 326.2,541.1 326.5,541.3 326.8,542.7 327.1,544.0 327.4,545.4 327.7,546.7 328.0,548.1 328.3,549.4 328.6,550.8 328.9,552.1 329.2,574.1 329.5,566.5 329.8,579.5 330.1,573.5 330.4,570.7 330.7,584.1 331.0,588.6 331.3,570.0 331.6,586.0 331.9,578.4 332.2,571.3 332.5,588.1 332.8,583.9 333.1,593.6 333.4,587.4 333.7,604.3 334.0,583.8 334.3,590.0 334.6,588.9 334.9,584.6 335.2,580.0 335.5,579.9 335.8,576.7 336.1,580.1 336.4,570.9 336.7,559.5 337.0,555.5 337.3,559.8 337.6,556.4 337.9,576.1 338.2,570.5 338.5,561.6 338.8,558.2 339.1,550.5 339.4,566.2 339.7,563.3 340.0,560.0 340.3,559.4 340.6,555.0 340.9,562.7 341.2,565.0 341.5,567.4 341.8,555.2 342.1,555.0 342.4,569.5 342.7,561.9 343.0,573.5 343.3,569.7 343.6,562.9 343.9,566.2 344.2,567.5 344.5,577.7 344.8,571.8 345.1,580.8 345.4,570.4 345.7,572.2 346.0,568.9 346.3,571.3 346.6,572.6 346.9,574.5 347.2,575.1 347.5,584.3 347.8,565.0 348.1,589.5 348.4,572.6 348.7,575.0 349.0,568.8 349.3,580.2 349.6,575.5 349.9,579.5 350.2,570.2 350.5,558.6 350.8,562.8 351.1,571.0 351.4,571.3 351.7,563.3 352.0,562.0 352.3,556.5 352.6,552.8 352.9,557.2 353.2,556.6 353.5,555.2 353.8,553.9 354.1,553.5 354.4,554.8 354.7,556.2 355.0,556.2 355.3,558.1 355.6,560.2 355.9,561.6 356.2,562.9 356.5,583.1 356.8,574.8 357.1,575.7 357.4,578.0 357.7,582.3 358.0,583.0 358.3,584.7 358.6,585.8 358.9,581.9 359.2,584.2 359.5,573.2 359.8,581.4 360.1,581.3 360.4,578.6 360.7,577.2 361.0,580.8 361.3,561.6 361.6,567.9 361.9,577.2 362.2,565.1 362.5,573.7 362.8,570.7 363.1,569.9 363.4,578.4 363.7,564.3 364.0,571.4 364.3,575.6 364.6,575.9 364.9,568.6 365.2,560.5 365.5,566.2 365.8,569.5 366.1,572.2 366.4,556.4 366.7,569.0 367.0,569.8 367.3,560.7 367.6,554.0 367.9,548.7 368.2,545.9 368.5,551.4 368.8,550.1 369.1,548.7 369.4,547.4 369.7,545.5 370.0,544.7 370.3,543.3 370.6,542.0 370.9,542.0 371.2,543.3 371.5,544.7 371.8,546.0 372.1,547.4 372.4,548.7 372.7,550.1 373.0,550.6 373.3,559.4 373.6,564.3 373.9,558.5 374.2,567.5 374.5,564.0 374.8,577.0 375.1,573.6 375.4,569.5 375.7,580.5 376.0,574.4 376.3,578.5 376.6,580.0 376.9,585.4 377.2,568.8 377.5,578.0 377.8,571.3 378.1,571.1 378.4,579.2 378.7,562.0 379.0,557.7 379.3,569.0 379.6,572.3 379.9,574.7 380.2,566.1 380.5,559.3 380.8,570.7 381.1,564.7 381.4,568.4 381.7,557.4 382.0,567.4 382.3,575.4 382.6,573.7 382.9,563.4 383.2,571.0 383.5,576.6 383.8,578.9 384.1,581.2 384.4,576.5 384.7,576.2 385.0,574.2 385.3,586.3 385.6,578.5 385.9,575.7 386.2,574.2 386.5,575.2 386.8,564.7 387.1,561.3 387.4,567.3 387.7,572.2 388.0,559.8 388.3,561.1 388.6,573.9 388.9,565.6 389.2,564.9 389.5,553.7 389.8,562.1 390.1,558.0 390.4,562.9 390.7,566.1 391.0,560.4 391.3,557.2 391.6,574.0 391.9,564.8 392.2,557.9 392.5,569.2 392.8,546.1 393.1,550.6 393.4,557.4 393.7,551.1 394.0,556.8 394.3,546.1 394.6,553.9 394.9,551.5 395.2,548.9 395.5,546.1 395.8,546.1 396.1,550.3 396.4,546.1 396.7,546.1 397.0,546.3 397.3,547.7 397.6,549.0 397.9,550.4 398.2,551.7 398.5,553.1 398.8,554.4 399.1,555.8 399.4,556.4 399.7,567.6 400.0,559.3 400.3,573.4 400.6,578.8 400.9,579.8 401.2,582.9 401.5,579.8 401.8,580.2 402.1,576.2 402.4,583.4 402.7,577.7 403.0,585.7 403.3,586.4 403.6,573.1 403.9,567.0 404.2,569.7 404.5,570.8 404.8,574.0 405.1,583.9 405.4,573.4 405.7,570.4 406.0,573.4 406.3,574.2 406.6,572.1 406.9,571.0 407.2,571.8 407.5,574.4 407.8,561.5 408.1,571.7 408.4,559.6 408.7,569.6 409.0,579.4 409.3,577.6 409.6,560.8 409.9,572.2 410.2,571.8 410.5,571.8 410.8,567.5 411.1,569.8 411.4,563.0 411.7,571.6 412.0,575.7 412.3,562.9 412.6,568.5 412.9,574.2 413.2,561.8 413.5,567.2 413.8,563.1 414.1,560.1 414.4,575.9 414.7,573.3 415.0,567.4 415.3,556.0 415.6,560.5 415.9,565.1 416.2,563.4 416.5,559.8 416.8,577.1 417.1,570.9 417.4,573.7 417.7,581.3 418.0,577.3 418.3,568.2 418.6,576.0 418.9,562.2 419.2,564.8 419.5,566.7 419.8,574.9 420.1,562.0 420.4,580.1 420.7,585.9 421.0,583.1 421.3,579.8 421.6,576.3 421.9,580.4 422.2,588.0 422.5,578.2 422.8,578.8 423.1,576.2 423.4,569.2 423.7,578.5 424.0,569.7 424.3,572.3 424.6,566.0 424.9,566.1 425.2,571.9 425.5,570.4 425.8,571.2 426.1,559.5 426.4,561.3 426.7,568.6 427.0,571.2 427.3,579.0 427.6,564.4 427.9,576.4 428.2,577.5 428.5,575.6 428.8,569.4 429.1,567.5 429.4,579.9 429.7,590.9 430.0,578.6 430.3,588.5 430.6,585.4 430.9,589.2" fill="none" stroke="#0a0a0a" stroke-width="0.85" stroke-linejoin="round"/>
<line x1="262.00" y1="560.30" x2="431.50" y2="560.30" stroke="#e83a3a" stroke-width="0.7" stroke-dasharray="2.6 1.1"/>
<text x="280.25" y="541.00" font-size="8.20" fill="#000" text-anchor="middle">x</text>
<text x="318.50" y="548.00" font-size="8.20" fill="#000" text-anchor="middle">x</text>
<text x="321.00" y="539.00" font-size="8.20" fill="#000" text-anchor="middle">x</text>
<text x="326.50" y="540.00" font-size="8.20" fill="#000" text-anchor="middle">x</text>
<text x="354.00" y="551.70" font-size="8.20" fill="#000" text-anchor="middle">x</text>
<text x="370.75" y="540.00" font-size="8.20" fill="#000" text-anchor="middle">x</text>
<text x="397.00" y="545.00" font-size="8.20" fill="#000" text-anchor="middle">x</text>
<rect x="248.50" y="626.30" width="14.50" height="8.90" fill="#fbdcc2" stroke="none" stroke-width="0.6"/>
<text x="266.80" y="633.90" font-size="9.18" fill="#111">object</text>
<rect x="361.50" y="626.30" width="14.70" height="8.90" fill="#c9dbf5" stroke="none" stroke-width="0.6"/>
<text x="380.50" y="633.90" font-size="9.23" fill="#111">social</text>
<line x1="292.00" y1="644.00" x2="305.60" y2="644.00" stroke="#0a0a0a" stroke-width="1.6"/>
<text x="308.30" y="647.30" font-size="9.25" fill="#111">baseline corrected z-scored trace</text>
<text x="458.70" y="505.60" font-size="9.00" fill="#111" text-anchor="start">p</text>
<text x="462.80" y="515.50" font-size="9.10" fill="#111">photometry</text>
<text x="524.80" y="510.30" font-size="9.18" fill="#111" font-weight="bold">GCaMP8f 24 h isolated</text>
<rect x="459.50" y="519.50" width="225.00" height="133.00" fill="#fff" stroke="#3a3a3a" stroke-width="1"/>
<rect x="620.60" y="524.00" width="14.40" height="96.30" fill="#fbdfc9" stroke="none" stroke-width="0.6"/>
<rect x="636.60" y="524.00" width="0.80" height="96.30" fill="#fbdfc9" stroke="none" stroke-width="0.6"/>
<rect x="639.00" y="524.00" width="21.00" height="96.30" fill="#fbdfc9" stroke="none" stroke-width="0.6"/>
<rect x="491.30" y="524.00" width="95.50" height="96.30" fill="#d2e3f1" stroke="none" stroke-width="0.6"/>
<rect x="597.50" y="524.00" width="4.80" height="96.30" fill="#d2e3f1" stroke="none" stroke-width="0.6"/>
<line x1="489.50" y1="548.30" x2="489.50" y2="596.50" stroke="#999" stroke-width="0.6"/>
<line x1="487.50" y1="548.30" x2="489.50" y2="548.30" stroke="#999" stroke-width="0.6"/>
<text x="487.00" y="550.90" font-size="7.20" fill="#111" text-anchor="end">2</text>
<line x1="487.50" y1="572.50" x2="489.50" y2="572.50" stroke="#999" stroke-width="0.6"/>
<text x="487.00" y="575.10" font-size="7.20" fill="#111" text-anchor="end">0</text>
<line x1="487.50" y1="596.50" x2="489.50" y2="596.50" stroke="#999" stroke-width="0.6"/>
<text x="487.00" y="599.10" font-size="7.20" fill="#111" text-anchor="end">-2</text>
<text transform="translate(481.50,585.00) rotate(-90)" font-size="7.78" fill="#111">z-score</text>
<polyline points="491.5,579.4 491.8,575.7 492.1,569.9 492.4,566.5 492.7,580.2 493.0,579.9 493.3,572.5 493.6,577.4 493.9,586.6 494.2,575.7 494.5,575.5 494.8,581.5 495.1,577.5 495.4,582.6 495.7,588.2 496.0,587.6 496.3,575.3 496.6,571.9 496.9,577.9 497.2,576.4 497.5,570.3 497.8,565.6 498.1,567.1 498.4,570.3 498.7,572.4 499.0,565.2 499.3,575.7 499.6,569.0 499.9,564.0 500.2,545.1 500.5,543.8 500.8,542.4 501.1,541.1 501.4,535.3 501.7,535.7 502.0,537.0 502.3,535.7 502.6,535.3 502.9,536.6 503.2,538.0 503.5,539.3 503.8,540.7 504.1,542.0 504.4,543.4 504.7,544.7 505.0,558.2 505.3,558.3 505.6,559.4 505.9,560.7 506.2,564.5 506.5,575.5 506.8,574.7 507.1,572.5 507.4,570.8 507.7,567.9 508.0,580.0 508.3,575.0 508.6,577.5 508.9,587.5 509.2,582.1 509.5,574.3 509.8,578.7 510.1,580.8 510.4,586.0 510.7,585.4 511.0,585.9 511.3,583.3 511.6,586.8 511.9,583.9 512.2,591.1 512.5,586.4 512.8,587.9 513.1,591.9 513.4,578.8 513.7,573.7 514.0,580.1 514.3,574.5 514.6,581.5 514.9,565.2 515.2,576.0 515.5,578.5 515.8,569.9 516.1,571.2 516.4,573.4 516.7,574.8 517.0,571.4 517.3,583.5 517.6,583.5 517.9,582.0 518.2,586.9 518.5,587.4 518.8,588.0 519.1,570.6 519.4,573.8 519.7,569.1 520.0,572.7 520.3,572.6 520.6,567.3 520.9,567.0 521.2,563.0 521.5,566.4 521.8,560.3 522.1,560.3 522.4,561.9 522.7,555.3 523.0,548.5 523.3,556.4 523.6,563.1 523.9,563.4 524.2,553.7 524.5,550.0 524.8,551.3 525.1,545.6 525.4,544.3 525.7,542.9 526.0,541.6 526.3,534.6 526.6,534.6 526.9,537.5 527.2,536.2 527.5,534.6 527.8,534.6 528.1,537.5 528.4,538.8 528.7,540.2 529.0,541.5 529.3,542.9 529.6,544.2 529.9,545.6 530.2,553.7 530.5,560.7 530.8,563.0 531.1,576.1 531.4,576.0 531.7,570.7 532.0,568.9 532.3,573.4 532.6,566.3 532.9,566.5 533.2,577.0 533.5,570.1 533.8,577.7 534.1,579.1 534.4,574.9 534.7,583.2 535.0,589.6 535.3,582.5 535.6,580.2 535.9,573.1 536.2,568.1 536.5,576.9 536.8,573.3 537.1,579.5 537.4,580.4 537.7,573.1 538.0,569.6 538.3,575.0 538.6,575.1 538.9,579.4 539.2,574.2 539.5,569.5 539.8,566.8 540.1,574.0 540.4,573.7 540.7,572.5 541.0,578.1 541.3,572.2 541.6,570.0 541.9,567.3 542.2,578.5 542.5,570.2 542.8,576.7 543.1,564.0 543.4,578.5 543.7,568.3 544.0,569.9 544.3,568.3 544.6,575.0 544.9,567.3 545.2,576.4 545.5,564.2 545.8,570.3 546.1,574.0 546.4,563.4 546.7,570.6 547.0,571.5 547.3,574.5 547.6,578.4 547.9,569.6 548.2,573.6 548.5,574.5 548.8,582.6 549.1,577.2 549.4,575.3 549.7,582.4 550.0,578.8 550.3,566.7 550.6,573.6 550.9,580.3 551.2,573.6 551.5,563.9 551.8,569.2 552.1,566.0 552.4,559.8 552.7,564.8 553.0,563.9 553.3,568.8 553.6,560.4 553.9,567.7 554.2,569.4 554.5,571.4 554.8,571.0 555.1,565.0 555.4,559.3 555.7,560.1 556.0,565.5 556.3,569.5 556.6,571.7 556.9,572.3 557.2,571.9 557.5,573.1 557.8,572.5 558.1,574.5 558.4,575.5 558.7,574.8 559.0,569.1 559.3,573.0 559.6,567.6 559.9,572.7 560.2,565.9 560.5,578.8 560.8,571.6 561.1,573.6 561.4,574.6 561.7,569.2 562.0,563.2 562.3,566.7 562.6,566.4 562.9,567.5 563.2,582.2 563.5,580.5 563.8,570.8 564.1,567.4 564.4,584.0 564.7,580.8 565.0,574.3 565.3,585.1 565.6,581.9 565.9,579.6 566.2,581.3 566.5,578.8 566.8,568.1 567.1,573.3 567.4,569.3 567.7,564.0 568.0,565.1 568.3,564.7 568.6,566.2 568.9,566.6 569.2,566.3 569.5,566.5 569.8,558.8 570.1,564.0 570.4,570.8 570.7,574.0 571.0,566.2 571.3,568.4 571.6,569.9 571.9,578.1 572.2,570.5 572.5,578.7 572.8,573.2 573.1,574.5 573.4,579.6 573.7,571.5 574.0,567.5 574.3,561.1 574.6,573.4 574.9,570.2 575.2,571.0 575.5,572.9 575.8,572.3 576.1,568.1 576.4,564.7 576.7,570.8 577.0,570.5 577.3,566.4 577.6,558.7 577.9,562.6 578.2,567.1 578.5,571.9 578.8,571.8 579.1,579.0 579.4,577.8 579.7,583.1 580.0,585.7 580.3,578.4 580.6,584.1 580.9,590.2 581.2,574.6 581.5,579.5 581.8,581.3 582.1,585.8 582.4,580.6 582.7,584.6 583.0,579.0 583.3,587.4 583.6,583.2 583.9,588.1 584.2,583.3 584.5,586.9 584.8,573.7 585.1,586.3 585.4,588.2 585.7,585.5 586.0,580.0 586.3,575.8 586.6,572.0 586.9,574.6 587.2,579.4 587.5,563.3 587.8,564.1 588.1,568.4 588.4,566.2 588.7,564.2 589.0,570.9 589.3,567.6 589.6,557.4 589.9,558.6 590.2,571.0 590.5,569.5 590.8,567.8 591.1,561.7 591.4,553.3 591.7,544.8 592.0,552.7 592.3,553.6 592.6,547.9 592.9,545.5 593.2,544.9 593.5,540.9 593.8,553.6 594.1,544.5 594.4,534.4 594.7,543.3 595.0,537.9 595.3,546.8 595.6,537.5 595.9,536.8 596.2,544.9 596.5,543.1 596.8,545.8 597.1,547.0 597.4,548.1 597.7,548.1 598.0,553.1 598.3,547.0 598.6,568.7 598.9,560.0 599.2,560.2 599.5,558.8 599.8,559.9 600.1,567.6 600.4,556.8 600.7,566.6 601.0,571.6 601.3,570.6 601.6,559.0 601.9,564.0 602.2,568.6 602.5,570.1 602.8,574.9 603.1,579.2 603.4,577.1 603.7,574.2 604.0,566.5 604.3,577.2 604.6,572.1 604.9,572.7 605.2,572.5 605.5,565.1 605.8,563.2 606.1,556.8 606.4,559.5 606.7,564.4 607.0,561.9 607.3,567.6 607.6,557.2 607.9,559.3 608.2,556.4 608.5,552.7 608.8,550.8 609.1,544.9 609.4,550.0 609.7,546.8 610.0,556.9 610.3,553.0 610.6,551.7 610.9,550.5 611.2,554.1 611.5,553.0 611.8,560.0 612.1,554.8 612.4,559.6 612.7,556.8 613.0,557.0 613.3,563.2 613.6,559.3 613.9,556.4 614.2,560.6 614.5,571.4 614.8,559.5 615.1,568.3 615.4,569.1 615.7,568.5 616.0,563.0 616.3,569.1 616.6,571.0 616.9,566.8 617.2,572.3 617.5,568.7 617.8,570.3 618.1,562.0 618.4,559.9 618.7,561.3 619.0,563.6 619.3,564.6 619.6,565.2 619.9,568.2 620.2,569.9 620.5,573.0 620.8,567.3 621.1,571.9 621.4,564.2 621.7,572.8 622.0,567.3 622.3,570.7 622.6,568.1 622.9,574.3 623.2,577.8 623.5,587.5 623.8,583.3 624.1,575.5 624.4,587.8 624.7,581.0 625.0,573.5 625.3,578.3 625.6,590.6 625.9,579.7 626.2,572.5 626.5,579.5 626.8,580.4 627.1,575.9 627.4,575.8 627.7,581.4 628.0,574.3 628.3,565.1 628.6,578.4 628.9,569.4 629.2,570.8 629.5,569.2 629.8,555.2 630.1,562.7 630.4,555.8 630.7,552.5 631.0,560.7 631.3,557.7 631.6,555.9 631.9,564.4 632.2,556.7 632.5,552.8 632.8,565.5 633.1,552.2 633.4,567.8 633.7,558.9 634.0,567.9 634.3,577.2 634.6,570.3 634.9,573.0 635.2,579.3 635.5,574.5 635.8,580.4 636.1,576.4 636.4,583.1 636.7,580.6 637.0,582.7 637.3,581.4 637.6,575.9 637.9,589.1 638.2,579.5 638.5,571.1 638.8,572.5 639.1,562.9 639.4,566.3 639.7,561.8 640.0,561.7 640.3,562.6 640.6,560.8 640.9,565.5 641.2,564.2 641.5,560.8 641.8,568.3 642.1,557.1 642.4,559.7 642.7,555.2 643.0,558.8 643.3,552.8 643.6,552.1 643.9,558.1 644.2,558.8 644.5,560.6 644.8,575.3 645.1,578.7 645.4,575.6 645.7,573.9 646.0,567.6 646.3,572.6 646.6,569.8 646.9,567.1 647.2,562.3 647.5,562.2 647.8,571.7 648.1,561.2 648.4,561.2 648.7,567.7 649.0,557.3 649.3,566.5 649.6,568.8 649.9,572.6 650.2,570.5 650.5,569.8 650.8,561.9 651.1,583.8 651.4,581.9 651.7,574.2 652.0,574.6 652.3,578.1 652.6,579.2 652.9,572.3 653.2,578.1 653.5,580.0 653.8,570.8 654.1,574.9 654.4,576.2 654.7,568.2 655.0,563.3 655.3,563.5 655.6,576.0 655.9,579.5 656.2,568.7 656.5,575.4 656.8,565.7 657.1,567.8 657.4,558.7 657.7,554.8 658.0,554.6 658.3,550.6 658.6,560.1 658.9,572.3 659.2,572.0 659.5,579.3 659.8,572.9" fill="none" stroke="#0a0a0a" stroke-width="0.85" stroke-linejoin="round"/>
<line x1="491.30" y1="559.70" x2="660.50" y2="559.70" stroke="#e83a3a" stroke-width="0.7" stroke-dasharray="2.6 1.1"/>
<text x="502.50" y="533.50" font-size="8.20" fill="#000" text-anchor="middle">x</text>
<text x="527.50" y="533.50" font-size="8.20" fill="#000" text-anchor="middle">x</text>
<rect x="479.50" y="626.30" width="14.50" height="8.90" fill="#fbdcc2" stroke="none" stroke-width="0.6"/>
<text x="497.80" y="633.90" font-size="9.18" fill="#111">object</text>
<rect x="592.50" y="626.30" width="14.70" height="8.90" fill="#c9dbf5" stroke="none" stroke-width="0.6"/>
<text x="611.50" y="633.90" font-size="9.23" fill="#111">social</text>
<line x1="518.50" y1="644.00" x2="532.10" y2="644.00" stroke="#0a0a0a" stroke-width="1.6"/>
<text x="534.80" y="647.30" font-size="9.25" fill="#111">baseline corrected z-scored trace</text>
<line x1="501.80" y1="524.00" x2="501.80" y2="620.30" stroke="#eef4fa" stroke-width="0.5"/>
<line x1="512.00" y1="524.00" x2="512.00" y2="620.30" stroke="#eef4fa" stroke-width="0.4"/>
<line x1="562.30" y1="524.00" x2="562.30" y2="620.30" stroke="#eef4fa" stroke-width="0.5"/>
<rect x="491.30" y="524.20" width="50.00" height="66.10" fill="none" stroke="#333" stroke-width="0.6" stroke-dasharray="0.8 0.8"/>
<line x1="491.30" y1="572.50" x2="586.00" y2="572.50" stroke="#b5c4cf" stroke-width="0.4"/>
<text x="5.30" y="664.80" font-size="9.00" fill="#111" text-anchor="start">q</text>
<text x="32.50" y="667.40" font-size="9.21" fill="#111">Fiber photometry during social preference</text>
<rect x="57.50" y="675.00" width="49.50" height="153.60" fill="#ececec" stroke="#222" stroke-width="0.7" stroke-dasharray="0.8 0.8"/>
<rect x="108.60" y="675.00" width="49.40" height="153.60" fill="#ecd9ec" stroke="#222" stroke-width="0.7" stroke-dasharray="0.8 0.8"/>
<line x1="55.00" y1="686.20" x2="55.00" y2="828.70" stroke="#444" stroke-width="0.6"/>
<line x1="51.50" y1="686.40" x2="55.00" y2="686.40" stroke="#444" stroke-width="0.6"/>
<text x="40.20" y="689.60" font-size="8.70" fill="#111" text-anchor="end">0.2</text>
<line x1="51.50" y1="721.95" x2="55.00" y2="721.95" stroke="#444" stroke-width="0.6"/>
<text x="40.20" y="725.15" font-size="8.70" fill="#111" text-anchor="end">0.1</text>
<line x1="51.50" y1="757.50" x2="55.00" y2="757.50" stroke="#444" stroke-width="0.6"/>
<text x="40.20" y="760.70" font-size="8.70" fill="#111" text-anchor="end">0.0</text>
<line x1="51.50" y1="793.05" x2="55.00" y2="793.05" stroke="#444" stroke-width="0.6"/>
<text x="40.20" y="796.25" font-size="8.70" fill="#111" text-anchor="end">-0.1</text>
<line x1="51.50" y1="828.60" x2="55.00" y2="828.60" stroke="#444" stroke-width="0.6"/>
<text x="40.20" y="831.80" font-size="8.70" fill="#111" text-anchor="end">-0.2</text>
<text transform="translate(16.30,797.00) rotate(-90)" font-size="9.26" fill="#111">Z-score dF/F</text>
<line x1="54.70" y1="828.70" x2="158.00" y2="828.70" stroke="#444" stroke-width="0.6"/>
<line x1="78.75" y1="828.70" x2="78.75" y2="833.00" stroke="#444" stroke-width="0.6"/>
<line x1="132.50" y1="828.70" x2="132.50" y2="833.00" stroke="#444" stroke-width="0.6"/>
<rect x="61.75" y="749.30" width="13.25" height="8.20" fill="#cfe0f6" stroke="#7fa8dc" stroke-width="0.5"/>
<rect x="81.75" y="748.50" width="14.00" height="9.00" fill="#fde3c8" stroke="#e8a560" stroke-width="0.5"/>
<rect x="115.75" y="745.00" width="14.00" height="12.50" fill="#cfe0f6" stroke="#7fa8dc" stroke-width="0.5"/>
<rect x="136.75" y="757.50" width="14.00" height="15.00" fill="#fde3c8" stroke="#e8a560" stroke-width="0.5"/>
<line x1="55.00" y1="757.50" x2="158.00" y2="757.50" stroke="#222" stroke-width="0.7"/>
<line x1="68.40" y1="745.30" x2="68.40" y2="753.30" stroke="#777" stroke-width="0.5"/>
<line x1="66.10" y1="745.30" x2="70.70" y2="745.30" stroke="#777" stroke-width="0.5"/>
<line x1="66.10" y1="753.30" x2="70.70" y2="753.30" stroke="#777" stroke-width="0.5"/>
<line x1="88.75" y1="740.50" x2="88.75" y2="756.00" stroke="#777" stroke-width="0.5"/>
<line x1="86.45" y1="740.50" x2="91.05" y2="740.50" stroke="#777" stroke-width="0.5"/>
<line x1="86.45" y1="756.00" x2="91.05" y2="756.00" stroke="#777" stroke-width="0.5"/>
<line x1="122.75" y1="740.50" x2="122.75" y2="749.00" stroke="#777" stroke-width="0.5"/>
<line x1="120.45" y1="740.50" x2="125.05" y2="740.50" stroke="#777" stroke-width="0.5"/>
<line x1="120.45" y1="749.00" x2="125.05" y2="749.00" stroke="#777" stroke-width="0.5"/>
<line x1="143.75" y1="765.50" x2="143.75" y2="780.50" stroke="#555" stroke-width="0.5"/>
<line x1="141.45" y1="765.50" x2="146.05" y2="765.50" stroke="#555" stroke-width="0.5"/>
<line x1="141.45" y1="780.50" x2="146.05" y2="780.50" stroke="#555" stroke-width="0.5"/>
<circle cx="65.25" cy="740.50" r="1.5" fill="#d4e6fa" stroke="#5f9be0" stroke-width="0.4"/>
<circle cx="71.25" cy="740.50" r="1.5" fill="#d4e6fa" stroke="#5f9be0" stroke-width="0.4"/>
<circle cx="65.50" cy="743.30" r="1.5" fill="#3f8be0" stroke="#5f9be0" stroke-width="0.4"/>
<circle cx="68.00" cy="746.00" r="1.5" fill="#d4e6fa" stroke="#5f9be0" stroke-width="0.4"/>
<circle cx="67.50" cy="751.00" r="1.5" fill="#3f8be0" stroke="#5f9be0" stroke-width="0.4"/>
<circle cx="67.75" cy="758.80" r="1.5" fill="#3f8be0" stroke="#5f9be0" stroke-width="0.4"/>
<circle cx="68.00" cy="766.50" r="1.5" fill="#d4e6fa" stroke="#5f9be0" stroke-width="0.4"/>
<circle cx="88.75" cy="711.30" r="1.5" fill="#f08a24" stroke="#e09040" stroke-width="0.4"/>
<circle cx="88.75" cy="727.00" r="1.5" fill="#f08a24" stroke="#e09040" stroke-width="0.4"/>
<circle cx="88.75" cy="755.50" r="1.5" fill="#fde6cf" stroke="#e09040" stroke-width="0.4"/>
<circle cx="83.25" cy="762.00" r="1.5" fill="#fde6cf" stroke="#e09040" stroke-width="0.4"/>
<rect x="87.65" y="758.40" width="2.20" height="2.20" fill="#f08a24" stroke="#e09040" stroke-width="0.4"/>
<circle cx="94.00" cy="761.30" r="1.5" fill="#fde6cf" stroke="#e09040" stroke-width="0.4"/>
<circle cx="85.50" cy="759.80" r="1.5" fill="#fde6cf" stroke="#e09040" stroke-width="0.4"/>
<circle cx="123.25" cy="730.00" r="1.5" fill="#d4e6fa" stroke="#5f9be0" stroke-width="0.4"/>
<circle cx="120.25" cy="740.50" r="1.5" fill="#3f8be0" stroke="#5f9be0" stroke-width="0.4"/>
<circle cx="125.75" cy="738.50" r="1.5" fill="#3f8be0" stroke="#5f9be0" stroke-width="0.4"/>
<circle cx="124.25" cy="746.00" r="1.5" fill="#d4e6fa" stroke="#5f9be0" stroke-width="0.4"/>
<circle cx="121.00" cy="746.50" r="1.5" fill="#3f8be0" stroke="#5f9be0" stroke-width="0.4"/>
<circle cx="123.25" cy="753.00" r="1.5" fill="#d4e6fa" stroke="#5f9be0" stroke-width="0.4"/>
<circle cx="123.25" cy="762.50" r="1.5" fill="#d4e6fa" stroke="#5f9be0" stroke-width="0.4"/>
<circle cx="143.75" cy="744.80" r="1.5" fill="#f08a24" stroke="#e09040" stroke-width="0.4"/>
<rect x="142.65" y="754.40" width="2.20" height="2.20" fill="#fde6cf" stroke="#e09040" stroke-width="0.4"/>
<circle cx="143.75" cy="768.30" r="1.5" fill="#f08a24" stroke="#e09040" stroke-width="0.4"/>
<circle cx="140.75" cy="774.30" r="1.5" fill="#f08a24" stroke="#e09040" stroke-width="0.4"/>
<circle cx="146.75" cy="771.30" r="1.5" fill="#fde6cf" stroke="#e09040" stroke-width="0.4"/>
<rect x="142.65" y="795.70" width="2.20" height="2.20" fill="#fde6cf" stroke="#e09040" stroke-width="0.4"/>
<rect x="142.65" y="799.40" width="2.20" height="2.20" fill="#fde6cf" stroke="#e09040" stroke-width="0.4"/>
<text x="72.50" y="703.50" font-size="8.99" fill="#333">ns</text>
<line x1="68.25" y1="706.30" x2="88.75" y2="706.30" stroke="#555" stroke-width="0.6"/>
<line x1="88.75" y1="688.30" x2="143.75" y2="688.30" stroke="#333" stroke-width="0.6"/>
<text x="119.70" y="684.00" font-size="9.00" fill="#222" text-anchor="middle">*</text>
<text x="134.70" y="706.30" font-size="9.00" fill="#222" text-anchor="middle">**</text>
<line x1="123.25" y1="706.30" x2="143.75" y2="706.30" stroke="#555" stroke-width="0.6"/>
<text x="50.00" y="841.50" font-size="9.24" fill="#111">group-housed</text>
<text x="113.75" y="841.50" font-size="9.27" fill="#111">24h isolated</text>
<circle cx="168.50" cy="693.50" r="1.6" fill="#b9d4f5" stroke="none" stroke-width="0.6"/>
<circle cx="168.50" cy="706.80" r="1.6" fill="#f8cfa8" stroke="none" stroke-width="0.6"/>
<text x="177.60" y="697.00" font-size="8.92" fill="#111">social</text>
<text x="177.60" y="710.30" font-size="8.96" fill="#111">object</text>
</svg>
</body></html>
